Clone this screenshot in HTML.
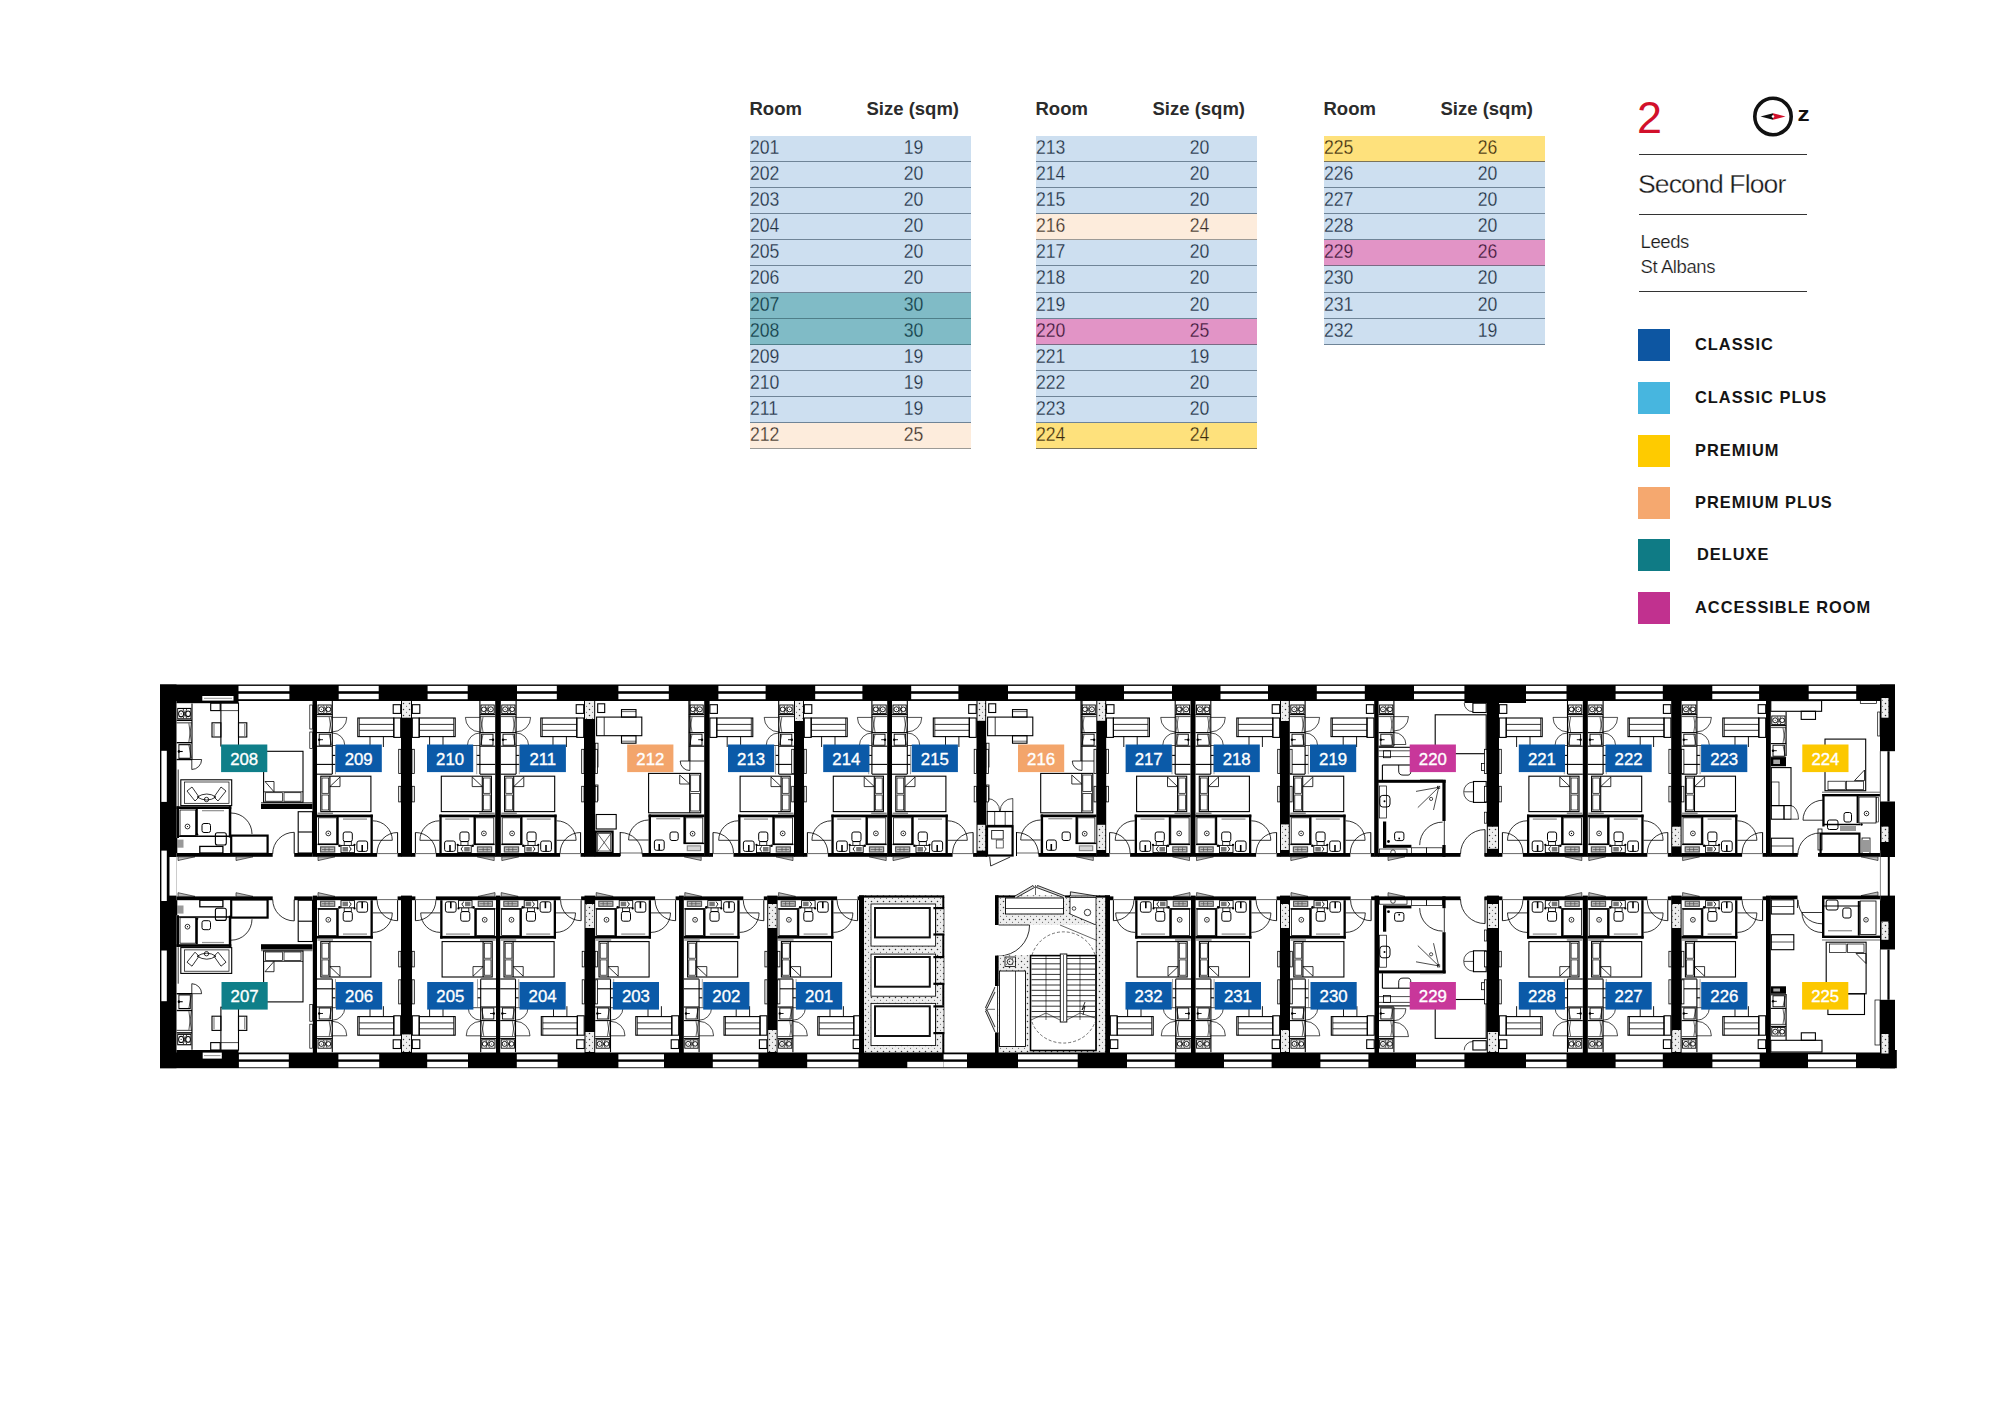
<!DOCTYPE html><html><head><meta charset="utf-8"><title>Second Floor</title><style>

*{margin:0;padding:0;box-sizing:border-box}
html,body{width:2000px;height:1414px;background:#fff;overflow:hidden}
body{position:relative;font-family:"Liberation Sans",Arial,sans-serif}
.th{position:absolute;top:97px;margin-left:-1px;font-weight:bold;font-size:18.5px;color:#2b2b2b;line-height:24px;white-space:nowrap}
.tr{position:absolute;width:221px;height:26px;border-bottom:1px solid #6f8497;font-size:19.6px;line-height:25px}
.tr .c1{position:absolute;left:0;top:-1px;transform:scaleX(0.9);transform-origin:0 0}
.tr .c2{position:absolute;left:143.5px;width:39px;text-align:center;top:-1px;transform:scaleX(0.9)}
.big2{position:absolute;left:1637px;top:92.5px;font-size:45px;line-height:50px;color:#d2102b}
.hr{position:absolute;left:1638.7px;width:168.7px;height:1.4px;background:#333}
.sf{position:absolute;left:1638px;top:168px;font-size:26.5px;letter-spacing:-0.85px;-webkit-text-stroke:0.3px #fff;line-height:32px;color:#1a1a1a;white-space:nowrap}
.city{position:absolute;left:1640.5px;letter-spacing:-0.4px;-webkit-text-stroke:0.22px #fff;font-size:18.5px;line-height:24px;color:#1a1a1a}
.sw{position:absolute;left:1637.5px;width:32.2px;height:31.5px}
.lg{position:absolute;font-weight:bold;font-size:16.4px;letter-spacing:1.0px;line-height:31.5px;color:#141414;white-space:nowrap}
svg{position:absolute;left:0;top:0}
.lb{font-family:"Liberation Sans",Arial,sans-serif;font-size:16.8px;fill:#fff;stroke:#fff;stroke-width:0.35px;text-anchor:middle}

</style></head><body>
<div class="th" style="left:750.5px">Room</div>
<div class="th" style="left:867.5px">Size (sqm)</div>
<div class="tr" style="left:750px;top:136px;height:26px;background:#cddff0;border-bottom-color:#6f8497;color:#22323f;-webkit-text-stroke:0.28px #cddff0"><span class="c1">201</span><span class="c2">19</span></div>
<div class="tr" style="left:750px;top:162px;height:26px;background:#cddff0;border-bottom-color:#6f8497;color:#22323f;-webkit-text-stroke:0.28px #cddff0"><span class="c1">202</span><span class="c2">20</span></div>
<div class="tr" style="left:750px;top:188px;height:26px;background:#cddff0;border-bottom-color:#6f8497;color:#22323f;-webkit-text-stroke:0.28px #cddff0"><span class="c1">203</span><span class="c2">20</span></div>
<div class="tr" style="left:750px;top:214px;height:26px;background:#cddff0;border-bottom-color:#6f8497;color:#22323f;-webkit-text-stroke:0.28px #cddff0"><span class="c1">204</span><span class="c2">20</span></div>
<div class="tr" style="left:750px;top:240px;height:26px;background:#cddff0;border-bottom-color:#6f8497;color:#22323f;-webkit-text-stroke:0.28px #cddff0"><span class="c1">205</span><span class="c2">20</span></div>
<div class="tr" style="left:750px;top:266px;height:27px;background:#cddff0;border-bottom-color:#6f8497;color:#22323f;-webkit-text-stroke:0.28px #cddff0"><span class="c1">206</span><span class="c2">20</span></div>
<div class="tr" style="left:750px;top:293px;height:26px;background:#80bbc6;border-bottom-color:#4f7f89;color:#123d45;-webkit-text-stroke:0.28px #80bbc6"><span class="c1">207</span><span class="c2">30</span></div>
<div class="tr" style="left:750px;top:319px;height:26px;background:#80bbc6;border-bottom-color:#4f7f89;color:#123d45;-webkit-text-stroke:0.28px #80bbc6"><span class="c1">208</span><span class="c2">30</span></div>
<div class="tr" style="left:750px;top:345px;height:26px;background:#cddff0;border-bottom-color:#6f8497;color:#22323f;-webkit-text-stroke:0.28px #cddff0"><span class="c1">209</span><span class="c2">19</span></div>
<div class="tr" style="left:750px;top:371px;height:26px;background:#cddff0;border-bottom-color:#6f8497;color:#22323f;-webkit-text-stroke:0.28px #cddff0"><span class="c1">210</span><span class="c2">19</span></div>
<div class="tr" style="left:750px;top:397px;height:26px;background:#cddff0;border-bottom-color:#6f8497;color:#22323f;-webkit-text-stroke:0.28px #cddff0"><span class="c1">211</span><span class="c2">19</span></div>
<div class="tr" style="left:750px;top:423px;height:26px;background:#fdecdc;border-bottom-color:#9c9a96;color:#3a2e2a;-webkit-text-stroke:0.28px #fdecdc"><span class="c1">212</span><span class="c2">25</span></div>
<div class="th" style="left:1036.5px">Room</div>
<div class="th" style="left:1153.5px">Size (sqm)</div>
<div class="tr" style="left:1036px;top:136px;height:26px;background:#cddff0;border-bottom-color:#6f8497;color:#22323f;-webkit-text-stroke:0.28px #cddff0"><span class="c1">213</span><span class="c2">20</span></div>
<div class="tr" style="left:1036px;top:162px;height:26px;background:#cddff0;border-bottom-color:#6f8497;color:#22323f;-webkit-text-stroke:0.28px #cddff0"><span class="c1">214</span><span class="c2">20</span></div>
<div class="tr" style="left:1036px;top:188px;height:26px;background:#cddff0;border-bottom-color:#6f8497;color:#22323f;-webkit-text-stroke:0.28px #cddff0"><span class="c1">215</span><span class="c2">20</span></div>
<div class="tr" style="left:1036px;top:214px;height:26px;background:#fdecdc;border-bottom-color:#9c9a96;color:#3a2e2a;-webkit-text-stroke:0.28px #fdecdc"><span class="c1">216</span><span class="c2">24</span></div>
<div class="tr" style="left:1036px;top:240px;height:26px;background:#cddff0;border-bottom-color:#6f8497;color:#22323f;-webkit-text-stroke:0.28px #cddff0"><span class="c1">217</span><span class="c2">20</span></div>
<div class="tr" style="left:1036px;top:266px;height:27px;background:#cddff0;border-bottom-color:#6f8497;color:#22323f;-webkit-text-stroke:0.28px #cddff0"><span class="c1">218</span><span class="c2">20</span></div>
<div class="tr" style="left:1036px;top:293px;height:26px;background:#cddff0;border-bottom-color:#6f8497;color:#22323f;-webkit-text-stroke:0.28px #cddff0"><span class="c1">219</span><span class="c2">20</span></div>
<div class="tr" style="left:1036px;top:319px;height:26px;background:#e294c6;border-bottom-color:#7c6a84;color:#3a1a3a;-webkit-text-stroke:0.28px #e294c6"><span class="c1">220</span><span class="c2">25</span></div>
<div class="tr" style="left:1036px;top:345px;height:26px;background:#cddff0;border-bottom-color:#6f8497;color:#22323f;-webkit-text-stroke:0.28px #cddff0"><span class="c1">221</span><span class="c2">19</span></div>
<div class="tr" style="left:1036px;top:371px;height:26px;background:#cddff0;border-bottom-color:#6f8497;color:#22323f;-webkit-text-stroke:0.28px #cddff0"><span class="c1">222</span><span class="c2">20</span></div>
<div class="tr" style="left:1036px;top:397px;height:26px;background:#cddff0;border-bottom-color:#6f8497;color:#22323f;-webkit-text-stroke:0.28px #cddff0"><span class="c1">223</span><span class="c2">20</span></div>
<div class="tr" style="left:1036px;top:423px;height:26px;background:#fee17c;border-bottom-color:#7a735a;color:#3a2a10;-webkit-text-stroke:0.28px #fee17c"><span class="c1">224</span><span class="c2">24</span></div>
<div class="th" style="left:1324.5px">Room</div>
<div class="th" style="left:1441.5px">Size (sqm)</div>
<div class="tr" style="left:1324px;top:136px;height:26px;background:#fee17c;border-bottom-color:#7a735a;color:#3a2a10;-webkit-text-stroke:0.28px #fee17c"><span class="c1">225</span><span class="c2">26</span></div>
<div class="tr" style="left:1324px;top:162px;height:26px;background:#cddff0;border-bottom-color:#6f8497;color:#22323f;-webkit-text-stroke:0.28px #cddff0"><span class="c1">226</span><span class="c2">20</span></div>
<div class="tr" style="left:1324px;top:188px;height:26px;background:#cddff0;border-bottom-color:#6f8497;color:#22323f;-webkit-text-stroke:0.28px #cddff0"><span class="c1">227</span><span class="c2">20</span></div>
<div class="tr" style="left:1324px;top:214px;height:26px;background:#cddff0;border-bottom-color:#6f8497;color:#22323f;-webkit-text-stroke:0.28px #cddff0"><span class="c1">228</span><span class="c2">20</span></div>
<div class="tr" style="left:1324px;top:240px;height:26px;background:#e294c6;border-bottom-color:#7c6a84;color:#3a1a3a;-webkit-text-stroke:0.28px #e294c6"><span class="c1">229</span><span class="c2">26</span></div>
<div class="tr" style="left:1324px;top:266px;height:27px;background:#cddff0;border-bottom-color:#6f8497;color:#22323f;-webkit-text-stroke:0.28px #cddff0"><span class="c1">230</span><span class="c2">20</span></div>
<div class="tr" style="left:1324px;top:293px;height:26px;background:#cddff0;border-bottom-color:#6f8497;color:#22323f;-webkit-text-stroke:0.28px #cddff0"><span class="c1">231</span><span class="c2">20</span></div>
<div class="tr" style="left:1324px;top:319px;height:26px;background:#cddff0;border-bottom-color:#6f8497;color:#22323f;-webkit-text-stroke:0.28px #cddff0"><span class="c1">232</span><span class="c2">19</span></div>
<div class="big2">2</div>
<div class="hr" style="top:154px"></div>
<div class="sf">Second Floor</div>
<div class="hr" style="top:214px"></div>
<div class="city" style="top:230px">Leeds</div>
<div class="city" style="top:255px">St Albans</div>
<div class="hr" style="top:291px"></div>
<div class="sw" style="top:329px;background:#0d56a2"></div>
<div class="lg" style="top:329px;left:1695px">CLASSIC</div>
<div class="sw" style="top:382px;background:#47b6df"></div>
<div class="lg" style="top:382px;left:1695px">CLASSIC PLUS</div>
<div class="sw" style="top:435px;background:#fecb00"></div>
<div class="lg" style="top:435px;left:1695px">PREMIUM</div>
<div class="sw" style="top:487px;background:#f5a86f"></div>
<div class="lg" style="top:487px;left:1695px">PREMIUM PLUS</div>
<div class="sw" style="top:539px;background:#0f7b85"></div>
<div class="lg" style="top:539px;left:1697px">DELUXE</div>
<div class="sw" style="top:592px;background:#c1318f"></div>
<div class="lg" style="top:592px;left:1695px">ACCESSIBLE ROOM</div>
<svg width="2000" height="1414" viewBox="0 0 2000 1414">
<circle cx="1773" cy="116.5" r="18.2" fill="none" stroke="#111" stroke-width="3.6"/>
<path d="M1760.5 116.5 L1773 113.3 L1773 119.7 Z" fill="#111"/>
<path d="M1785.5 116.5 L1773 113.3 L1773 119.7 Z" fill="#d2102b"/>
<circle cx="1773" cy="116.5" r="1.3" fill="#fff"/>
<text x="1797.5" y="121.5" font-family="Liberation Sans, Arial, sans-serif" font-weight="bold" font-size="21" fill="#111" transform="translate(1797.5,121.5) scale(1.15,1) translate(-1797.5,-121.5)">z</text>
<defs><pattern id="hatch" width="6" height="6" patternUnits="userSpaceOnUse"><rect width="6" height="6" fill="#eeeeee"/><circle cx="1.5" cy="1.5" r="0.75" fill="#333"/><circle cx="4.5" cy="4.2" r="0.55" fill="#555"/></pattern></defs><rect x="160" y="684.5" width="1736.5" height="384.2" fill="#fff"/><g transform="translate(317,701)"><line x1="15.3" y1="0" x2="15.3" y2="73" stroke="#000" stroke-width="1.1"/><rect x="1" y="4" width="13.2" height="8.4" fill="none" stroke="#000" stroke-width="0.9"/><circle cx="4.4" cy="8.3" r="2.5" stroke="#000" stroke-width="0.9" fill="none"/><circle cx="4.4" cy="8.3" r="0.5" fill="#000"/><circle cx="11.4" cy="8.3" r="2.3" stroke="#000" stroke-width="0.9" fill="none"/><path d="M 6.5 4.5 L 10 12 M 10 4.5 L 6.5 12" stroke="#000" stroke-width="0.7" fill="none"/><line x1="0" y1="13.6" x2="15.3" y2="13.6" stroke="#000" stroke-width="1.1"/><line x1="0" y1="15.6" x2="15.3" y2="15.6" stroke="#000" stroke-width="0.7"/><line x1="12.2" y1="16" x2="14.6" y2="31" stroke="#000" stroke-width="0.6"/><line x1="14.6" y1="16" x2="12.2" y2="31" stroke="#000" stroke-width="0.6"/><line x1="0" y1="31.6" x2="15.3" y2="31.6" stroke="#000" stroke-width="1.1"/><rect x="2.2" y="33.2" width="11.4" height="11" fill="none" stroke="#000" stroke-width="0.9"/><line x1="12.2" y1="33.5" x2="14.6" y2="44" stroke="#000" stroke-width="0.6"/><circle cx="2.2" cy="38.7" r="1.2" fill="#000"/><line x1="2.2" y1="38.7" x2="6" y2="38.7" stroke="#000" stroke-width="0.9"/><line x1="0" y1="45.2" x2="15.3" y2="45.2" stroke="#000" stroke-width="1.1"/><line x1="15.3" y1="54.4" x2="18.5" y2="54.4" stroke="#000" stroke-width="1.1"/><line x1="0" y1="63.4" x2="18.5" y2="63.4" stroke="#000" stroke-width="1.1"/><line x1="0" y1="73.2" x2="15.3" y2="73.2" stroke="#000" stroke-width="1.1"/><path d="M 15.3 16.4 H 29.8 A 14.5 14.5 0 0 1 15.3 30.9" stroke="#000" stroke-width="0.7" fill="none"/><path d="M 15.3 32 A 12.5 12.5 0 0 1 27.8 44.5 H 15.3" stroke="#000" stroke-width="0.7" fill="none"/><line x1="18.5" y1="45.2" x2="18.5" y2="73.2" stroke="#666" stroke-width="0.6"/><rect x="40.8" y="17" width="36" height="18.6" fill="none" stroke="#000" stroke-width="1.1"/><line x1="42.3" y1="17" x2="42.3" y2="35.6" stroke="#000" stroke-width="0.8"/><line x1="42.3" y1="23.4" x2="76.8" y2="23.4" stroke="#000" stroke-width="0.8"/><line x1="42.3" y1="29.3" x2="76.8" y2="29.3" stroke="#000" stroke-width="0.8"/><rect x="76.8" y="17" width="6.9" height="19.4" fill="none" stroke="#000" stroke-width="1.1"/><path d="M 53 35.6 V 46 M 66.4 35.6 V 46" stroke="#000" stroke-width="0.9" fill="none"/><rect x="76.2" y="3.7" width="7.5" height="8.7" fill="none" stroke="#000" stroke-width="1.1"/><rect x="3.8" y="75.2" width="50.1" height="35.4" fill="none" stroke="#000" stroke-width="1.1"/><line x1="12.9" y1="75.2" x2="12.9" y2="110.6" stroke="#000" stroke-width="1.1"/><rect x="5" y="77" width="6.7" height="15.3" fill="none" stroke="#000" stroke-width="0.7"/><rect x="5" y="94" width="6.7" height="15" fill="none" stroke="#000" stroke-width="0.7"/><path d="M 12.9 85.6 L 23 76 V 85.6 Z" stroke="#000" stroke-width="0.8" fill="none"/><line x1="0.5" y1="112.2" x2="16" y2="112.2" stroke="#000" stroke-width="0.7"/><rect x="-0.2" y="113.6" width="56" height="2.7" fill="#000"/><rect x="53.5" y="113.6" width="2.3" height="38.4" fill="#000"/><rect x="19.7" y="116" width="2" height="27" fill="#000"/><rect x="1.4" y="116.8" width="18.3" height="26.2" fill="none" stroke="#000" stroke-width="0.8"/><line x1="0.5" y1="143.4" x2="21.7" y2="143.4" stroke="#000" stroke-width="1.4"/><circle cx="11.3" cy="132.4" r="2.4" stroke="#000" stroke-width="0.8" fill="none"/><circle cx="11.3" cy="132.4" r="0.6" fill="#000"/><rect x="26.2" y="131" width="9.1" height="9.6" fill="none" stroke="#000" stroke-width="1" rx="2"/><rect x="27.2" y="140.6" width="7.1" height="3.8" fill="none" stroke="#000" stroke-width="0.8"/><rect x="39.9" y="140" width="10.7" height="10.4" fill="none" stroke="#000" stroke-width="1" rx="2"/><line x1="45.2" y1="144" x2="45.2" y2="150.4" stroke="#000" stroke-width="1.6"/><rect x="3" y="145.3" width="15.3" height="6.3" fill="#555"/><rect x="4.2" y="146.5" width="12.9" height="3.9" fill="#bbb"/><path d="M 5 148.5 H 16.5 M 8 146.5 V 150.4 M 12 146.5 V 150.4" stroke="#444" stroke-width="0.6" fill="none"/><rect x="24" y="144.4" width="13.5" height="7.2" fill="#fff" stroke="#000" stroke-width="0.9"/><rect x="25.5" y="146" width="5.5" height="4.5" fill="#777"/><path d="M 32 150.5 Q 36 148 32 145.5" stroke="#000" stroke-width="0.9" fill="none"/><rect x="26" y="117.4" width="24" height="1.4" fill="#999"/><circle cx="22.5" cy="144.8" r="1.3" fill="#000"/><circle cx="37.5" cy="143.8" r="1.1" fill="#000"/><path d="M 55.8 119.8 A 19.5 19.5 0 0 1 75.3 139.3 H 55.8" stroke="#000" stroke-width="0.8" fill="none"/><line x1="80.6" y1="131.5" x2="80.6" y2="152" stroke="#000" stroke-width="1"/><path d="M 80.6 131.5 A 20.5 20.5 0 0 0 60.1 152" stroke="#000" stroke-width="0.8" fill="none"/><line x1="60.1" y1="152.6" x2="80.6" y2="152.6" stroke="#000" stroke-width="0.6"/><rect x="-0.5" y="152" width="60.6" height="3.8" fill="#000"/><rect x="80.6" y="152" width="3.9" height="3.8" fill="#000"/><path d="M 1 155.8 L 18 155.8 L 1 159.6 Z" stroke="#000" stroke-width="0.6" fill="#bbb"/></g><g transform="translate(495.2,701) scale(-1,1)"><line x1="15.3" y1="0" x2="15.3" y2="73" stroke="#000" stroke-width="1.1"/><rect x="1" y="4" width="13.2" height="8.4" fill="none" stroke="#000" stroke-width="0.9"/><circle cx="4.4" cy="8.3" r="2.5" stroke="#000" stroke-width="0.9" fill="none"/><circle cx="4.4" cy="8.3" r="0.5" fill="#000"/><circle cx="11.4" cy="8.3" r="2.3" stroke="#000" stroke-width="0.9" fill="none"/><path d="M 6.5 4.5 L 10 12 M 10 4.5 L 6.5 12" stroke="#000" stroke-width="0.7" fill="none"/><line x1="0" y1="13.6" x2="15.3" y2="13.6" stroke="#000" stroke-width="1.1"/><line x1="0" y1="15.6" x2="15.3" y2="15.6" stroke="#000" stroke-width="0.7"/><line x1="12.2" y1="16" x2="14.6" y2="31" stroke="#000" stroke-width="0.6"/><line x1="14.6" y1="16" x2="12.2" y2="31" stroke="#000" stroke-width="0.6"/><line x1="0" y1="31.6" x2="15.3" y2="31.6" stroke="#000" stroke-width="1.1"/><rect x="2.2" y="33.2" width="11.4" height="11" fill="none" stroke="#000" stroke-width="0.9"/><line x1="12.2" y1="33.5" x2="14.6" y2="44" stroke="#000" stroke-width="0.6"/><circle cx="2.2" cy="38.7" r="1.2" fill="#000"/><line x1="2.2" y1="38.7" x2="6" y2="38.7" stroke="#000" stroke-width="0.9"/><line x1="0" y1="45.2" x2="15.3" y2="45.2" stroke="#000" stroke-width="1.1"/><line x1="15.3" y1="54.4" x2="18.5" y2="54.4" stroke="#000" stroke-width="1.1"/><line x1="0" y1="63.4" x2="18.5" y2="63.4" stroke="#000" stroke-width="1.1"/><line x1="0" y1="73.2" x2="15.3" y2="73.2" stroke="#000" stroke-width="1.1"/><path d="M 15.3 16.4 H 29.8 A 14.5 14.5 0 0 1 15.3 30.9" stroke="#000" stroke-width="0.7" fill="none"/><path d="M 15.3 32 A 12.5 12.5 0 0 1 27.8 44.5 H 15.3" stroke="#000" stroke-width="0.7" fill="none"/><line x1="18.5" y1="45.2" x2="18.5" y2="73.2" stroke="#666" stroke-width="0.6"/><rect x="40" y="17" width="36" height="18.6" fill="none" stroke="#000" stroke-width="1.1"/><line x1="41.5" y1="17" x2="41.5" y2="35.6" stroke="#000" stroke-width="0.8"/><line x1="41.5" y1="23.4" x2="76" y2="23.4" stroke="#000" stroke-width="0.8"/><line x1="41.5" y1="29.3" x2="76" y2="29.3" stroke="#000" stroke-width="0.8"/><rect x="76" y="17" width="6.9" height="19.4" fill="none" stroke="#000" stroke-width="1.1"/><path d="M 52.2 35.6 V 46 M 65.6 35.6 V 46" stroke="#000" stroke-width="0.9" fill="none"/><rect x="75.4" y="3.7" width="7.5" height="8.7" fill="none" stroke="#000" stroke-width="1.1"/><rect x="3.8" y="75.2" width="50.1" height="35.4" fill="none" stroke="#000" stroke-width="1.1"/><line x1="12.9" y1="75.2" x2="12.9" y2="110.6" stroke="#000" stroke-width="1.1"/><rect x="5" y="77" width="6.7" height="15.3" fill="none" stroke="#000" stroke-width="0.7"/><rect x="5" y="94" width="6.7" height="15" fill="none" stroke="#000" stroke-width="0.7"/><path d="M 12.9 85.6 L 23 76 V 85.6 Z" stroke="#000" stroke-width="0.8" fill="none"/><line x1="0.5" y1="112.2" x2="16" y2="112.2" stroke="#000" stroke-width="0.7"/><rect x="-0.2" y="113.6" width="56" height="2.7" fill="#000"/><rect x="53.5" y="113.6" width="2.3" height="38.4" fill="#000"/><rect x="19.7" y="116" width="2" height="27" fill="#000"/><rect x="1.4" y="116.8" width="18.3" height="26.2" fill="none" stroke="#000" stroke-width="0.8"/><line x1="0.5" y1="143.4" x2="21.7" y2="143.4" stroke="#000" stroke-width="1.4"/><circle cx="11.3" cy="132.4" r="2.4" stroke="#000" stroke-width="0.8" fill="none"/><circle cx="11.3" cy="132.4" r="0.6" fill="#000"/><rect x="26.2" y="131" width="9.1" height="9.6" fill="none" stroke="#000" stroke-width="1" rx="2"/><rect x="27.2" y="140.6" width="7.1" height="3.8" fill="none" stroke="#000" stroke-width="0.8"/><rect x="39.9" y="140" width="10.7" height="10.4" fill="none" stroke="#000" stroke-width="1" rx="2"/><line x1="45.2" y1="144" x2="45.2" y2="150.4" stroke="#000" stroke-width="1.6"/><rect x="3" y="145.3" width="15.3" height="6.3" fill="#555"/><rect x="4.2" y="146.5" width="12.9" height="3.9" fill="#bbb"/><path d="M 5 148.5 H 16.5 M 8 146.5 V 150.4 M 12 146.5 V 150.4" stroke="#444" stroke-width="0.6" fill="none"/><rect x="24" y="144.4" width="13.5" height="7.2" fill="#fff" stroke="#000" stroke-width="0.9"/><rect x="25.5" y="146" width="5.5" height="4.5" fill="#777"/><path d="M 32 150.5 Q 36 148 32 145.5" stroke="#000" stroke-width="0.9" fill="none"/><rect x="26" y="117.4" width="24" height="1.4" fill="#999"/><circle cx="22.5" cy="144.8" r="1.3" fill="#000"/><circle cx="37.5" cy="143.8" r="1.1" fill="#000"/><path d="M 55.8 119.8 A 19.5 19.5 0 0 1 75.3 139.3 H 55.8" stroke="#000" stroke-width="0.8" fill="none"/><line x1="79.8" y1="131.5" x2="79.8" y2="152" stroke="#000" stroke-width="1"/><path d="M 79.8 131.5 A 20.5 20.5 0 0 0 59.3 152" stroke="#000" stroke-width="0.8" fill="none"/><line x1="59.3" y1="152.6" x2="79.8" y2="152.6" stroke="#000" stroke-width="0.6"/><rect x="-0.5" y="152" width="59.8" height="3.8" fill="#000"/><rect x="79.8" y="152" width="3.9" height="3.8" fill="#000"/><path d="M 1 155.8 L 18 155.8 L 1 159.6 Z" stroke="#000" stroke-width="0.6" fill="#bbb"/></g><g transform="translate(500.8,701)"><line x1="15.3" y1="0" x2="15.3" y2="73" stroke="#000" stroke-width="1.1"/><rect x="1" y="4" width="13.2" height="8.4" fill="none" stroke="#000" stroke-width="0.9"/><circle cx="4.4" cy="8.3" r="2.5" stroke="#000" stroke-width="0.9" fill="none"/><circle cx="4.4" cy="8.3" r="0.5" fill="#000"/><circle cx="11.4" cy="8.3" r="2.3" stroke="#000" stroke-width="0.9" fill="none"/><path d="M 6.5 4.5 L 10 12 M 10 4.5 L 6.5 12" stroke="#000" stroke-width="0.7" fill="none"/><line x1="0" y1="13.6" x2="15.3" y2="13.6" stroke="#000" stroke-width="1.1"/><line x1="0" y1="15.6" x2="15.3" y2="15.6" stroke="#000" stroke-width="0.7"/><line x1="12.2" y1="16" x2="14.6" y2="31" stroke="#000" stroke-width="0.6"/><line x1="14.6" y1="16" x2="12.2" y2="31" stroke="#000" stroke-width="0.6"/><line x1="0" y1="31.6" x2="15.3" y2="31.6" stroke="#000" stroke-width="1.1"/><rect x="2.2" y="33.2" width="11.4" height="11" fill="none" stroke="#000" stroke-width="0.9"/><line x1="12.2" y1="33.5" x2="14.6" y2="44" stroke="#000" stroke-width="0.6"/><circle cx="2.2" cy="38.7" r="1.2" fill="#000"/><line x1="2.2" y1="38.7" x2="6" y2="38.7" stroke="#000" stroke-width="0.9"/><line x1="0" y1="45.2" x2="15.3" y2="45.2" stroke="#000" stroke-width="1.1"/><line x1="15.3" y1="54.4" x2="18.5" y2="54.4" stroke="#000" stroke-width="1.1"/><line x1="0" y1="63.4" x2="18.5" y2="63.4" stroke="#000" stroke-width="1.1"/><line x1="0" y1="73.2" x2="15.3" y2="73.2" stroke="#000" stroke-width="1.1"/><path d="M 15.3 16.4 H 29.8 A 14.5 14.5 0 0 1 15.3 30.9" stroke="#000" stroke-width="0.7" fill="none"/><path d="M 15.3 32 A 12.5 12.5 0 0 1 27.8 44.5 H 15.3" stroke="#000" stroke-width="0.7" fill="none"/><line x1="18.5" y1="45.2" x2="18.5" y2="73.2" stroke="#666" stroke-width="0.6"/><rect x="40" y="17" width="36" height="18.6" fill="none" stroke="#000" stroke-width="1.1"/><line x1="41.5" y1="17" x2="41.5" y2="35.6" stroke="#000" stroke-width="0.8"/><line x1="41.5" y1="23.4" x2="76" y2="23.4" stroke="#000" stroke-width="0.8"/><line x1="41.5" y1="29.3" x2="76" y2="29.3" stroke="#000" stroke-width="0.8"/><rect x="76" y="17" width="6.9" height="19.4" fill="none" stroke="#000" stroke-width="1.1"/><path d="M 52.2 35.6 V 46 M 65.6 35.6 V 46" stroke="#000" stroke-width="0.9" fill="none"/><rect x="75.4" y="3.7" width="7.5" height="8.7" fill="none" stroke="#000" stroke-width="1.1"/><rect x="3.8" y="75.2" width="50.1" height="35.4" fill="none" stroke="#000" stroke-width="1.1"/><line x1="12.9" y1="75.2" x2="12.9" y2="110.6" stroke="#000" stroke-width="1.1"/><rect x="5" y="77" width="6.7" height="15.3" fill="none" stroke="#000" stroke-width="0.7"/><rect x="5" y="94" width="6.7" height="15" fill="none" stroke="#000" stroke-width="0.7"/><path d="M 12.9 85.6 L 23 76 V 85.6 Z" stroke="#000" stroke-width="0.8" fill="none"/><line x1="0.5" y1="112.2" x2="16" y2="112.2" stroke="#000" stroke-width="0.7"/><rect x="-0.2" y="113.6" width="56" height="2.7" fill="#000"/><rect x="53.5" y="113.6" width="2.3" height="38.4" fill="#000"/><rect x="19.7" y="116" width="2" height="27" fill="#000"/><rect x="1.4" y="116.8" width="18.3" height="26.2" fill="none" stroke="#000" stroke-width="0.8"/><line x1="0.5" y1="143.4" x2="21.7" y2="143.4" stroke="#000" stroke-width="1.4"/><circle cx="11.3" cy="132.4" r="2.4" stroke="#000" stroke-width="0.8" fill="none"/><circle cx="11.3" cy="132.4" r="0.6" fill="#000"/><rect x="26.2" y="131" width="9.1" height="9.6" fill="none" stroke="#000" stroke-width="1" rx="2"/><rect x="27.2" y="140.6" width="7.1" height="3.8" fill="none" stroke="#000" stroke-width="0.8"/><rect x="39.9" y="140" width="10.7" height="10.4" fill="none" stroke="#000" stroke-width="1" rx="2"/><line x1="45.2" y1="144" x2="45.2" y2="150.4" stroke="#000" stroke-width="1.6"/><rect x="3" y="145.3" width="15.3" height="6.3" fill="#555"/><rect x="4.2" y="146.5" width="12.9" height="3.9" fill="#bbb"/><path d="M 5 148.5 H 16.5 M 8 146.5 V 150.4 M 12 146.5 V 150.4" stroke="#444" stroke-width="0.6" fill="none"/><rect x="24" y="144.4" width="13.5" height="7.2" fill="#fff" stroke="#000" stroke-width="0.9"/><rect x="25.5" y="146" width="5.5" height="4.5" fill="#777"/><path d="M 32 150.5 Q 36 148 32 145.5" stroke="#000" stroke-width="0.9" fill="none"/><rect x="26" y="117.4" width="24" height="1.4" fill="#999"/><circle cx="22.5" cy="144.8" r="1.3" fill="#000"/><circle cx="37.5" cy="143.8" r="1.1" fill="#000"/><path d="M 55.8 119.8 A 19.5 19.5 0 0 1 75.3 139.3 H 55.8" stroke="#000" stroke-width="0.8" fill="none"/><line x1="79.8" y1="131.5" x2="79.8" y2="152" stroke="#000" stroke-width="1"/><path d="M 79.8 131.5 A 20.5 20.5 0 0 0 59.3 152" stroke="#000" stroke-width="0.8" fill="none"/><line x1="59.3" y1="152.6" x2="79.8" y2="152.6" stroke="#000" stroke-width="0.6"/><rect x="-0.5" y="152" width="59.8" height="3.8" fill="#000"/><rect x="79.8" y="152" width="3.9" height="3.8" fill="#000"/><path d="M 1 155.8 L 18 155.8 L 1 159.6 Z" stroke="#000" stroke-width="0.6" fill="#bbb"/></g><g transform="translate(794,701) scale(-1,1)"><line x1="15.3" y1="0" x2="15.3" y2="73" stroke="#000" stroke-width="1.1"/><rect x="1" y="4" width="13.2" height="8.4" fill="none" stroke="#000" stroke-width="0.9"/><circle cx="4.4" cy="8.3" r="2.5" stroke="#000" stroke-width="0.9" fill="none"/><circle cx="4.4" cy="8.3" r="0.5" fill="#000"/><circle cx="11.4" cy="8.3" r="2.3" stroke="#000" stroke-width="0.9" fill="none"/><path d="M 6.5 4.5 L 10 12 M 10 4.5 L 6.5 12" stroke="#000" stroke-width="0.7" fill="none"/><line x1="0" y1="13.6" x2="15.3" y2="13.6" stroke="#000" stroke-width="1.1"/><line x1="0" y1="15.6" x2="15.3" y2="15.6" stroke="#000" stroke-width="0.7"/><line x1="12.2" y1="16" x2="14.6" y2="31" stroke="#000" stroke-width="0.6"/><line x1="14.6" y1="16" x2="12.2" y2="31" stroke="#000" stroke-width="0.6"/><line x1="0" y1="31.6" x2="15.3" y2="31.6" stroke="#000" stroke-width="1.1"/><rect x="2.2" y="33.2" width="11.4" height="11" fill="none" stroke="#000" stroke-width="0.9"/><line x1="12.2" y1="33.5" x2="14.6" y2="44" stroke="#000" stroke-width="0.6"/><circle cx="2.2" cy="38.7" r="1.2" fill="#000"/><line x1="2.2" y1="38.7" x2="6" y2="38.7" stroke="#000" stroke-width="0.9"/><line x1="0" y1="45.2" x2="15.3" y2="45.2" stroke="#000" stroke-width="1.1"/><line x1="15.3" y1="54.4" x2="18.5" y2="54.4" stroke="#000" stroke-width="1.1"/><line x1="0" y1="63.4" x2="18.5" y2="63.4" stroke="#000" stroke-width="1.1"/><line x1="0" y1="73.2" x2="15.3" y2="73.2" stroke="#000" stroke-width="1.1"/><path d="M 15.3 16.4 H 29.8 A 14.5 14.5 0 0 1 15.3 30.9" stroke="#000" stroke-width="0.7" fill="none"/><path d="M 15.3 32 A 12.5 12.5 0 0 1 27.8 44.5 H 15.3" stroke="#000" stroke-width="0.7" fill="none"/><line x1="18.5" y1="45.2" x2="18.5" y2="73.2" stroke="#666" stroke-width="0.6"/><rect x="41.2" y="17" width="36" height="18.6" fill="none" stroke="#000" stroke-width="1.1"/><line x1="42.7" y1="17" x2="42.7" y2="35.6" stroke="#000" stroke-width="0.8"/><line x1="42.7" y1="23.4" x2="77.2" y2="23.4" stroke="#000" stroke-width="0.8"/><line x1="42.7" y1="29.3" x2="77.2" y2="29.3" stroke="#000" stroke-width="0.8"/><rect x="77.2" y="17" width="6.9" height="19.4" fill="none" stroke="#000" stroke-width="1.1"/><path d="M 53.4 35.6 V 46 M 66.8 35.6 V 46" stroke="#000" stroke-width="0.9" fill="none"/><rect x="76.6" y="3.7" width="7.5" height="8.7" fill="none" stroke="#000" stroke-width="1.1"/><rect x="3.8" y="75.2" width="50.1" height="35.4" fill="none" stroke="#000" stroke-width="1.1"/><line x1="12.9" y1="75.2" x2="12.9" y2="110.6" stroke="#000" stroke-width="1.1"/><rect x="5" y="77" width="6.7" height="15.3" fill="none" stroke="#000" stroke-width="0.7"/><rect x="5" y="94" width="6.7" height="15" fill="none" stroke="#000" stroke-width="0.7"/><path d="M 12.9 85.6 L 23 76 V 85.6 Z" stroke="#000" stroke-width="0.8" fill="none"/><line x1="0.5" y1="112.2" x2="16" y2="112.2" stroke="#000" stroke-width="0.7"/><rect x="-0.2" y="113.6" width="56" height="2.7" fill="#000"/><rect x="53.5" y="113.6" width="2.3" height="38.4" fill="#000"/><rect x="19.7" y="116" width="2" height="27" fill="#000"/><rect x="1.4" y="116.8" width="18.3" height="26.2" fill="none" stroke="#000" stroke-width="0.8"/><line x1="0.5" y1="143.4" x2="21.7" y2="143.4" stroke="#000" stroke-width="1.4"/><circle cx="11.3" cy="132.4" r="2.4" stroke="#000" stroke-width="0.8" fill="none"/><circle cx="11.3" cy="132.4" r="0.6" fill="#000"/><rect x="26.2" y="131" width="9.1" height="9.6" fill="none" stroke="#000" stroke-width="1" rx="2"/><rect x="27.2" y="140.6" width="7.1" height="3.8" fill="none" stroke="#000" stroke-width="0.8"/><rect x="39.9" y="140" width="10.7" height="10.4" fill="none" stroke="#000" stroke-width="1" rx="2"/><line x1="45.2" y1="144" x2="45.2" y2="150.4" stroke="#000" stroke-width="1.6"/><rect x="3" y="145.3" width="15.3" height="6.3" fill="#555"/><rect x="4.2" y="146.5" width="12.9" height="3.9" fill="#bbb"/><path d="M 5 148.5 H 16.5 M 8 146.5 V 150.4 M 12 146.5 V 150.4" stroke="#444" stroke-width="0.6" fill="none"/><rect x="24" y="144.4" width="13.5" height="7.2" fill="#fff" stroke="#000" stroke-width="0.9"/><rect x="25.5" y="146" width="5.5" height="4.5" fill="#777"/><path d="M 32 150.5 Q 36 148 32 145.5" stroke="#000" stroke-width="0.9" fill="none"/><rect x="26" y="117.4" width="24" height="1.4" fill="#999"/><circle cx="22.5" cy="144.8" r="1.3" fill="#000"/><circle cx="37.5" cy="143.8" r="1.1" fill="#000"/><path d="M 55.8 119.8 A 19.5 19.5 0 0 1 75.3 139.3 H 55.8" stroke="#000" stroke-width="0.8" fill="none"/><line x1="81" y1="131.5" x2="81" y2="152" stroke="#000" stroke-width="1"/><path d="M 81 131.5 A 20.5 20.5 0 0 0 60.5 152" stroke="#000" stroke-width="0.8" fill="none"/><line x1="60.5" y1="152.6" x2="81" y2="152.6" stroke="#000" stroke-width="0.6"/><rect x="-0.5" y="152" width="61" height="3.8" fill="#000"/><rect x="81" y="152" width="3.9" height="3.8" fill="#000"/><path d="M 1 155.8 L 18 155.8 L 1 159.6 Z" stroke="#000" stroke-width="0.6" fill="#bbb"/></g><g transform="translate(887.2,701) scale(-1,1)"><line x1="15.3" y1="0" x2="15.3" y2="73" stroke="#000" stroke-width="1.1"/><rect x="1" y="4" width="13.2" height="8.4" fill="none" stroke="#000" stroke-width="0.9"/><circle cx="4.4" cy="8.3" r="2.5" stroke="#000" stroke-width="0.9" fill="none"/><circle cx="4.4" cy="8.3" r="0.5" fill="#000"/><circle cx="11.4" cy="8.3" r="2.3" stroke="#000" stroke-width="0.9" fill="none"/><path d="M 6.5 4.5 L 10 12 M 10 4.5 L 6.5 12" stroke="#000" stroke-width="0.7" fill="none"/><line x1="0" y1="13.6" x2="15.3" y2="13.6" stroke="#000" stroke-width="1.1"/><line x1="0" y1="15.6" x2="15.3" y2="15.6" stroke="#000" stroke-width="0.7"/><line x1="12.2" y1="16" x2="14.6" y2="31" stroke="#000" stroke-width="0.6"/><line x1="14.6" y1="16" x2="12.2" y2="31" stroke="#000" stroke-width="0.6"/><line x1="0" y1="31.6" x2="15.3" y2="31.6" stroke="#000" stroke-width="1.1"/><rect x="2.2" y="33.2" width="11.4" height="11" fill="none" stroke="#000" stroke-width="0.9"/><line x1="12.2" y1="33.5" x2="14.6" y2="44" stroke="#000" stroke-width="0.6"/><circle cx="2.2" cy="38.7" r="1.2" fill="#000"/><line x1="2.2" y1="38.7" x2="6" y2="38.7" stroke="#000" stroke-width="0.9"/><line x1="0" y1="45.2" x2="15.3" y2="45.2" stroke="#000" stroke-width="1.1"/><line x1="15.3" y1="54.4" x2="18.5" y2="54.4" stroke="#000" stroke-width="1.1"/><line x1="0" y1="63.4" x2="18.5" y2="63.4" stroke="#000" stroke-width="1.1"/><line x1="0" y1="73.2" x2="15.3" y2="73.2" stroke="#000" stroke-width="1.1"/><path d="M 15.3 16.4 H 29.8 A 14.5 14.5 0 0 1 15.3 30.9" stroke="#000" stroke-width="0.7" fill="none"/><path d="M 15.3 32 A 12.5 12.5 0 0 1 27.8 44.5 H 15.3" stroke="#000" stroke-width="0.7" fill="none"/><line x1="18.5" y1="45.2" x2="18.5" y2="73.2" stroke="#666" stroke-width="0.6"/><rect x="40" y="17" width="36" height="18.6" fill="none" stroke="#000" stroke-width="1.1"/><line x1="41.5" y1="17" x2="41.5" y2="35.6" stroke="#000" stroke-width="0.8"/><line x1="41.5" y1="23.4" x2="76" y2="23.4" stroke="#000" stroke-width="0.8"/><line x1="41.5" y1="29.3" x2="76" y2="29.3" stroke="#000" stroke-width="0.8"/><rect x="76" y="17" width="6.9" height="19.4" fill="none" stroke="#000" stroke-width="1.1"/><path d="M 52.2 35.6 V 46 M 65.6 35.6 V 46" stroke="#000" stroke-width="0.9" fill="none"/><rect x="75.4" y="3.7" width="7.5" height="8.7" fill="none" stroke="#000" stroke-width="1.1"/><rect x="3.8" y="75.2" width="50.1" height="35.4" fill="none" stroke="#000" stroke-width="1.1"/><line x1="12.9" y1="75.2" x2="12.9" y2="110.6" stroke="#000" stroke-width="1.1"/><rect x="5" y="77" width="6.7" height="15.3" fill="none" stroke="#000" stroke-width="0.7"/><rect x="5" y="94" width="6.7" height="15" fill="none" stroke="#000" stroke-width="0.7"/><path d="M 12.9 85.6 L 23 76 V 85.6 Z" stroke="#000" stroke-width="0.8" fill="none"/><line x1="0.5" y1="112.2" x2="16" y2="112.2" stroke="#000" stroke-width="0.7"/><rect x="-0.2" y="113.6" width="56" height="2.7" fill="#000"/><rect x="53.5" y="113.6" width="2.3" height="38.4" fill="#000"/><rect x="19.7" y="116" width="2" height="27" fill="#000"/><rect x="1.4" y="116.8" width="18.3" height="26.2" fill="none" stroke="#000" stroke-width="0.8"/><line x1="0.5" y1="143.4" x2="21.7" y2="143.4" stroke="#000" stroke-width="1.4"/><circle cx="11.3" cy="132.4" r="2.4" stroke="#000" stroke-width="0.8" fill="none"/><circle cx="11.3" cy="132.4" r="0.6" fill="#000"/><rect x="26.2" y="131" width="9.1" height="9.6" fill="none" stroke="#000" stroke-width="1" rx="2"/><rect x="27.2" y="140.6" width="7.1" height="3.8" fill="none" stroke="#000" stroke-width="0.8"/><rect x="39.9" y="140" width="10.7" height="10.4" fill="none" stroke="#000" stroke-width="1" rx="2"/><line x1="45.2" y1="144" x2="45.2" y2="150.4" stroke="#000" stroke-width="1.6"/><rect x="3" y="145.3" width="15.3" height="6.3" fill="#555"/><rect x="4.2" y="146.5" width="12.9" height="3.9" fill="#bbb"/><path d="M 5 148.5 H 16.5 M 8 146.5 V 150.4 M 12 146.5 V 150.4" stroke="#444" stroke-width="0.6" fill="none"/><rect x="24" y="144.4" width="13.5" height="7.2" fill="#fff" stroke="#000" stroke-width="0.9"/><rect x="25.5" y="146" width="5.5" height="4.5" fill="#777"/><path d="M 32 150.5 Q 36 148 32 145.5" stroke="#000" stroke-width="0.9" fill="none"/><rect x="26" y="117.4" width="24" height="1.4" fill="#999"/><circle cx="22.5" cy="144.8" r="1.3" fill="#000"/><circle cx="37.5" cy="143.8" r="1.1" fill="#000"/><path d="M 55.8 119.8 A 19.5 19.5 0 0 1 75.3 139.3 H 55.8" stroke="#000" stroke-width="0.8" fill="none"/><line x1="79.8" y1="131.5" x2="79.8" y2="152" stroke="#000" stroke-width="1"/><path d="M 79.8 131.5 A 20.5 20.5 0 0 0 59.3 152" stroke="#000" stroke-width="0.8" fill="none"/><line x1="59.3" y1="152.6" x2="79.8" y2="152.6" stroke="#000" stroke-width="0.6"/><rect x="-0.5" y="152" width="59.8" height="3.8" fill="#000"/><rect x="79.8" y="152" width="3.9" height="3.8" fill="#000"/><path d="M 1 155.8 L 18 155.8 L 1 159.6 Z" stroke="#000" stroke-width="0.6" fill="#bbb"/></g><g transform="translate(892,701)"><line x1="15.3" y1="0" x2="15.3" y2="73" stroke="#000" stroke-width="1.1"/><rect x="1" y="4" width="13.2" height="8.4" fill="none" stroke="#000" stroke-width="0.9"/><circle cx="4.4" cy="8.3" r="2.5" stroke="#000" stroke-width="0.9" fill="none"/><circle cx="4.4" cy="8.3" r="0.5" fill="#000"/><circle cx="11.4" cy="8.3" r="2.3" stroke="#000" stroke-width="0.9" fill="none"/><path d="M 6.5 4.5 L 10 12 M 10 4.5 L 6.5 12" stroke="#000" stroke-width="0.7" fill="none"/><line x1="0" y1="13.6" x2="15.3" y2="13.6" stroke="#000" stroke-width="1.1"/><line x1="0" y1="15.6" x2="15.3" y2="15.6" stroke="#000" stroke-width="0.7"/><line x1="12.2" y1="16" x2="14.6" y2="31" stroke="#000" stroke-width="0.6"/><line x1="14.6" y1="16" x2="12.2" y2="31" stroke="#000" stroke-width="0.6"/><line x1="0" y1="31.6" x2="15.3" y2="31.6" stroke="#000" stroke-width="1.1"/><rect x="2.2" y="33.2" width="11.4" height="11" fill="none" stroke="#000" stroke-width="0.9"/><line x1="12.2" y1="33.5" x2="14.6" y2="44" stroke="#000" stroke-width="0.6"/><circle cx="2.2" cy="38.7" r="1.2" fill="#000"/><line x1="2.2" y1="38.7" x2="6" y2="38.7" stroke="#000" stroke-width="0.9"/><line x1="0" y1="45.2" x2="15.3" y2="45.2" stroke="#000" stroke-width="1.1"/><line x1="15.3" y1="54.4" x2="18.5" y2="54.4" stroke="#000" stroke-width="1.1"/><line x1="0" y1="63.4" x2="18.5" y2="63.4" stroke="#000" stroke-width="1.1"/><line x1="0" y1="73.2" x2="15.3" y2="73.2" stroke="#000" stroke-width="1.1"/><path d="M 15.3 16.4 H 29.8 A 14.5 14.5 0 0 1 15.3 30.9" stroke="#000" stroke-width="0.7" fill="none"/><path d="M 15.3 32 A 12.5 12.5 0 0 1 27.8 44.5 H 15.3" stroke="#000" stroke-width="0.7" fill="none"/><line x1="18.5" y1="45.2" x2="18.5" y2="73.2" stroke="#666" stroke-width="0.6"/><rect x="41.3" y="17" width="36" height="18.6" fill="none" stroke="#000" stroke-width="1.1"/><line x1="42.8" y1="17" x2="42.8" y2="35.6" stroke="#000" stroke-width="0.8"/><line x1="42.8" y1="23.4" x2="77.3" y2="23.4" stroke="#000" stroke-width="0.8"/><line x1="42.8" y1="29.3" x2="77.3" y2="29.3" stroke="#000" stroke-width="0.8"/><rect x="77.3" y="17" width="6.9" height="19.4" fill="none" stroke="#000" stroke-width="1.1"/><path d="M 53.5 35.6 V 46 M 66.9 35.6 V 46" stroke="#000" stroke-width="0.9" fill="none"/><rect x="76.7" y="3.7" width="7.5" height="8.7" fill="none" stroke="#000" stroke-width="1.1"/><rect x="3.8" y="75.2" width="50.1" height="35.4" fill="none" stroke="#000" stroke-width="1.1"/><line x1="12.9" y1="75.2" x2="12.9" y2="110.6" stroke="#000" stroke-width="1.1"/><rect x="5" y="77" width="6.7" height="15.3" fill="none" stroke="#000" stroke-width="0.7"/><rect x="5" y="94" width="6.7" height="15" fill="none" stroke="#000" stroke-width="0.7"/><path d="M 12.9 85.6 L 23 76 V 85.6 Z" stroke="#000" stroke-width="0.8" fill="none"/><line x1="0.5" y1="112.2" x2="16" y2="112.2" stroke="#000" stroke-width="0.7"/><rect x="-0.2" y="113.6" width="56" height="2.7" fill="#000"/><rect x="53.5" y="113.6" width="2.3" height="38.4" fill="#000"/><rect x="19.7" y="116" width="2" height="27" fill="#000"/><rect x="1.4" y="116.8" width="18.3" height="26.2" fill="none" stroke="#000" stroke-width="0.8"/><line x1="0.5" y1="143.4" x2="21.7" y2="143.4" stroke="#000" stroke-width="1.4"/><circle cx="11.3" cy="132.4" r="2.4" stroke="#000" stroke-width="0.8" fill="none"/><circle cx="11.3" cy="132.4" r="0.6" fill="#000"/><rect x="26.2" y="131" width="9.1" height="9.6" fill="none" stroke="#000" stroke-width="1" rx="2"/><rect x="27.2" y="140.6" width="7.1" height="3.8" fill="none" stroke="#000" stroke-width="0.8"/><rect x="39.9" y="140" width="10.7" height="10.4" fill="none" stroke="#000" stroke-width="1" rx="2"/><line x1="45.2" y1="144" x2="45.2" y2="150.4" stroke="#000" stroke-width="1.6"/><rect x="3" y="145.3" width="15.3" height="6.3" fill="#555"/><rect x="4.2" y="146.5" width="12.9" height="3.9" fill="#bbb"/><path d="M 5 148.5 H 16.5 M 8 146.5 V 150.4 M 12 146.5 V 150.4" stroke="#444" stroke-width="0.6" fill="none"/><rect x="24" y="144.4" width="13.5" height="7.2" fill="#fff" stroke="#000" stroke-width="0.9"/><rect x="25.5" y="146" width="5.5" height="4.5" fill="#777"/><path d="M 32 150.5 Q 36 148 32 145.5" stroke="#000" stroke-width="0.9" fill="none"/><rect x="26" y="117.4" width="24" height="1.4" fill="#999"/><circle cx="22.5" cy="144.8" r="1.3" fill="#000"/><circle cx="37.5" cy="143.8" r="1.1" fill="#000"/><path d="M 55.8 119.8 A 19.5 19.5 0 0 1 75.3 139.3 H 55.8" stroke="#000" stroke-width="0.8" fill="none"/><line x1="81.1" y1="131.5" x2="81.1" y2="152" stroke="#000" stroke-width="1"/><path d="M 81.1 131.5 A 20.5 20.5 0 0 0 60.6 152" stroke="#000" stroke-width="0.8" fill="none"/><line x1="60.6" y1="152.6" x2="81.1" y2="152.6" stroke="#000" stroke-width="0.6"/><rect x="-0.5" y="152" width="61.1" height="3.8" fill="#000"/><rect x="81.1" y="152" width="3.9" height="3.8" fill="#000"/><path d="M 1 155.8 L 18 155.8 L 1 159.6 Z" stroke="#000" stroke-width="0.6" fill="#bbb"/></g><g transform="translate(1190.5,701) scale(-1,1)"><line x1="15.3" y1="0" x2="15.3" y2="73" stroke="#000" stroke-width="1.1"/><rect x="1" y="4" width="13.2" height="8.4" fill="none" stroke="#000" stroke-width="0.9"/><circle cx="4.4" cy="8.3" r="2.5" stroke="#000" stroke-width="0.9" fill="none"/><circle cx="4.4" cy="8.3" r="0.5" fill="#000"/><circle cx="11.4" cy="8.3" r="2.3" stroke="#000" stroke-width="0.9" fill="none"/><path d="M 6.5 4.5 L 10 12 M 10 4.5 L 6.5 12" stroke="#000" stroke-width="0.7" fill="none"/><line x1="0" y1="13.6" x2="15.3" y2="13.6" stroke="#000" stroke-width="1.1"/><line x1="0" y1="15.6" x2="15.3" y2="15.6" stroke="#000" stroke-width="0.7"/><line x1="12.2" y1="16" x2="14.6" y2="31" stroke="#000" stroke-width="0.6"/><line x1="14.6" y1="16" x2="12.2" y2="31" stroke="#000" stroke-width="0.6"/><line x1="0" y1="31.6" x2="15.3" y2="31.6" stroke="#000" stroke-width="1.1"/><rect x="2.2" y="33.2" width="11.4" height="11" fill="none" stroke="#000" stroke-width="0.9"/><line x1="12.2" y1="33.5" x2="14.6" y2="44" stroke="#000" stroke-width="0.6"/><circle cx="2.2" cy="38.7" r="1.2" fill="#000"/><line x1="2.2" y1="38.7" x2="6" y2="38.7" stroke="#000" stroke-width="0.9"/><line x1="0" y1="45.2" x2="15.3" y2="45.2" stroke="#000" stroke-width="1.1"/><line x1="15.3" y1="54.4" x2="18.5" y2="54.4" stroke="#000" stroke-width="1.1"/><line x1="0" y1="63.4" x2="18.5" y2="63.4" stroke="#000" stroke-width="1.1"/><line x1="0" y1="73.2" x2="15.3" y2="73.2" stroke="#000" stroke-width="1.1"/><path d="M 15.3 16.4 H 29.8 A 14.5 14.5 0 0 1 15.3 30.9" stroke="#000" stroke-width="0.7" fill="none"/><path d="M 15.3 32 A 12.5 12.5 0 0 1 27.8 44.5 H 15.3" stroke="#000" stroke-width="0.7" fill="none"/><line x1="18.5" y1="45.2" x2="18.5" y2="73.2" stroke="#666" stroke-width="0.6"/><rect x="41.1" y="17" width="36" height="18.6" fill="none" stroke="#000" stroke-width="1.1"/><line x1="42.6" y1="17" x2="42.6" y2="35.6" stroke="#000" stroke-width="0.8"/><line x1="42.6" y1="23.4" x2="77.1" y2="23.4" stroke="#000" stroke-width="0.8"/><line x1="42.6" y1="29.3" x2="77.1" y2="29.3" stroke="#000" stroke-width="0.8"/><rect x="77.1" y="17" width="6.9" height="19.4" fill="none" stroke="#000" stroke-width="1.1"/><path d="M 53.3 35.6 V 46 M 66.7 35.6 V 46" stroke="#000" stroke-width="0.9" fill="none"/><rect x="76.5" y="3.7" width="7.5" height="8.7" fill="none" stroke="#000" stroke-width="1.1"/><rect x="3.8" y="75.2" width="50.1" height="35.4" fill="none" stroke="#000" stroke-width="1.1"/><line x1="12.9" y1="75.2" x2="12.9" y2="110.6" stroke="#000" stroke-width="1.1"/><rect x="5" y="77" width="6.7" height="15.3" fill="none" stroke="#000" stroke-width="0.7"/><rect x="5" y="94" width="6.7" height="15" fill="none" stroke="#000" stroke-width="0.7"/><path d="M 12.9 85.6 L 23 76 V 85.6 Z" stroke="#000" stroke-width="0.8" fill="none"/><line x1="0.5" y1="112.2" x2="16" y2="112.2" stroke="#000" stroke-width="0.7"/><rect x="-0.2" y="113.6" width="56" height="2.7" fill="#000"/><rect x="53.5" y="113.6" width="2.3" height="38.4" fill="#000"/><rect x="19.7" y="116" width="2" height="27" fill="#000"/><rect x="1.4" y="116.8" width="18.3" height="26.2" fill="none" stroke="#000" stroke-width="0.8"/><line x1="0.5" y1="143.4" x2="21.7" y2="143.4" stroke="#000" stroke-width="1.4"/><circle cx="11.3" cy="132.4" r="2.4" stroke="#000" stroke-width="0.8" fill="none"/><circle cx="11.3" cy="132.4" r="0.6" fill="#000"/><rect x="26.2" y="131" width="9.1" height="9.6" fill="none" stroke="#000" stroke-width="1" rx="2"/><rect x="27.2" y="140.6" width="7.1" height="3.8" fill="none" stroke="#000" stroke-width="0.8"/><rect x="39.9" y="140" width="10.7" height="10.4" fill="none" stroke="#000" stroke-width="1" rx="2"/><line x1="45.2" y1="144" x2="45.2" y2="150.4" stroke="#000" stroke-width="1.6"/><rect x="3" y="145.3" width="15.3" height="6.3" fill="#555"/><rect x="4.2" y="146.5" width="12.9" height="3.9" fill="#bbb"/><path d="M 5 148.5 H 16.5 M 8 146.5 V 150.4 M 12 146.5 V 150.4" stroke="#444" stroke-width="0.6" fill="none"/><rect x="24" y="144.4" width="13.5" height="7.2" fill="#fff" stroke="#000" stroke-width="0.9"/><rect x="25.5" y="146" width="5.5" height="4.5" fill="#777"/><path d="M 32 150.5 Q 36 148 32 145.5" stroke="#000" stroke-width="0.9" fill="none"/><rect x="26" y="117.4" width="24" height="1.4" fill="#999"/><circle cx="22.5" cy="144.8" r="1.3" fill="#000"/><circle cx="37.5" cy="143.8" r="1.1" fill="#000"/><path d="M 55.8 119.8 A 19.5 19.5 0 0 1 75.3 139.3 H 55.8" stroke="#000" stroke-width="0.8" fill="none"/><line x1="80.9" y1="131.5" x2="80.9" y2="152" stroke="#000" stroke-width="1"/><path d="M 80.9 131.5 A 20.5 20.5 0 0 0 60.4 152" stroke="#000" stroke-width="0.8" fill="none"/><line x1="60.4" y1="152.6" x2="80.9" y2="152.6" stroke="#000" stroke-width="0.6"/><rect x="-0.5" y="152" width="60.9" height="3.8" fill="#000"/><rect x="80.9" y="152" width="3.9" height="3.8" fill="#000"/><path d="M 1 155.8 L 18 155.8 L 1 159.6 Z" stroke="#000" stroke-width="0.6" fill="#bbb"/></g><g transform="translate(1195.5,701)"><line x1="15.3" y1="0" x2="15.3" y2="73" stroke="#000" stroke-width="1.1"/><rect x="1" y="4" width="13.2" height="8.4" fill="none" stroke="#000" stroke-width="0.9"/><circle cx="4.4" cy="8.3" r="2.5" stroke="#000" stroke-width="0.9" fill="none"/><circle cx="4.4" cy="8.3" r="0.5" fill="#000"/><circle cx="11.4" cy="8.3" r="2.3" stroke="#000" stroke-width="0.9" fill="none"/><path d="M 6.5 4.5 L 10 12 M 10 4.5 L 6.5 12" stroke="#000" stroke-width="0.7" fill="none"/><line x1="0" y1="13.6" x2="15.3" y2="13.6" stroke="#000" stroke-width="1.1"/><line x1="0" y1="15.6" x2="15.3" y2="15.6" stroke="#000" stroke-width="0.7"/><line x1="12.2" y1="16" x2="14.6" y2="31" stroke="#000" stroke-width="0.6"/><line x1="14.6" y1="16" x2="12.2" y2="31" stroke="#000" stroke-width="0.6"/><line x1="0" y1="31.6" x2="15.3" y2="31.6" stroke="#000" stroke-width="1.1"/><rect x="2.2" y="33.2" width="11.4" height="11" fill="none" stroke="#000" stroke-width="0.9"/><line x1="12.2" y1="33.5" x2="14.6" y2="44" stroke="#000" stroke-width="0.6"/><circle cx="2.2" cy="38.7" r="1.2" fill="#000"/><line x1="2.2" y1="38.7" x2="6" y2="38.7" stroke="#000" stroke-width="0.9"/><line x1="0" y1="45.2" x2="15.3" y2="45.2" stroke="#000" stroke-width="1.1"/><line x1="15.3" y1="54.4" x2="18.5" y2="54.4" stroke="#000" stroke-width="1.1"/><line x1="0" y1="63.4" x2="18.5" y2="63.4" stroke="#000" stroke-width="1.1"/><line x1="0" y1="73.2" x2="15.3" y2="73.2" stroke="#000" stroke-width="1.1"/><path d="M 15.3 16.4 H 29.8 A 14.5 14.5 0 0 1 15.3 30.9" stroke="#000" stroke-width="0.7" fill="none"/><path d="M 15.3 32 A 12.5 12.5 0 0 1 27.8 44.5 H 15.3" stroke="#000" stroke-width="0.7" fill="none"/><line x1="18.5" y1="45.2" x2="18.5" y2="73.2" stroke="#666" stroke-width="0.6"/><rect x="41.3" y="17" width="36" height="18.6" fill="none" stroke="#000" stroke-width="1.1"/><line x1="42.8" y1="17" x2="42.8" y2="35.6" stroke="#000" stroke-width="0.8"/><line x1="42.8" y1="23.4" x2="77.3" y2="23.4" stroke="#000" stroke-width="0.8"/><line x1="42.8" y1="29.3" x2="77.3" y2="29.3" stroke="#000" stroke-width="0.8"/><rect x="77.3" y="17" width="6.9" height="19.4" fill="none" stroke="#000" stroke-width="1.1"/><path d="M 53.5 35.6 V 46 M 66.9 35.6 V 46" stroke="#000" stroke-width="0.9" fill="none"/><rect x="76.7" y="3.7" width="7.5" height="8.7" fill="none" stroke="#000" stroke-width="1.1"/><rect x="3.8" y="75.2" width="50.1" height="35.4" fill="none" stroke="#000" stroke-width="1.1"/><line x1="12.9" y1="75.2" x2="12.9" y2="110.6" stroke="#000" stroke-width="1.1"/><rect x="5" y="77" width="6.7" height="15.3" fill="none" stroke="#000" stroke-width="0.7"/><rect x="5" y="94" width="6.7" height="15" fill="none" stroke="#000" stroke-width="0.7"/><path d="M 12.9 85.6 L 23 76 V 85.6 Z" stroke="#000" stroke-width="0.8" fill="none"/><line x1="0.5" y1="112.2" x2="16" y2="112.2" stroke="#000" stroke-width="0.7"/><rect x="-0.2" y="113.6" width="56" height="2.7" fill="#000"/><rect x="53.5" y="113.6" width="2.3" height="38.4" fill="#000"/><rect x="19.7" y="116" width="2" height="27" fill="#000"/><rect x="1.4" y="116.8" width="18.3" height="26.2" fill="none" stroke="#000" stroke-width="0.8"/><line x1="0.5" y1="143.4" x2="21.7" y2="143.4" stroke="#000" stroke-width="1.4"/><circle cx="11.3" cy="132.4" r="2.4" stroke="#000" stroke-width="0.8" fill="none"/><circle cx="11.3" cy="132.4" r="0.6" fill="#000"/><rect x="26.2" y="131" width="9.1" height="9.6" fill="none" stroke="#000" stroke-width="1" rx="2"/><rect x="27.2" y="140.6" width="7.1" height="3.8" fill="none" stroke="#000" stroke-width="0.8"/><rect x="39.9" y="140" width="10.7" height="10.4" fill="none" stroke="#000" stroke-width="1" rx="2"/><line x1="45.2" y1="144" x2="45.2" y2="150.4" stroke="#000" stroke-width="1.6"/><rect x="3" y="145.3" width="15.3" height="6.3" fill="#555"/><rect x="4.2" y="146.5" width="12.9" height="3.9" fill="#bbb"/><path d="M 5 148.5 H 16.5 M 8 146.5 V 150.4 M 12 146.5 V 150.4" stroke="#444" stroke-width="0.6" fill="none"/><rect x="24" y="144.4" width="13.5" height="7.2" fill="#fff" stroke="#000" stroke-width="0.9"/><rect x="25.5" y="146" width="5.5" height="4.5" fill="#777"/><path d="M 32 150.5 Q 36 148 32 145.5" stroke="#000" stroke-width="0.9" fill="none"/><rect x="26" y="117.4" width="24" height="1.4" fill="#999"/><circle cx="22.5" cy="144.8" r="1.3" fill="#000"/><circle cx="37.5" cy="143.8" r="1.1" fill="#000"/><path d="M 55.8 119.8 A 19.5 19.5 0 0 1 75.3 139.3 H 55.8" stroke="#000" stroke-width="0.8" fill="none"/><line x1="81.1" y1="131.5" x2="81.1" y2="152" stroke="#000" stroke-width="1"/><path d="M 81.1 131.5 A 20.5 20.5 0 0 0 60.6 152" stroke="#000" stroke-width="0.8" fill="none"/><line x1="60.6" y1="152.6" x2="81.1" y2="152.6" stroke="#000" stroke-width="0.6"/><rect x="-0.5" y="152" width="61.1" height="3.8" fill="#000"/><rect x="81.1" y="152" width="3.9" height="3.8" fill="#000"/><path d="M 1 155.8 L 18 155.8 L 1 159.6 Z" stroke="#000" stroke-width="0.6" fill="#bbb"/></g><g transform="translate(1289.8,701)"><line x1="15.3" y1="0" x2="15.3" y2="73" stroke="#000" stroke-width="1.1"/><rect x="1" y="4" width="13.2" height="8.4" fill="none" stroke="#000" stroke-width="0.9"/><circle cx="4.4" cy="8.3" r="2.5" stroke="#000" stroke-width="0.9" fill="none"/><circle cx="4.4" cy="8.3" r="0.5" fill="#000"/><circle cx="11.4" cy="8.3" r="2.3" stroke="#000" stroke-width="0.9" fill="none"/><path d="M 6.5 4.5 L 10 12 M 10 4.5 L 6.5 12" stroke="#000" stroke-width="0.7" fill="none"/><line x1="0" y1="13.6" x2="15.3" y2="13.6" stroke="#000" stroke-width="1.1"/><line x1="0" y1="15.6" x2="15.3" y2="15.6" stroke="#000" stroke-width="0.7"/><line x1="12.2" y1="16" x2="14.6" y2="31" stroke="#000" stroke-width="0.6"/><line x1="14.6" y1="16" x2="12.2" y2="31" stroke="#000" stroke-width="0.6"/><line x1="0" y1="31.6" x2="15.3" y2="31.6" stroke="#000" stroke-width="1.1"/><rect x="2.2" y="33.2" width="11.4" height="11" fill="none" stroke="#000" stroke-width="0.9"/><line x1="12.2" y1="33.5" x2="14.6" y2="44" stroke="#000" stroke-width="0.6"/><circle cx="2.2" cy="38.7" r="1.2" fill="#000"/><line x1="2.2" y1="38.7" x2="6" y2="38.7" stroke="#000" stroke-width="0.9"/><line x1="0" y1="45.2" x2="15.3" y2="45.2" stroke="#000" stroke-width="1.1"/><line x1="15.3" y1="54.4" x2="18.5" y2="54.4" stroke="#000" stroke-width="1.1"/><line x1="0" y1="63.4" x2="18.5" y2="63.4" stroke="#000" stroke-width="1.1"/><line x1="0" y1="73.2" x2="15.3" y2="73.2" stroke="#000" stroke-width="1.1"/><path d="M 15.3 16.4 H 29.8 A 14.5 14.5 0 0 1 15.3 30.9" stroke="#000" stroke-width="0.7" fill="none"/><path d="M 15.3 32 A 12.5 12.5 0 0 1 27.8 44.5 H 15.3" stroke="#000" stroke-width="0.7" fill="none"/><line x1="18.5" y1="45.2" x2="18.5" y2="73.2" stroke="#666" stroke-width="0.6"/><rect x="41.2" y="17" width="36" height="18.6" fill="none" stroke="#000" stroke-width="1.1"/><line x1="42.7" y1="17" x2="42.7" y2="35.6" stroke="#000" stroke-width="0.8"/><line x1="42.7" y1="23.4" x2="77.2" y2="23.4" stroke="#000" stroke-width="0.8"/><line x1="42.7" y1="29.3" x2="77.2" y2="29.3" stroke="#000" stroke-width="0.8"/><rect x="77.2" y="17" width="6.9" height="19.4" fill="none" stroke="#000" stroke-width="1.1"/><path d="M 53.4 35.6 V 46 M 66.8 35.6 V 46" stroke="#000" stroke-width="0.9" fill="none"/><rect x="76.6" y="3.7" width="7.5" height="8.7" fill="none" stroke="#000" stroke-width="1.1"/><rect x="3.8" y="75.2" width="50.1" height="35.4" fill="none" stroke="#000" stroke-width="1.1"/><line x1="12.9" y1="75.2" x2="12.9" y2="110.6" stroke="#000" stroke-width="1.1"/><rect x="5" y="77" width="6.7" height="15.3" fill="none" stroke="#000" stroke-width="0.7"/><rect x="5" y="94" width="6.7" height="15" fill="none" stroke="#000" stroke-width="0.7"/><path d="M 12.9 85.6 L 23 76 V 85.6 Z" stroke="#000" stroke-width="0.8" fill="none"/><line x1="0.5" y1="112.2" x2="16" y2="112.2" stroke="#000" stroke-width="0.7"/><rect x="-0.2" y="113.6" width="56" height="2.7" fill="#000"/><rect x="53.5" y="113.6" width="2.3" height="38.4" fill="#000"/><rect x="19.7" y="116" width="2" height="27" fill="#000"/><rect x="1.4" y="116.8" width="18.3" height="26.2" fill="none" stroke="#000" stroke-width="0.8"/><line x1="0.5" y1="143.4" x2="21.7" y2="143.4" stroke="#000" stroke-width="1.4"/><circle cx="11.3" cy="132.4" r="2.4" stroke="#000" stroke-width="0.8" fill="none"/><circle cx="11.3" cy="132.4" r="0.6" fill="#000"/><rect x="26.2" y="131" width="9.1" height="9.6" fill="none" stroke="#000" stroke-width="1" rx="2"/><rect x="27.2" y="140.6" width="7.1" height="3.8" fill="none" stroke="#000" stroke-width="0.8"/><rect x="39.9" y="140" width="10.7" height="10.4" fill="none" stroke="#000" stroke-width="1" rx="2"/><line x1="45.2" y1="144" x2="45.2" y2="150.4" stroke="#000" stroke-width="1.6"/><rect x="3" y="145.3" width="15.3" height="6.3" fill="#555"/><rect x="4.2" y="146.5" width="12.9" height="3.9" fill="#bbb"/><path d="M 5 148.5 H 16.5 M 8 146.5 V 150.4 M 12 146.5 V 150.4" stroke="#444" stroke-width="0.6" fill="none"/><rect x="24" y="144.4" width="13.5" height="7.2" fill="#fff" stroke="#000" stroke-width="0.9"/><rect x="25.5" y="146" width="5.5" height="4.5" fill="#777"/><path d="M 32 150.5 Q 36 148 32 145.5" stroke="#000" stroke-width="0.9" fill="none"/><rect x="26" y="117.4" width="24" height="1.4" fill="#999"/><circle cx="22.5" cy="144.8" r="1.3" fill="#000"/><circle cx="37.5" cy="143.8" r="1.1" fill="#000"/><path d="M 55.8 119.8 A 19.5 19.5 0 0 1 75.3 139.3 H 55.8" stroke="#000" stroke-width="0.8" fill="none"/><line x1="81" y1="131.5" x2="81" y2="152" stroke="#000" stroke-width="1"/><path d="M 81 131.5 A 20.5 20.5 0 0 0 60.5 152" stroke="#000" stroke-width="0.8" fill="none"/><line x1="60.5" y1="152.6" x2="81" y2="152.6" stroke="#000" stroke-width="0.6"/><rect x="-0.5" y="152" width="61" height="3.8" fill="#000"/><rect x="81" y="152" width="3.9" height="3.8" fill="#000"/><path d="M 1 155.8 L 18 155.8 L 1 159.6 Z" stroke="#000" stroke-width="0.6" fill="#bbb"/></g><g transform="translate(1582.8,701) scale(-1,1)"><line x1="15.3" y1="0" x2="15.3" y2="73" stroke="#000" stroke-width="1.1"/><rect x="1" y="4" width="13.2" height="8.4" fill="none" stroke="#000" stroke-width="0.9"/><circle cx="4.4" cy="8.3" r="2.5" stroke="#000" stroke-width="0.9" fill="none"/><circle cx="4.4" cy="8.3" r="0.5" fill="#000"/><circle cx="11.4" cy="8.3" r="2.3" stroke="#000" stroke-width="0.9" fill="none"/><path d="M 6.5 4.5 L 10 12 M 10 4.5 L 6.5 12" stroke="#000" stroke-width="0.7" fill="none"/><line x1="0" y1="13.6" x2="15.3" y2="13.6" stroke="#000" stroke-width="1.1"/><line x1="0" y1="15.6" x2="15.3" y2="15.6" stroke="#000" stroke-width="0.7"/><line x1="12.2" y1="16" x2="14.6" y2="31" stroke="#000" stroke-width="0.6"/><line x1="14.6" y1="16" x2="12.2" y2="31" stroke="#000" stroke-width="0.6"/><line x1="0" y1="31.6" x2="15.3" y2="31.6" stroke="#000" stroke-width="1.1"/><rect x="2.2" y="33.2" width="11.4" height="11" fill="none" stroke="#000" stroke-width="0.9"/><line x1="12.2" y1="33.5" x2="14.6" y2="44" stroke="#000" stroke-width="0.6"/><circle cx="2.2" cy="38.7" r="1.2" fill="#000"/><line x1="2.2" y1="38.7" x2="6" y2="38.7" stroke="#000" stroke-width="0.9"/><line x1="0" y1="45.2" x2="15.3" y2="45.2" stroke="#000" stroke-width="1.1"/><line x1="15.3" y1="54.4" x2="18.5" y2="54.4" stroke="#000" stroke-width="1.1"/><line x1="0" y1="63.4" x2="18.5" y2="63.4" stroke="#000" stroke-width="1.1"/><line x1="0" y1="73.2" x2="15.3" y2="73.2" stroke="#000" stroke-width="1.1"/><path d="M 15.3 16.4 H 29.8 A 14.5 14.5 0 0 1 15.3 30.9" stroke="#000" stroke-width="0.7" fill="none"/><path d="M 15.3 32 A 12.5 12.5 0 0 1 27.8 44.5 H 15.3" stroke="#000" stroke-width="0.7" fill="none"/><line x1="18.5" y1="45.2" x2="18.5" y2="73.2" stroke="#666" stroke-width="0.6"/><rect x="40.6" y="17" width="36" height="18.6" fill="none" stroke="#000" stroke-width="1.1"/><line x1="42.1" y1="17" x2="42.1" y2="35.6" stroke="#000" stroke-width="0.8"/><line x1="42.1" y1="23.4" x2="76.6" y2="23.4" stroke="#000" stroke-width="0.8"/><line x1="42.1" y1="29.3" x2="76.6" y2="29.3" stroke="#000" stroke-width="0.8"/><rect x="76.6" y="17" width="6.9" height="19.4" fill="none" stroke="#000" stroke-width="1.1"/><path d="M 52.8 35.6 V 46 M 66.2 35.6 V 46" stroke="#000" stroke-width="0.9" fill="none"/><rect x="76" y="3.7" width="7.5" height="8.7" fill="none" stroke="#000" stroke-width="1.1"/><rect x="3.8" y="75.2" width="50.1" height="35.4" fill="none" stroke="#000" stroke-width="1.1"/><line x1="12.9" y1="75.2" x2="12.9" y2="110.6" stroke="#000" stroke-width="1.1"/><rect x="5" y="77" width="6.7" height="15.3" fill="none" stroke="#000" stroke-width="0.7"/><rect x="5" y="94" width="6.7" height="15" fill="none" stroke="#000" stroke-width="0.7"/><path d="M 12.9 85.6 L 23 76 V 85.6 Z" stroke="#000" stroke-width="0.8" fill="none"/><line x1="0.5" y1="112.2" x2="16" y2="112.2" stroke="#000" stroke-width="0.7"/><rect x="-0.2" y="113.6" width="56" height="2.7" fill="#000"/><rect x="53.5" y="113.6" width="2.3" height="38.4" fill="#000"/><rect x="19.7" y="116" width="2" height="27" fill="#000"/><rect x="1.4" y="116.8" width="18.3" height="26.2" fill="none" stroke="#000" stroke-width="0.8"/><line x1="0.5" y1="143.4" x2="21.7" y2="143.4" stroke="#000" stroke-width="1.4"/><circle cx="11.3" cy="132.4" r="2.4" stroke="#000" stroke-width="0.8" fill="none"/><circle cx="11.3" cy="132.4" r="0.6" fill="#000"/><rect x="26.2" y="131" width="9.1" height="9.6" fill="none" stroke="#000" stroke-width="1" rx="2"/><rect x="27.2" y="140.6" width="7.1" height="3.8" fill="none" stroke="#000" stroke-width="0.8"/><rect x="39.9" y="140" width="10.7" height="10.4" fill="none" stroke="#000" stroke-width="1" rx="2"/><line x1="45.2" y1="144" x2="45.2" y2="150.4" stroke="#000" stroke-width="1.6"/><rect x="3" y="145.3" width="15.3" height="6.3" fill="#555"/><rect x="4.2" y="146.5" width="12.9" height="3.9" fill="#bbb"/><path d="M 5 148.5 H 16.5 M 8 146.5 V 150.4 M 12 146.5 V 150.4" stroke="#444" stroke-width="0.6" fill="none"/><rect x="24" y="144.4" width="13.5" height="7.2" fill="#fff" stroke="#000" stroke-width="0.9"/><rect x="25.5" y="146" width="5.5" height="4.5" fill="#777"/><path d="M 32 150.5 Q 36 148 32 145.5" stroke="#000" stroke-width="0.9" fill="none"/><rect x="26" y="117.4" width="24" height="1.4" fill="#999"/><circle cx="22.5" cy="144.8" r="1.3" fill="#000"/><circle cx="37.5" cy="143.8" r="1.1" fill="#000"/><path d="M 55.8 119.8 A 19.5 19.5 0 0 1 75.3 139.3 H 55.8" stroke="#000" stroke-width="0.8" fill="none"/><line x1="80.4" y1="131.5" x2="80.4" y2="152" stroke="#000" stroke-width="1"/><path d="M 80.4 131.5 A 20.5 20.5 0 0 0 59.9 152" stroke="#000" stroke-width="0.8" fill="none"/><line x1="59.9" y1="152.6" x2="80.4" y2="152.6" stroke="#000" stroke-width="0.6"/><rect x="-0.5" y="152" width="60.4" height="3.8" fill="#000"/><rect x="80.4" y="152" width="3.9" height="3.8" fill="#000"/><path d="M 1 155.8 L 18 155.8 L 1 159.6 Z" stroke="#000" stroke-width="0.6" fill="#bbb"/></g><g transform="translate(1587.8,701)"><line x1="15.3" y1="0" x2="15.3" y2="73" stroke="#000" stroke-width="1.1"/><rect x="1" y="4" width="13.2" height="8.4" fill="none" stroke="#000" stroke-width="0.9"/><circle cx="4.4" cy="8.3" r="2.5" stroke="#000" stroke-width="0.9" fill="none"/><circle cx="4.4" cy="8.3" r="0.5" fill="#000"/><circle cx="11.4" cy="8.3" r="2.3" stroke="#000" stroke-width="0.9" fill="none"/><path d="M 6.5 4.5 L 10 12 M 10 4.5 L 6.5 12" stroke="#000" stroke-width="0.7" fill="none"/><line x1="0" y1="13.6" x2="15.3" y2="13.6" stroke="#000" stroke-width="1.1"/><line x1="0" y1="15.6" x2="15.3" y2="15.6" stroke="#000" stroke-width="0.7"/><line x1="12.2" y1="16" x2="14.6" y2="31" stroke="#000" stroke-width="0.6"/><line x1="14.6" y1="16" x2="12.2" y2="31" stroke="#000" stroke-width="0.6"/><line x1="0" y1="31.6" x2="15.3" y2="31.6" stroke="#000" stroke-width="1.1"/><rect x="2.2" y="33.2" width="11.4" height="11" fill="none" stroke="#000" stroke-width="0.9"/><line x1="12.2" y1="33.5" x2="14.6" y2="44" stroke="#000" stroke-width="0.6"/><circle cx="2.2" cy="38.7" r="1.2" fill="#000"/><line x1="2.2" y1="38.7" x2="6" y2="38.7" stroke="#000" stroke-width="0.9"/><line x1="0" y1="45.2" x2="15.3" y2="45.2" stroke="#000" stroke-width="1.1"/><line x1="15.3" y1="54.4" x2="18.5" y2="54.4" stroke="#000" stroke-width="1.1"/><line x1="0" y1="63.4" x2="18.5" y2="63.4" stroke="#000" stroke-width="1.1"/><line x1="0" y1="73.2" x2="15.3" y2="73.2" stroke="#000" stroke-width="1.1"/><path d="M 15.3 16.4 H 29.8 A 14.5 14.5 0 0 1 15.3 30.9" stroke="#000" stroke-width="0.7" fill="none"/><path d="M 15.3 32 A 12.5 12.5 0 0 1 27.8 44.5 H 15.3" stroke="#000" stroke-width="0.7" fill="none"/><line x1="18.5" y1="45.2" x2="18.5" y2="73.2" stroke="#666" stroke-width="0.6"/><rect x="40.2" y="17" width="36" height="18.6" fill="none" stroke="#000" stroke-width="1.1"/><line x1="41.7" y1="17" x2="41.7" y2="35.6" stroke="#000" stroke-width="0.8"/><line x1="41.7" y1="23.4" x2="76.2" y2="23.4" stroke="#000" stroke-width="0.8"/><line x1="41.7" y1="29.3" x2="76.2" y2="29.3" stroke="#000" stroke-width="0.8"/><rect x="76.2" y="17" width="6.9" height="19.4" fill="none" stroke="#000" stroke-width="1.1"/><path d="M 52.4 35.6 V 46 M 65.8 35.6 V 46" stroke="#000" stroke-width="0.9" fill="none"/><rect x="75.6" y="3.7" width="7.5" height="8.7" fill="none" stroke="#000" stroke-width="1.1"/><rect x="3.8" y="75.2" width="50.1" height="35.4" fill="none" stroke="#000" stroke-width="1.1"/><line x1="12.9" y1="75.2" x2="12.9" y2="110.6" stroke="#000" stroke-width="1.1"/><rect x="5" y="77" width="6.7" height="15.3" fill="none" stroke="#000" stroke-width="0.7"/><rect x="5" y="94" width="6.7" height="15" fill="none" stroke="#000" stroke-width="0.7"/><path d="M 12.9 85.6 L 23 76 V 85.6 Z" stroke="#000" stroke-width="0.8" fill="none"/><line x1="0.5" y1="112.2" x2="16" y2="112.2" stroke="#000" stroke-width="0.7"/><rect x="-0.2" y="113.6" width="56" height="2.7" fill="#000"/><rect x="53.5" y="113.6" width="2.3" height="38.4" fill="#000"/><rect x="19.7" y="116" width="2" height="27" fill="#000"/><rect x="1.4" y="116.8" width="18.3" height="26.2" fill="none" stroke="#000" stroke-width="0.8"/><line x1="0.5" y1="143.4" x2="21.7" y2="143.4" stroke="#000" stroke-width="1.4"/><circle cx="11.3" cy="132.4" r="2.4" stroke="#000" stroke-width="0.8" fill="none"/><circle cx="11.3" cy="132.4" r="0.6" fill="#000"/><rect x="26.2" y="131" width="9.1" height="9.6" fill="none" stroke="#000" stroke-width="1" rx="2"/><rect x="27.2" y="140.6" width="7.1" height="3.8" fill="none" stroke="#000" stroke-width="0.8"/><rect x="39.9" y="140" width="10.7" height="10.4" fill="none" stroke="#000" stroke-width="1" rx="2"/><line x1="45.2" y1="144" x2="45.2" y2="150.4" stroke="#000" stroke-width="1.6"/><rect x="3" y="145.3" width="15.3" height="6.3" fill="#555"/><rect x="4.2" y="146.5" width="12.9" height="3.9" fill="#bbb"/><path d="M 5 148.5 H 16.5 M 8 146.5 V 150.4 M 12 146.5 V 150.4" stroke="#444" stroke-width="0.6" fill="none"/><rect x="24" y="144.4" width="13.5" height="7.2" fill="#fff" stroke="#000" stroke-width="0.9"/><rect x="25.5" y="146" width="5.5" height="4.5" fill="#777"/><path d="M 32 150.5 Q 36 148 32 145.5" stroke="#000" stroke-width="0.9" fill="none"/><rect x="26" y="117.4" width="24" height="1.4" fill="#999"/><circle cx="22.5" cy="144.8" r="1.3" fill="#000"/><circle cx="37.5" cy="143.8" r="1.1" fill="#000"/><path d="M 55.8 119.8 A 19.5 19.5 0 0 1 75.3 139.3 H 55.8" stroke="#000" stroke-width="0.8" fill="none"/><line x1="80" y1="131.5" x2="80" y2="152" stroke="#000" stroke-width="1"/><path d="M 80 131.5 A 20.5 20.5 0 0 0 59.5 152" stroke="#000" stroke-width="0.8" fill="none"/><line x1="59.5" y1="152.6" x2="80" y2="152.6" stroke="#000" stroke-width="0.6"/><rect x="-0.5" y="152" width="60" height="3.8" fill="#000"/><rect x="80" y="152" width="3.9" height="3.8" fill="#000"/><path d="M 1 155.8 L 18 155.8 L 1 159.6 Z" stroke="#000" stroke-width="0.6" fill="#bbb"/></g><g transform="translate(1681.6,701)"><line x1="15.3" y1="0" x2="15.3" y2="73" stroke="#000" stroke-width="1.1"/><rect x="1" y="4" width="13.2" height="8.4" fill="none" stroke="#000" stroke-width="0.9"/><circle cx="4.4" cy="8.3" r="2.5" stroke="#000" stroke-width="0.9" fill="none"/><circle cx="4.4" cy="8.3" r="0.5" fill="#000"/><circle cx="11.4" cy="8.3" r="2.3" stroke="#000" stroke-width="0.9" fill="none"/><path d="M 6.5 4.5 L 10 12 M 10 4.5 L 6.5 12" stroke="#000" stroke-width="0.7" fill="none"/><line x1="0" y1="13.6" x2="15.3" y2="13.6" stroke="#000" stroke-width="1.1"/><line x1="0" y1="15.6" x2="15.3" y2="15.6" stroke="#000" stroke-width="0.7"/><line x1="12.2" y1="16" x2="14.6" y2="31" stroke="#000" stroke-width="0.6"/><line x1="14.6" y1="16" x2="12.2" y2="31" stroke="#000" stroke-width="0.6"/><line x1="0" y1="31.6" x2="15.3" y2="31.6" stroke="#000" stroke-width="1.1"/><rect x="2.2" y="33.2" width="11.4" height="11" fill="none" stroke="#000" stroke-width="0.9"/><line x1="12.2" y1="33.5" x2="14.6" y2="44" stroke="#000" stroke-width="0.6"/><circle cx="2.2" cy="38.7" r="1.2" fill="#000"/><line x1="2.2" y1="38.7" x2="6" y2="38.7" stroke="#000" stroke-width="0.9"/><line x1="0" y1="45.2" x2="15.3" y2="45.2" stroke="#000" stroke-width="1.1"/><line x1="15.3" y1="54.4" x2="18.5" y2="54.4" stroke="#000" stroke-width="1.1"/><line x1="0" y1="63.4" x2="18.5" y2="63.4" stroke="#000" stroke-width="1.1"/><line x1="0" y1="73.2" x2="15.3" y2="73.2" stroke="#000" stroke-width="1.1"/><path d="M 15.3 16.4 H 29.8 A 14.5 14.5 0 0 1 15.3 30.9" stroke="#000" stroke-width="0.7" fill="none"/><path d="M 15.3 32 A 12.5 12.5 0 0 1 27.8 44.5 H 15.3" stroke="#000" stroke-width="0.7" fill="none"/><line x1="18.5" y1="45.2" x2="18.5" y2="73.2" stroke="#666" stroke-width="0.6"/><rect x="41.2" y="17" width="36" height="18.6" fill="none" stroke="#000" stroke-width="1.1"/><line x1="42.7" y1="17" x2="42.7" y2="35.6" stroke="#000" stroke-width="0.8"/><line x1="42.7" y1="23.4" x2="77.2" y2="23.4" stroke="#000" stroke-width="0.8"/><line x1="42.7" y1="29.3" x2="77.2" y2="29.3" stroke="#000" stroke-width="0.8"/><rect x="77.2" y="17" width="6.9" height="19.4" fill="none" stroke="#000" stroke-width="1.1"/><path d="M 53.4 35.6 V 46 M 66.8 35.6 V 46" stroke="#000" stroke-width="0.9" fill="none"/><rect x="76.6" y="3.7" width="7.5" height="8.7" fill="none" stroke="#000" stroke-width="1.1"/><rect x="3.8" y="75.2" width="50.1" height="35.4" fill="none" stroke="#000" stroke-width="1.1"/><line x1="12.9" y1="75.2" x2="12.9" y2="110.6" stroke="#000" stroke-width="1.1"/><rect x="5" y="77" width="6.7" height="15.3" fill="none" stroke="#000" stroke-width="0.7"/><rect x="5" y="94" width="6.7" height="15" fill="none" stroke="#000" stroke-width="0.7"/><path d="M 12.9 85.6 L 23 76 V 85.6 Z" stroke="#000" stroke-width="0.8" fill="none"/><line x1="0.5" y1="112.2" x2="16" y2="112.2" stroke="#000" stroke-width="0.7"/><rect x="-0.2" y="113.6" width="56" height="2.7" fill="#000"/><rect x="53.5" y="113.6" width="2.3" height="38.4" fill="#000"/><rect x="19.7" y="116" width="2" height="27" fill="#000"/><rect x="1.4" y="116.8" width="18.3" height="26.2" fill="none" stroke="#000" stroke-width="0.8"/><line x1="0.5" y1="143.4" x2="21.7" y2="143.4" stroke="#000" stroke-width="1.4"/><circle cx="11.3" cy="132.4" r="2.4" stroke="#000" stroke-width="0.8" fill="none"/><circle cx="11.3" cy="132.4" r="0.6" fill="#000"/><rect x="26.2" y="131" width="9.1" height="9.6" fill="none" stroke="#000" stroke-width="1" rx="2"/><rect x="27.2" y="140.6" width="7.1" height="3.8" fill="none" stroke="#000" stroke-width="0.8"/><rect x="39.9" y="140" width="10.7" height="10.4" fill="none" stroke="#000" stroke-width="1" rx="2"/><line x1="45.2" y1="144" x2="45.2" y2="150.4" stroke="#000" stroke-width="1.6"/><rect x="3" y="145.3" width="15.3" height="6.3" fill="#555"/><rect x="4.2" y="146.5" width="12.9" height="3.9" fill="#bbb"/><path d="M 5 148.5 H 16.5 M 8 146.5 V 150.4 M 12 146.5 V 150.4" stroke="#444" stroke-width="0.6" fill="none"/><rect x="24" y="144.4" width="13.5" height="7.2" fill="#fff" stroke="#000" stroke-width="0.9"/><rect x="25.5" y="146" width="5.5" height="4.5" fill="#777"/><path d="M 32 150.5 Q 36 148 32 145.5" stroke="#000" stroke-width="0.9" fill="none"/><rect x="26" y="117.4" width="24" height="1.4" fill="#999"/><circle cx="22.5" cy="144.8" r="1.3" fill="#000"/><circle cx="37.5" cy="143.8" r="1.1" fill="#000"/><path d="M 55.8 119.8 A 19.5 19.5 0 0 1 75.3 139.3 H 55.8" stroke="#000" stroke-width="0.8" fill="none"/><line x1="81" y1="131.5" x2="81" y2="152" stroke="#000" stroke-width="1"/><path d="M 81 131.5 A 20.5 20.5 0 0 0 60.5 152" stroke="#000" stroke-width="0.8" fill="none"/><line x1="60.5" y1="152.6" x2="81" y2="152.6" stroke="#000" stroke-width="0.6"/><rect x="-0.5" y="152" width="61" height="3.8" fill="#000"/><rect x="81" y="152" width="3.9" height="3.8" fill="#000"/><path d="M 1 155.8 L 18 155.8 L 1 159.6 Z" stroke="#000" stroke-width="0.6" fill="#bbb"/></g><rect x="176.5" y="700" width="62" height="3.2" fill="#000"/><g transform="translate(176.7,703.5) scale(1,1.24)"><line x1="15.3" y1="0" x2="15.3" y2="45.2" stroke="#000" stroke-width="1.1"/><rect x="1" y="4" width="13.2" height="8.4" fill="none" stroke="#000" stroke-width="0.9"/><circle cx="4.4" cy="8.3" r="2.5" stroke="#000" stroke-width="0.9" fill="none"/><circle cx="4.4" cy="8.3" r="0.5" fill="#000"/><circle cx="11.4" cy="8.3" r="2.3" stroke="#000" stroke-width="0.9" fill="none"/><path d="M 6.5 4.5 L 10 12 M 10 4.5 L 6.5 12" stroke="#000" stroke-width="0.7" fill="none"/><line x1="0" y1="13.6" x2="15.3" y2="13.6" stroke="#000" stroke-width="1.1"/><line x1="0" y1="15.6" x2="15.3" y2="15.6" stroke="#000" stroke-width="0.7"/><line x1="12.2" y1="16" x2="14.6" y2="31" stroke="#000" stroke-width="0.6"/><line x1="14.6" y1="16" x2="12.2" y2="31" stroke="#000" stroke-width="0.6"/><line x1="0" y1="31.6" x2="15.3" y2="31.6" stroke="#000" stroke-width="1.1"/><rect x="2.2" y="33.2" width="11.4" height="11" fill="none" stroke="#000" stroke-width="0.9"/><line x1="12.2" y1="33.5" x2="14.6" y2="44" stroke="#000" stroke-width="0.6"/><circle cx="2.2" cy="38.7" r="1.2" fill="#000"/><line x1="2.2" y1="38.7" x2="6" y2="38.7" stroke="#000" stroke-width="0.9"/><line x1="0" y1="45.2" x2="15.3" y2="45.2" stroke="#000" stroke-width="1.1"/></g><path d="M 176.7 759.5 H 201.6 A 10 10 0 0 1 191.8 769.5 V 759.5" stroke="#000" stroke-width="0.8" fill="none"/><line x1="178.2" y1="769.5" x2="178.2" y2="806" stroke="#000" stroke-width="0.8"/><rect x="220.9" y="703.1" width="17.6" height="42.9" fill="none" stroke="#000" stroke-width="1.1"/><rect x="212" y="722.8" width="8.9" height="14.2" fill="none" stroke="#000" stroke-width="1.1"/><line x1="214" y1="724" x2="214" y2="736" stroke="#000" stroke-width="0.6"/><rect x="238.5" y="722.8" width="8.3" height="14.2" fill="none" stroke="#000" stroke-width="1.1"/><line x1="244.8" y1="724" x2="244.8" y2="736" stroke="#000" stroke-width="0.6"/><rect x="210.7" y="703.2" width="9.5" height="7.4" fill="none" stroke="#000" stroke-width="1.1"/><line x1="220.9" y1="710.6" x2="238.5" y2="710.6" stroke="#000" stroke-width="0.7"/><rect x="263.6" y="751.3" width="39.4" height="50.9" fill="none" stroke="#000" stroke-width="1.1"/><rect x="265.5" y="792.7" width="17" height="8.5" fill="none" stroke="#000" stroke-width="0.7"/><rect x="284" y="792.7" width="17" height="8.5" fill="none" stroke="#000" stroke-width="0.7"/><line x1="263.6" y1="791.8" x2="303" y2="791.8" stroke="#000" stroke-width="0.8"/><path d="M 265 781.5 H 274 V 791.8 Z" stroke="#000" stroke-width="0.8" fill="none"/><rect x="261" y="803.6" width="51.5" height="5.4" fill="#000"/><line x1="261" y1="802.5" x2="312.5" y2="802.5" stroke="#000" stroke-width="0.6"/><rect x="180.8" y="779.8" width="50.9" height="25.8" fill="none" stroke="#000" stroke-width="1.1"/><rect x="184.5" y="782" width="44.5" height="21.3" fill="none" stroke="#000" stroke-width="0.7"/><path d="M 187 791 L 192 787 L 199 797 L 195 801 Z" stroke="#000" stroke-width="0.8" fill="none"/><path d="M 226 791 L 221 787 L 214 797 L 218 801 Z" stroke="#000" stroke-width="0.8" fill="none"/><path d="M 197 797 Q 207 791 216 797 Q 207 803 197 797 Z" stroke="#000" stroke-width="0.8" fill="none"/><circle cx="206.5" cy="799.5" r="2.2" stroke="#000" stroke-width="0.8" fill="none"/><rect x="176.5" y="806.3" width="54.8" height="2.7" fill="#000"/><rect x="228.8" y="806.3" width="2.5" height="31.2" fill="#000"/><rect x="176.5" y="806.3" width="2.5" height="31.7" fill="#000"/><rect x="195.7" y="809" width="2.1" height="26" fill="#000"/><rect x="180" y="810" width="15.7" height="25.5" fill="none" stroke="#000" stroke-width="0.8"/><circle cx="187.5" cy="826.5" r="2.4" stroke="#000" stroke-width="0.8" fill="none"/><circle cx="187.5" cy="826.5" r="0.6" fill="#000"/><rect x="202" y="823.5" width="8.5" height="9" fill="none" stroke="#000" stroke-width="1" rx="2"/><rect x="215.4" y="832.8" width="10.9" height="12.2" fill="none" stroke="#000" stroke-width="1.1" rx="2"/><line x1="177" y1="836.2" x2="231" y2="836.2" stroke="#000" stroke-width="1.6"/><circle cx="197" cy="834.5" r="1.3" fill="#000"/><rect x="202" y="810" width="22" height="1.3" fill="#999"/><rect x="177.4" y="839.6" width="6.1" height="8.1" fill="#999"/><rect x="199.8" y="846.4" width="23.1" height="6.6" fill="none" stroke="#000" stroke-width="1.3"/><line x1="176.5" y1="838" x2="176.5" y2="853" stroke="#000" stroke-width="1.6"/><rect x="231.2" y="835.6" width="36.4" height="18.2" fill="none" stroke="#000" stroke-width="2.2"/><path d="M 231 813 A 21 21 0 0 1 252 834" stroke="#000" stroke-width="0.8" fill="none"/><line x1="294.2" y1="832.3" x2="294.2" y2="853.5" stroke="#000" stroke-width="1"/><path d="M 294.2 832.3 A 21.5 21.5 0 0 0 272.7 853.8" stroke="#000" stroke-width="0.8" fill="none"/><rect x="298.2" y="811.7" width="14.3" height="41.3" fill="none" stroke="#000" stroke-width="1.1"/><line x1="298.2" y1="832" x2="312.5" y2="832" stroke="#000" stroke-width="1.1"/><rect x="309.8" y="705" width="2.7" height="24" fill="#fff" stroke="#000" stroke-width="0.7"/><rect x="309.8" y="732" width="2.7" height="16.6" fill="#fff" stroke="#000" stroke-width="0.7"/><rect x="176.5" y="853" width="96.2" height="3.8" fill="#000"/><rect x="294.2" y="853" width="18.4" height="3.8" fill="#000"/><path d="M 178 856.8 L 195 856.8 L 178 860.5 Z" stroke="#000" stroke-width="0.6" fill="#bbb"/><path d="M 236 856.8 L 253 856.8 L 236 860.5 Z" stroke="#000" stroke-width="0.6" fill="#bbb"/><g transform="translate(704.2,701) scale(-1,1.0)"><line x1="15.3" y1="0" x2="15.3" y2="60" stroke="#000" stroke-width="1.1"/><rect x="1" y="4" width="13.2" height="8.4" fill="none" stroke="#000" stroke-width="0.9"/><circle cx="4.4" cy="8.3" r="2.5" stroke="#000" stroke-width="0.9" fill="none"/><circle cx="4.4" cy="8.3" r="0.5" fill="#000"/><circle cx="11.4" cy="8.3" r="2.3" stroke="#000" stroke-width="0.9" fill="none"/><path d="M 6.5 4.5 L 10 12 M 10 4.5 L 6.5 12" stroke="#000" stroke-width="0.7" fill="none"/><line x1="0" y1="13.6" x2="15.3" y2="13.6" stroke="#000" stroke-width="1.1"/><line x1="0" y1="15.6" x2="15.3" y2="15.6" stroke="#000" stroke-width="0.7"/><line x1="12.2" y1="16" x2="14.6" y2="31" stroke="#000" stroke-width="0.6"/><line x1="14.6" y1="16" x2="12.2" y2="31" stroke="#000" stroke-width="0.6"/><line x1="0" y1="31.6" x2="15.3" y2="31.6" stroke="#000" stroke-width="1.1"/><rect x="2.2" y="33.2" width="11.4" height="11" fill="none" stroke="#000" stroke-width="0.9"/><line x1="12.2" y1="33.5" x2="14.6" y2="44" stroke="#000" stroke-width="0.6"/><circle cx="2.2" cy="38.7" r="1.2" fill="#000"/><line x1="2.2" y1="38.7" x2="6" y2="38.7" stroke="#000" stroke-width="0.9"/><line x1="0" y1="45.2" x2="15.3" y2="45.2" stroke="#000" stroke-width="1.1"/></g><path d="M 704.2 761 H 680.2 A 9.5 9.5 0 0 0 689.9 770.5 V 761" stroke="#000" stroke-width="0.8" fill="none"/><line x1="689.9" y1="701" x2="689.9" y2="761" stroke="#000" stroke-width="1.1"/><rect x="596.6" y="717.1" width="45.2" height="18.6" fill="none" stroke="#000" stroke-width="1.1"/><line x1="604.2" y1="717.1" x2="604.2" y2="735.7" stroke="#000" stroke-width="0.8"/><rect x="621.5" y="709.6" width="14.5" height="7.5" fill="none" stroke="#000" stroke-width="1.1"/><line x1="621.5" y1="711.6" x2="636" y2="711.6" stroke="#000" stroke-width="0.6"/><rect x="621.5" y="735.7" width="14.5" height="7.5" fill="none" stroke="#000" stroke-width="1.1"/><line x1="621.5" y1="741.2" x2="636" y2="741.2" stroke="#000" stroke-width="0.6"/><rect x="597.7" y="703.8" width="7" height="8.7" fill="none" stroke="#000" stroke-width="1.1"/><rect x="648.6" y="773.4" width="52.1" height="39.4" fill="none" stroke="#000" stroke-width="1.1"/><line x1="689.7" y1="773.4" x2="689.7" y2="812.8" stroke="#000" stroke-width="1.1"/><rect x="690.7" y="775" width="8.8" height="16.5" fill="none" stroke="#000" stroke-width="0.7"/><rect x="690.7" y="793.5" width="8.8" height="17.5" fill="none" stroke="#000" stroke-width="0.7"/><path d="M 679.7 775 V 784 H 689.7 Z" stroke="#000" stroke-width="0.8" fill="none"/><rect x="648.6" y="814.5" width="55.8" height="2.7" fill="#000"/><rect x="648.6" y="814.5" width="2.4" height="38.5" fill="#000"/><rect x="683.4" y="817" width="2.3" height="26" fill="#000"/><rect x="685.7" y="817.8" width="17.1" height="25.2" fill="none" stroke="#000" stroke-width="0.8"/><line x1="683.4" y1="843.4" x2="704.2" y2="843.4" stroke="#000" stroke-width="1.4"/><circle cx="692.6" cy="833.7" r="2.4" stroke="#000" stroke-width="0.8" fill="none"/><circle cx="692.6" cy="833.7" r="0.6" fill="#000"/><rect x="670" y="832" width="8.2" height="8.5" fill="none" stroke="#000" stroke-width="1" rx="2"/><rect x="654.4" y="840" width="9.8" height="10.3" fill="none" stroke="#000" stroke-width="1" rx="2"/><line x1="659.2" y1="844" x2="659.2" y2="850.3" stroke="#000" stroke-width="1.6"/><rect x="686.7" y="845.3" width="14.5" height="5.9" fill="#8a8a8a"/><rect x="687.9" y="846.4" width="12.1" height="3.7" fill="#d8d8d8"/><rect x="656.2" y="818" width="24" height="1.4" fill="#999"/><path d="M 648.6 820 A 20 20 0 0 0 628.6 840 H 648.6" stroke="#000" stroke-width="0.8" fill="none"/><line x1="620.2" y1="832" x2="620.2" y2="856" stroke="#000" stroke-width="1"/><path d="M 620.2 832.5 A 22 22 0 0 1 642.2 854.5" stroke="#000" stroke-width="0.8" fill="none"/><line x1="620.2" y1="853" x2="642.2" y2="853" stroke="#000" stroke-width="0.6"/><rect x="595.2" y="743.2" width="2.8" height="23.8" fill="#fff" stroke="#000" stroke-width="0.8"/><rect x="595.2" y="785" width="2.8" height="15.6" fill="#fff" stroke="#000" stroke-width="0.8"/><rect x="596.2" y="814.5" width="20" height="14.5" fill="none" stroke="#000" stroke-width="1.1"/><rect x="595.6" y="831.6" width="17" height="21.4" fill="none" stroke="#000" stroke-width="2.2"/><path d="M 597.2 833 L 611.2 852 M 611.2 833 L 597.2 852" stroke="#000" stroke-width="0.6" fill="none"/><rect x="597.7" y="833.5" width="12.8" height="17.5" fill="none" stroke="#000" stroke-width="0.6"/><rect x="594.7" y="853" width="25.5" height="3.8" fill="#000"/><rect x="642.2" y="853" width="62.5" height="3.8" fill="#000"/><path d="M 684.2 856.8 L 701.2 856.8 L 701.2 860.5 Z" stroke="#000" stroke-width="0.6" fill="#bbb"/><g transform="translate(1096.3,701) scale(-1,1.0)"><line x1="15.3" y1="0" x2="15.3" y2="60" stroke="#000" stroke-width="1.1"/><rect x="1" y="4" width="13.2" height="8.4" fill="none" stroke="#000" stroke-width="0.9"/><circle cx="4.4" cy="8.3" r="2.5" stroke="#000" stroke-width="0.9" fill="none"/><circle cx="4.4" cy="8.3" r="0.5" fill="#000"/><circle cx="11.4" cy="8.3" r="2.3" stroke="#000" stroke-width="0.9" fill="none"/><path d="M 6.5 4.5 L 10 12 M 10 4.5 L 6.5 12" stroke="#000" stroke-width="0.7" fill="none"/><line x1="0" y1="13.6" x2="15.3" y2="13.6" stroke="#000" stroke-width="1.1"/><line x1="0" y1="15.6" x2="15.3" y2="15.6" stroke="#000" stroke-width="0.7"/><line x1="12.2" y1="16" x2="14.6" y2="31" stroke="#000" stroke-width="0.6"/><line x1="14.6" y1="16" x2="12.2" y2="31" stroke="#000" stroke-width="0.6"/><line x1="0" y1="31.6" x2="15.3" y2="31.6" stroke="#000" stroke-width="1.1"/><rect x="2.2" y="33.2" width="11.4" height="11" fill="none" stroke="#000" stroke-width="0.9"/><line x1="12.2" y1="33.5" x2="14.6" y2="44" stroke="#000" stroke-width="0.6"/><circle cx="2.2" cy="38.7" r="1.2" fill="#000"/><line x1="2.2" y1="38.7" x2="6" y2="38.7" stroke="#000" stroke-width="0.9"/><line x1="0" y1="45.2" x2="15.3" y2="45.2" stroke="#000" stroke-width="1.1"/></g><path d="M 1096.3 761 H 1072.3 A 9.5 9.5 0 0 0 1082 770.5 V 761" stroke="#000" stroke-width="0.8" fill="none"/><line x1="1082" y1="701" x2="1082" y2="761" stroke="#000" stroke-width="1.1"/><rect x="987.6" y="717.1" width="45.2" height="18.6" fill="none" stroke="#000" stroke-width="1.1"/><line x1="995.2" y1="717.1" x2="995.2" y2="735.7" stroke="#000" stroke-width="0.8"/><rect x="1012.5" y="709.6" width="14.5" height="7.5" fill="none" stroke="#000" stroke-width="1.1"/><line x1="1012.5" y1="711.6" x2="1027" y2="711.6" stroke="#000" stroke-width="0.6"/><rect x="1012.5" y="735.7" width="14.5" height="7.5" fill="none" stroke="#000" stroke-width="1.1"/><line x1="1012.5" y1="741.2" x2="1027" y2="741.2" stroke="#000" stroke-width="0.6"/><rect x="988.7" y="703.8" width="7" height="8.7" fill="none" stroke="#000" stroke-width="1.1"/><rect x="1040.7" y="773.4" width="52.1" height="39.4" fill="none" stroke="#000" stroke-width="1.1"/><line x1="1081.8" y1="773.4" x2="1081.8" y2="812.8" stroke="#000" stroke-width="1.1"/><rect x="1082.8" y="775" width="8.8" height="16.5" fill="none" stroke="#000" stroke-width="0.7"/><rect x="1082.8" y="793.5" width="8.8" height="17.5" fill="none" stroke="#000" stroke-width="0.7"/><path d="M 1071.8 775 V 784 H 1081.8 Z" stroke="#000" stroke-width="0.8" fill="none"/><rect x="1040.7" y="814.5" width="55.8" height="2.7" fill="#000"/><rect x="1040.7" y="814.5" width="2.4" height="38.5" fill="#000"/><rect x="1075.5" y="817" width="2.3" height="26" fill="#000"/><rect x="1077.8" y="817.8" width="17.1" height="25.2" fill="none" stroke="#000" stroke-width="0.8"/><line x1="1075.5" y1="843.4" x2="1096.3" y2="843.4" stroke="#000" stroke-width="1.4"/><circle cx="1084.7" cy="833.7" r="2.4" stroke="#000" stroke-width="0.8" fill="none"/><circle cx="1084.7" cy="833.7" r="0.6" fill="#000"/><rect x="1062.1" y="832" width="8.2" height="8.5" fill="none" stroke="#000" stroke-width="1" rx="2"/><rect x="1046.5" y="840" width="9.8" height="10.3" fill="none" stroke="#000" stroke-width="1" rx="2"/><line x1="1051.3" y1="844" x2="1051.3" y2="850.3" stroke="#000" stroke-width="1.6"/><rect x="1078.8" y="845.3" width="14.5" height="5.9" fill="#8a8a8a"/><rect x="1080" y="846.4" width="12.1" height="3.7" fill="#d8d8d8"/><rect x="1048.3" y="818" width="24" height="1.4" fill="#999"/><path d="M 1040.7 820 A 20 20 0 0 0 1020.7 840 H 1040.7" stroke="#000" stroke-width="0.8" fill="none"/><line x1="1016.5" y1="832" x2="1016.5" y2="856" stroke="#000" stroke-width="1"/><path d="M 1016.5 832.5 A 22 22 0 0 1 1038.5 854.5" stroke="#000" stroke-width="0.8" fill="none"/><line x1="1016.5" y1="853" x2="1038.5" y2="853" stroke="#000" stroke-width="0.6"/><rect x="986.2" y="743.2" width="2.8" height="23.8" fill="#fff" stroke="#000" stroke-width="0.8"/><rect x="986.2" y="785" width="2.8" height="15.6" fill="#fff" stroke="#000" stroke-width="0.8"/><rect x="987.2" y="811.5" width="25.6" height="13.9" fill="none" stroke="#000" stroke-width="1.1"/><line x1="994.7" y1="811.5" x2="994.7" y2="825.4" stroke="#000" stroke-width="0.7"/><line x1="1005.2" y1="811.5" x2="1005.2" y2="825.4" stroke="#000" stroke-width="0.7"/><path d="M 987.2 798.5 A 12.5 12.5 0 0 1 999.7 811.5 M 1012.8 798.5 A 12.5 12.5 0 0 0 1000.2 811.5" stroke="#000" stroke-width="0.7" fill="none"/><line x1="987.2" y1="798.5" x2="987.2" y2="811.5" stroke="#000" stroke-width="0.7"/><line x1="1012.8" y1="798.5" x2="1012.8" y2="811.5" stroke="#000" stroke-width="0.7"/><rect x="987" y="826.4" width="25.6" height="29.1" fill="none" stroke="#000" stroke-width="2.2"/><rect x="991.7" y="830.5" width="11.5" height="8.5" fill="none" stroke="#000" stroke-width="0.8"/><rect x="996.2" y="840" width="7" height="8" fill="none" stroke="#000" stroke-width="0.6"/><path d="M 989.7 856.8 L 990.7 866 L 1010.2 857" stroke="#000" stroke-width="0.8" fill="none"/><rect x="985.7" y="853" width="1.5" height="3.8" fill="#000"/><rect x="1038.5" y="853" width="58.3" height="3.8" fill="#000"/><path d="M 1076.3 856.8 L 1093.3 856.8 L 1093.3 860.5 Z" stroke="#000" stroke-width="0.6" fill="#bbb"/><g transform="translate(1378.6,701)"><line x1="15.3" y1="0" x2="15.3" y2="45" stroke="#000" stroke-width="1.1"/><rect x="1" y="4" width="13.2" height="8.4" fill="none" stroke="#000" stroke-width="0.9"/><circle cx="4.4" cy="8.3" r="2.5" stroke="#000" stroke-width="0.9" fill="none"/><circle cx="4.4" cy="8.3" r="0.5" fill="#000"/><circle cx="11.4" cy="8.3" r="2.3" stroke="#000" stroke-width="0.9" fill="none"/><path d="M 6.5 4.5 L 10 12 M 10 4.5 L 6.5 12" stroke="#000" stroke-width="0.7" fill="none"/><line x1="0" y1="13.6" x2="15.3" y2="13.6" stroke="#000" stroke-width="1.1"/><line x1="0" y1="15.6" x2="15.3" y2="15.6" stroke="#000" stroke-width="0.7"/><line x1="12.2" y1="16" x2="14.6" y2="31" stroke="#000" stroke-width="0.6"/><line x1="14.6" y1="16" x2="12.2" y2="31" stroke="#000" stroke-width="0.6"/><line x1="0" y1="31.6" x2="15.3" y2="31.6" stroke="#000" stroke-width="1.1"/><rect x="2.2" y="33.2" width="11.4" height="11" fill="none" stroke="#000" stroke-width="0.9"/><line x1="12.2" y1="33.5" x2="14.6" y2="44" stroke="#000" stroke-width="0.6"/><circle cx="2.2" cy="38.7" r="1.2" fill="#000"/><line x1="2.2" y1="38.7" x2="6" y2="38.7" stroke="#000" stroke-width="0.9"/><line x1="0" y1="45.2" x2="15.3" y2="45.2" stroke="#000" stroke-width="1.1"/></g><path d="M 1393.9 716.6 H 1408.5 A 14.6 14.6 0 0 1 1393.9 731" stroke="#000" stroke-width="0.7" fill="none"/><path d="M 1393.9 732.5 A 12 12 0 0 1 1405.9 744.5 H 1393.9" stroke="#000" stroke-width="0.7" fill="none"/><line x1="1378.6" y1="747.3" x2="1410" y2="747.3" stroke="#000" stroke-width="1.1"/><line x1="1378.6" y1="750.8" x2="1410" y2="750.8" stroke="#000" stroke-width="0.7"/><line x1="1378.6" y1="756.6" x2="1410" y2="756.6" stroke="#000" stroke-width="0.7"/><rect x="1383.6" y="750.8" width="7" height="6.9" fill="none" stroke="#000" stroke-width="0.8"/><line x1="1382.4" y1="765" x2="1410" y2="765" stroke="#000" stroke-width="1.1"/><line x1="1382.4" y1="765" x2="1382.4" y2="780" stroke="#000" stroke-width="1.1"/><path d="M 1398.7 765 V 771 Q 1398.7 775.1 1403 775.1 H 1408 Q 1410.8 775.1 1410.8 771" stroke="#000" stroke-width="0.9" fill="none"/><rect x="1435.2" y="714.8" width="51" height="38.9" fill="none" stroke="#000" stroke-width="1.1"/><rect x="1472.9" y="703.2" width="13.3" height="9.3" fill="none" stroke="#000" stroke-width="1.1"/><path d="M 1464.2 703 A 8.7 8.7 0 0 0 1472.9 711.7" stroke="#000" stroke-width="0.7" fill="none"/><rect x="1481.6" y="763.5" width="4.6" height="7" fill="none" stroke="#000" stroke-width="0.8"/><rect x="1473.5" y="781.5" width="12.7" height="20.9" fill="none" stroke="#000" stroke-width="1.1"/><path d="M 1473.5 782 A 9.8 9.8 0 0 0 1463.7 791.8 H 1473.5 M 1473.5 802 A 9.8 9.8 0 0 1 1463.7 792.2" stroke="#000" stroke-width="0.7" fill="none"/><rect x="1484.4" y="812.2" width="2.4" height="11" fill="#fff" stroke="#000" stroke-width="0.7"/><rect x="1378.1" y="779.8" width="67.5" height="3" fill="#000"/><rect x="1442.4" y="779.8" width="3.2" height="41.2" fill="#000"/><line x1="1444.3" y1="821" x2="1444.3" y2="845" stroke="#000" stroke-width="0.8"/><rect x="1442.4" y="845" width="3.2" height="11.8" fill="#000"/><path d="M 1442.7 822.1 A 23 23 0 0 0 1419.7 845.1" stroke="#000" stroke-width="0.8" fill="none"/><rect x="1383" y="821.5" width="3.2" height="26.1" fill="#000"/><rect x="1383" y="844.8" width="28.4" height="3" fill="#000"/><rect x="1379.5" y="786" width="7.1" height="32" fill="none" stroke="#000" stroke-width="0.7"/><rect x="1379.8" y="795.4" width="10.2" height="11.6" fill="none" stroke="#000" stroke-width="1" rx="3"/><circle cx="1384.5" cy="801.2" r="1" fill="#000"/><path d="M 1438.7 787.3 L 1416 791.4 M 1438.7 787.3 L 1417.8 807.6 M 1438.7 787.3 L 1433.5 810" stroke="#000" stroke-width="0.7" fill="none"/><rect x="1437.6" y="786.2" width="2.2" height="2.2" fill="none" stroke="#000" stroke-width="0.6"/><circle cx="1431.1" cy="798.9" r="1.6" stroke="#000" stroke-width="0.7" fill="none"/><rect x="1394.6" y="832" width="9.3" height="8.6" fill="none" stroke="#000" stroke-width="1" rx="2"/><circle cx="1399.2" cy="838.5" r="0.9" fill="#000"/><circle cx="1388.5" cy="841.5" r="1.4" fill="#000"/><rect x="1420" y="779" width="23" height="1" fill="#888"/><rect x="1379.5" y="849" width="27.5" height="6.5" fill="none" stroke="#000" stroke-width="0.7"/><circle cx="1393" cy="852.2" r="2.3" stroke="#000" stroke-width="0.7" fill="none"/><rect x="1411.4" y="847.8" width="15.1" height="7.7" fill="none" stroke="#000" stroke-width="0.7"/><rect x="1426.5" y="847.8" width="15.9" height="7.7" fill="none" stroke="#000" stroke-width="0.7"/><line x1="1485" y1="829.6" x2="1485" y2="856" stroke="#000" stroke-width="1"/><path d="M 1485 829.6 A 24.5 24.5 0 0 0 1460.5 854.1" stroke="#000" stroke-width="0.8" fill="none"/><rect x="1378" y="853" width="82.5" height="3.8" fill="#000"/><rect x="1484.5" y="853" width="2.5" height="3.8" fill="#000"/><path d="M 1388 856.8 L 1405 856.8 L 1388 860.5 Z" stroke="#000" stroke-width="0.6" fill="#bbb"/><rect x="1770.8" y="700.6" width="50.8" height="10.7" fill="none" stroke="#000" stroke-width="1.1"/><rect x="1801.2" y="711.3" width="14.3" height="8.1" fill="none" stroke="#000" stroke-width="1.1"/><rect x="1860.3" y="700.6" width="16.3" height="2.8" fill="none" stroke="#000" stroke-width="0.7"/><g transform="translate(1770.8,712)"><line x1="15.3" y1="0" x2="15.3" y2="44" stroke="#000" stroke-width="1.1"/><rect x="1" y="4" width="13.2" height="8.4" fill="none" stroke="#000" stroke-width="0.9"/><circle cx="4.4" cy="8.3" r="2.5" stroke="#000" stroke-width="0.9" fill="none"/><circle cx="4.4" cy="8.3" r="0.5" fill="#000"/><circle cx="11.4" cy="8.3" r="2.3" stroke="#000" stroke-width="0.9" fill="none"/><path d="M 6.5 4.5 L 10 12 M 10 4.5 L 6.5 12" stroke="#000" stroke-width="0.7" fill="none"/><line x1="0" y1="13.6" x2="15.3" y2="13.6" stroke="#000" stroke-width="1.1"/><line x1="0" y1="15.6" x2="15.3" y2="15.6" stroke="#000" stroke-width="0.7"/><line x1="12.2" y1="16" x2="14.6" y2="31" stroke="#000" stroke-width="0.6"/><line x1="14.6" y1="16" x2="12.2" y2="31" stroke="#000" stroke-width="0.6"/><line x1="0" y1="31.6" x2="15.3" y2="31.6" stroke="#000" stroke-width="1.1"/><rect x="2.2" y="33.2" width="11.4" height="11" fill="none" stroke="#000" stroke-width="0.9"/><line x1="12.2" y1="33.5" x2="14.6" y2="44" stroke="#000" stroke-width="0.6"/><circle cx="2.2" cy="38.7" r="1.2" fill="#000"/><line x1="2.2" y1="38.7" x2="6" y2="38.7" stroke="#000" stroke-width="0.9"/><line x1="0" y1="45.2" x2="15.3" y2="45.2" stroke="#000" stroke-width="1.1"/></g><rect x="1770.8" y="757.4" width="15.2" height="8.9" fill="#000"/><rect x="1773.3" y="759.6" width="6.7" height="4.4" fill="#aaa"/><rect x="1771.3" y="767.6" width="19.7" height="38" fill="none" stroke="#000" stroke-width="1.1"/><rect x="1771.3" y="782" width="7.7" height="23.6" fill="none" stroke="#000" stroke-width="0.7"/><rect x="1771.3" y="805.6" width="12.7" height="13.6" fill="none" stroke="#000" stroke-width="1.1"/><rect x="1784" y="805.6" width="7" height="13.6" fill="none" stroke="#000" stroke-width="0.7"/><path d="M 1791 805.6 A 8 13.5 0 0 1 1798.5 819.2 H 1784" stroke="#000" stroke-width="0.7" fill="none"/><rect x="1771.3" y="838.2" width="21.7" height="17.3" fill="none" stroke="#000" stroke-width="1.1"/><line x1="1771.3" y1="846" x2="1793" y2="846" stroke="#000" stroke-width="0.7"/><rect x="1825" y="739.1" width="40.7" height="51.6" fill="none" stroke="#000" stroke-width="1.1"/><rect x="1828" y="781.2" width="17.3" height="8.5" fill="none" stroke="#000" stroke-width="0.7"/><rect x="1846.5" y="781.2" width="17" height="8.5" fill="none" stroke="#000" stroke-width="0.7"/><path d="M 1854.5 780.6 L 1864.5 770 V 780.6 Z" stroke="#000" stroke-width="0.8" fill="none"/><line x1="1822" y1="792.2" x2="1880" y2="792.2" stroke="#000" stroke-width="0.6"/><rect x="1877.7" y="712" width="2.3" height="24" fill="#fff" stroke="#000" stroke-width="0.7"/><rect x="1822.3" y="794" width="57.9" height="2.4" fill="#000"/><rect x="1822.3" y="794" width="2.3" height="32.5" fill="#000"/><rect x="1856.6" y="796" width="2" height="27" fill="#000"/><rect x="1859" y="797" width="17" height="26" fill="none" stroke="#000" stroke-width="0.8"/><rect x="1876.3" y="797.5" width="2.3" height="24.5" fill="none" stroke="#000" stroke-width="0.6"/><circle cx="1866.5" cy="813.5" r="2.3" stroke="#000" stroke-width="0.8" fill="none"/><circle cx="1866.5" cy="813.5" r="0.6" fill="#000"/><rect x="1844" y="812.5" width="7.5" height="9.5" fill="none" stroke="#000" stroke-width="1" rx="2"/><rect x="1827.5" y="820" width="10.5" height="9.5" fill="none" stroke="#000" stroke-width="1" rx="2"/><line x1="1823" y1="824.5" x2="1860" y2="824.5" stroke="#000" stroke-width="1.4"/><rect x="1840" y="826" width="16" height="5" fill="#999"/><circle cx="1861.5" cy="824.5" r="1.2" fill="#000"/><rect x="1820.6" y="833.6" width="38.8" height="21.7" fill="none" stroke="#000" stroke-width="2.2"/><rect x="1818" y="829" width="4" height="21" fill="none" stroke="#000" stroke-width="0.8"/><rect x="1862" y="838" width="8" height="16" fill="none" stroke="#000" stroke-width="0.8"/><rect x="1863" y="840" width="6" height="12" fill="#999"/><path d="M 1823 800.2 A 20 20 0 0 0 1803 820.2 H 1823" stroke="#000" stroke-width="0.8" fill="none"/><path d="M 1819.8 833 A 22 22 0 0 0 1797.8 855" stroke="#000" stroke-width="0.8" fill="none"/><rect x="1770.3" y="853" width="27.5" height="3.8" fill="#000"/><rect x="1818" y="853" width="62.5" height="3.8" fill="#000"/><path d="M 1861 856.8 L 1878 856.8 L 1878 860.5 Z" stroke="#000" stroke-width="0.6" fill="#bbb"/><g transform="matrix(1,0,0,-1,0,1753.2)"><g transform="translate(317,701)"><line x1="15.3" y1="0" x2="15.3" y2="73" stroke="#000" stroke-width="1.1"/><rect x="1" y="4" width="13.2" height="8.4" fill="none" stroke="#000" stroke-width="0.9"/><circle cx="4.4" cy="8.3" r="2.5" stroke="#000" stroke-width="0.9" fill="none"/><circle cx="4.4" cy="8.3" r="0.5" fill="#000"/><circle cx="11.4" cy="8.3" r="2.3" stroke="#000" stroke-width="0.9" fill="none"/><path d="M 6.5 4.5 L 10 12 M 10 4.5 L 6.5 12" stroke="#000" stroke-width="0.7" fill="none"/><line x1="0" y1="13.6" x2="15.3" y2="13.6" stroke="#000" stroke-width="1.1"/><line x1="0" y1="15.6" x2="15.3" y2="15.6" stroke="#000" stroke-width="0.7"/><line x1="12.2" y1="16" x2="14.6" y2="31" stroke="#000" stroke-width="0.6"/><line x1="14.6" y1="16" x2="12.2" y2="31" stroke="#000" stroke-width="0.6"/><line x1="0" y1="31.6" x2="15.3" y2="31.6" stroke="#000" stroke-width="1.1"/><rect x="2.2" y="33.2" width="11.4" height="11" fill="none" stroke="#000" stroke-width="0.9"/><line x1="12.2" y1="33.5" x2="14.6" y2="44" stroke="#000" stroke-width="0.6"/><circle cx="2.2" cy="38.7" r="1.2" fill="#000"/><line x1="2.2" y1="38.7" x2="6" y2="38.7" stroke="#000" stroke-width="0.9"/><line x1="0" y1="45.2" x2="15.3" y2="45.2" stroke="#000" stroke-width="1.1"/><line x1="15.3" y1="54.4" x2="18.5" y2="54.4" stroke="#000" stroke-width="1.1"/><line x1="0" y1="63.4" x2="18.5" y2="63.4" stroke="#000" stroke-width="1.1"/><line x1="0" y1="73.2" x2="15.3" y2="73.2" stroke="#000" stroke-width="1.1"/><path d="M 15.3 16.4 H 29.8 A 14.5 14.5 0 0 1 15.3 30.9" stroke="#000" stroke-width="0.7" fill="none"/><path d="M 15.3 32 A 12.5 12.5 0 0 1 27.8 44.5 H 15.3" stroke="#000" stroke-width="0.7" fill="none"/><line x1="18.5" y1="45.2" x2="18.5" y2="73.2" stroke="#666" stroke-width="0.6"/><rect x="40.8" y="17" width="36" height="18.6" fill="none" stroke="#000" stroke-width="1.1"/><line x1="42.3" y1="17" x2="42.3" y2="35.6" stroke="#000" stroke-width="0.8"/><line x1="42.3" y1="23.4" x2="76.8" y2="23.4" stroke="#000" stroke-width="0.8"/><line x1="42.3" y1="29.3" x2="76.8" y2="29.3" stroke="#000" stroke-width="0.8"/><rect x="76.8" y="17" width="6.9" height="19.4" fill="none" stroke="#000" stroke-width="1.1"/><path d="M 53 35.6 V 46 M 66.4 35.6 V 46" stroke="#000" stroke-width="0.9" fill="none"/><rect x="76.2" y="3.7" width="7.5" height="8.7" fill="none" stroke="#000" stroke-width="1.1"/><rect x="3.8" y="75.2" width="50.1" height="35.4" fill="none" stroke="#000" stroke-width="1.1"/><line x1="12.9" y1="75.2" x2="12.9" y2="110.6" stroke="#000" stroke-width="1.1"/><rect x="5" y="77" width="6.7" height="15.3" fill="none" stroke="#000" stroke-width="0.7"/><rect x="5" y="94" width="6.7" height="15" fill="none" stroke="#000" stroke-width="0.7"/><path d="M 12.9 85.6 L 23 76 V 85.6 Z" stroke="#000" stroke-width="0.8" fill="none"/><line x1="0.5" y1="112.2" x2="16" y2="112.2" stroke="#000" stroke-width="0.7"/><rect x="-0.2" y="113.6" width="56" height="2.7" fill="#000"/><rect x="53.5" y="113.6" width="2.3" height="38.4" fill="#000"/><rect x="19.7" y="116" width="2" height="27" fill="#000"/><rect x="1.4" y="116.8" width="18.3" height="26.2" fill="none" stroke="#000" stroke-width="0.8"/><line x1="0.5" y1="143.4" x2="21.7" y2="143.4" stroke="#000" stroke-width="1.4"/><circle cx="11.3" cy="132.4" r="2.4" stroke="#000" stroke-width="0.8" fill="none"/><circle cx="11.3" cy="132.4" r="0.6" fill="#000"/><rect x="26.2" y="131" width="9.1" height="9.6" fill="none" stroke="#000" stroke-width="1" rx="2"/><rect x="27.2" y="140.6" width="7.1" height="3.8" fill="none" stroke="#000" stroke-width="0.8"/><rect x="39.9" y="140" width="10.7" height="10.4" fill="none" stroke="#000" stroke-width="1" rx="2"/><line x1="45.2" y1="144" x2="45.2" y2="150.4" stroke="#000" stroke-width="1.6"/><rect x="3" y="145.3" width="15.3" height="6.3" fill="#555"/><rect x="4.2" y="146.5" width="12.9" height="3.9" fill="#bbb"/><path d="M 5 148.5 H 16.5 M 8 146.5 V 150.4 M 12 146.5 V 150.4" stroke="#444" stroke-width="0.6" fill="none"/><rect x="24" y="144.4" width="13.5" height="7.2" fill="#fff" stroke="#000" stroke-width="0.9"/><rect x="25.5" y="146" width="5.5" height="4.5" fill="#777"/><path d="M 32 150.5 Q 36 148 32 145.5" stroke="#000" stroke-width="0.9" fill="none"/><rect x="26" y="117.4" width="24" height="1.4" fill="#999"/><circle cx="22.5" cy="144.8" r="1.3" fill="#000"/><circle cx="37.5" cy="143.8" r="1.1" fill="#000"/><path d="M 55.8 119.8 A 19.5 19.5 0 0 1 75.3 139.3 H 55.8" stroke="#000" stroke-width="0.8" fill="none"/><line x1="80.6" y1="131.5" x2="80.6" y2="152" stroke="#000" stroke-width="1"/><path d="M 80.6 131.5 A 20.5 20.5 0 0 0 60.1 152" stroke="#000" stroke-width="0.8" fill="none"/><line x1="60.1" y1="152.6" x2="80.6" y2="152.6" stroke="#000" stroke-width="0.6"/><rect x="-0.5" y="152" width="60.6" height="3.8" fill="#000"/><rect x="80.6" y="152" width="3.9" height="3.8" fill="#000"/><path d="M 1 155.8 L 18 155.8 L 1 159.6 Z" stroke="#000" stroke-width="0.6" fill="#bbb"/></g><g transform="translate(496,701) scale(-1,1)"><line x1="15.3" y1="0" x2="15.3" y2="73" stroke="#000" stroke-width="1.1"/><rect x="1" y="4" width="13.2" height="8.4" fill="none" stroke="#000" stroke-width="0.9"/><circle cx="4.4" cy="8.3" r="2.5" stroke="#000" stroke-width="0.9" fill="none"/><circle cx="4.4" cy="8.3" r="0.5" fill="#000"/><circle cx="11.4" cy="8.3" r="2.3" stroke="#000" stroke-width="0.9" fill="none"/><path d="M 6.5 4.5 L 10 12 M 10 4.5 L 6.5 12" stroke="#000" stroke-width="0.7" fill="none"/><line x1="0" y1="13.6" x2="15.3" y2="13.6" stroke="#000" stroke-width="1.1"/><line x1="0" y1="15.6" x2="15.3" y2="15.6" stroke="#000" stroke-width="0.7"/><line x1="12.2" y1="16" x2="14.6" y2="31" stroke="#000" stroke-width="0.6"/><line x1="14.6" y1="16" x2="12.2" y2="31" stroke="#000" stroke-width="0.6"/><line x1="0" y1="31.6" x2="15.3" y2="31.6" stroke="#000" stroke-width="1.1"/><rect x="2.2" y="33.2" width="11.4" height="11" fill="none" stroke="#000" stroke-width="0.9"/><line x1="12.2" y1="33.5" x2="14.6" y2="44" stroke="#000" stroke-width="0.6"/><circle cx="2.2" cy="38.7" r="1.2" fill="#000"/><line x1="2.2" y1="38.7" x2="6" y2="38.7" stroke="#000" stroke-width="0.9"/><line x1="0" y1="45.2" x2="15.3" y2="45.2" stroke="#000" stroke-width="1.1"/><line x1="15.3" y1="54.4" x2="18.5" y2="54.4" stroke="#000" stroke-width="1.1"/><line x1="0" y1="63.4" x2="18.5" y2="63.4" stroke="#000" stroke-width="1.1"/><line x1="0" y1="73.2" x2="15.3" y2="73.2" stroke="#000" stroke-width="1.1"/><path d="M 15.3 16.4 H 29.8 A 14.5 14.5 0 0 1 15.3 30.9" stroke="#000" stroke-width="0.7" fill="none"/><path d="M 15.3 32 A 12.5 12.5 0 0 1 27.8 44.5 H 15.3" stroke="#000" stroke-width="0.7" fill="none"/><line x1="18.5" y1="45.2" x2="18.5" y2="73.2" stroke="#666" stroke-width="0.6"/><rect x="40.8" y="17" width="36" height="18.6" fill="none" stroke="#000" stroke-width="1.1"/><line x1="42.3" y1="17" x2="42.3" y2="35.6" stroke="#000" stroke-width="0.8"/><line x1="42.3" y1="23.4" x2="76.8" y2="23.4" stroke="#000" stroke-width="0.8"/><line x1="42.3" y1="29.3" x2="76.8" y2="29.3" stroke="#000" stroke-width="0.8"/><rect x="76.8" y="17" width="6.9" height="19.4" fill="none" stroke="#000" stroke-width="1.1"/><path d="M 53 35.6 V 46 M 66.4 35.6 V 46" stroke="#000" stroke-width="0.9" fill="none"/><rect x="76.2" y="3.7" width="7.5" height="8.7" fill="none" stroke="#000" stroke-width="1.1"/><rect x="3.8" y="75.2" width="50.1" height="35.4" fill="none" stroke="#000" stroke-width="1.1"/><line x1="12.9" y1="75.2" x2="12.9" y2="110.6" stroke="#000" stroke-width="1.1"/><rect x="5" y="77" width="6.7" height="15.3" fill="none" stroke="#000" stroke-width="0.7"/><rect x="5" y="94" width="6.7" height="15" fill="none" stroke="#000" stroke-width="0.7"/><path d="M 12.9 85.6 L 23 76 V 85.6 Z" stroke="#000" stroke-width="0.8" fill="none"/><line x1="0.5" y1="112.2" x2="16" y2="112.2" stroke="#000" stroke-width="0.7"/><rect x="-0.2" y="113.6" width="56" height="2.7" fill="#000"/><rect x="53.5" y="113.6" width="2.3" height="38.4" fill="#000"/><rect x="19.7" y="116" width="2" height="27" fill="#000"/><rect x="1.4" y="116.8" width="18.3" height="26.2" fill="none" stroke="#000" stroke-width="0.8"/><line x1="0.5" y1="143.4" x2="21.7" y2="143.4" stroke="#000" stroke-width="1.4"/><circle cx="11.3" cy="132.4" r="2.4" stroke="#000" stroke-width="0.8" fill="none"/><circle cx="11.3" cy="132.4" r="0.6" fill="#000"/><rect x="26.2" y="131" width="9.1" height="9.6" fill="none" stroke="#000" stroke-width="1" rx="2"/><rect x="27.2" y="140.6" width="7.1" height="3.8" fill="none" stroke="#000" stroke-width="0.8"/><rect x="39.9" y="140" width="10.7" height="10.4" fill="none" stroke="#000" stroke-width="1" rx="2"/><line x1="45.2" y1="144" x2="45.2" y2="150.4" stroke="#000" stroke-width="1.6"/><rect x="3" y="145.3" width="15.3" height="6.3" fill="#555"/><rect x="4.2" y="146.5" width="12.9" height="3.9" fill="#bbb"/><path d="M 5 148.5 H 16.5 M 8 146.5 V 150.4 M 12 146.5 V 150.4" stroke="#444" stroke-width="0.6" fill="none"/><rect x="24" y="144.4" width="13.5" height="7.2" fill="#fff" stroke="#000" stroke-width="0.9"/><rect x="25.5" y="146" width="5.5" height="4.5" fill="#777"/><path d="M 32 150.5 Q 36 148 32 145.5" stroke="#000" stroke-width="0.9" fill="none"/><rect x="26" y="117.4" width="24" height="1.4" fill="#999"/><circle cx="22.5" cy="144.8" r="1.3" fill="#000"/><circle cx="37.5" cy="143.8" r="1.1" fill="#000"/><path d="M 55.8 119.8 A 19.5 19.5 0 0 1 75.3 139.3 H 55.8" stroke="#000" stroke-width="0.8" fill="none"/><line x1="80.6" y1="131.5" x2="80.6" y2="152" stroke="#000" stroke-width="1"/><path d="M 80.6 131.5 A 20.5 20.5 0 0 0 60.1 152" stroke="#000" stroke-width="0.8" fill="none"/><line x1="60.1" y1="152.6" x2="80.6" y2="152.6" stroke="#000" stroke-width="0.6"/><rect x="-0.5" y="152" width="60.6" height="3.8" fill="#000"/><rect x="80.6" y="152" width="3.9" height="3.8" fill="#000"/><path d="M 1 155.8 L 18 155.8 L 1 159.6 Z" stroke="#000" stroke-width="0.6" fill="#bbb"/></g><g transform="translate(500.2,701)"><line x1="15.3" y1="0" x2="15.3" y2="73" stroke="#000" stroke-width="1.1"/><rect x="1" y="4" width="13.2" height="8.4" fill="none" stroke="#000" stroke-width="0.9"/><circle cx="4.4" cy="8.3" r="2.5" stroke="#000" stroke-width="0.9" fill="none"/><circle cx="4.4" cy="8.3" r="0.5" fill="#000"/><circle cx="11.4" cy="8.3" r="2.3" stroke="#000" stroke-width="0.9" fill="none"/><path d="M 6.5 4.5 L 10 12 M 10 4.5 L 6.5 12" stroke="#000" stroke-width="0.7" fill="none"/><line x1="0" y1="13.6" x2="15.3" y2="13.6" stroke="#000" stroke-width="1.1"/><line x1="0" y1="15.6" x2="15.3" y2="15.6" stroke="#000" stroke-width="0.7"/><line x1="12.2" y1="16" x2="14.6" y2="31" stroke="#000" stroke-width="0.6"/><line x1="14.6" y1="16" x2="12.2" y2="31" stroke="#000" stroke-width="0.6"/><line x1="0" y1="31.6" x2="15.3" y2="31.6" stroke="#000" stroke-width="1.1"/><rect x="2.2" y="33.2" width="11.4" height="11" fill="none" stroke="#000" stroke-width="0.9"/><line x1="12.2" y1="33.5" x2="14.6" y2="44" stroke="#000" stroke-width="0.6"/><circle cx="2.2" cy="38.7" r="1.2" fill="#000"/><line x1="2.2" y1="38.7" x2="6" y2="38.7" stroke="#000" stroke-width="0.9"/><line x1="0" y1="45.2" x2="15.3" y2="45.2" stroke="#000" stroke-width="1.1"/><line x1="15.3" y1="54.4" x2="18.5" y2="54.4" stroke="#000" stroke-width="1.1"/><line x1="0" y1="63.4" x2="18.5" y2="63.4" stroke="#000" stroke-width="1.1"/><line x1="0" y1="73.2" x2="15.3" y2="73.2" stroke="#000" stroke-width="1.1"/><path d="M 15.3 16.4 H 29.8 A 14.5 14.5 0 0 1 15.3 30.9" stroke="#000" stroke-width="0.7" fill="none"/><path d="M 15.3 32 A 12.5 12.5 0 0 1 27.8 44.5 H 15.3" stroke="#000" stroke-width="0.7" fill="none"/><line x1="18.5" y1="45.2" x2="18.5" y2="73.2" stroke="#666" stroke-width="0.6"/><rect x="41.1" y="17" width="36" height="18.6" fill="none" stroke="#000" stroke-width="1.1"/><line x1="42.6" y1="17" x2="42.6" y2="35.6" stroke="#000" stroke-width="0.8"/><line x1="42.6" y1="23.4" x2="77.1" y2="23.4" stroke="#000" stroke-width="0.8"/><line x1="42.6" y1="29.3" x2="77.1" y2="29.3" stroke="#000" stroke-width="0.8"/><rect x="77.1" y="17" width="6.9" height="19.4" fill="none" stroke="#000" stroke-width="1.1"/><path d="M 53.3 35.6 V 46 M 66.7 35.6 V 46" stroke="#000" stroke-width="0.9" fill="none"/><rect x="76.5" y="3.7" width="7.5" height="8.7" fill="none" stroke="#000" stroke-width="1.1"/><rect x="3.8" y="75.2" width="50.1" height="35.4" fill="none" stroke="#000" stroke-width="1.1"/><line x1="12.9" y1="75.2" x2="12.9" y2="110.6" stroke="#000" stroke-width="1.1"/><rect x="5" y="77" width="6.7" height="15.3" fill="none" stroke="#000" stroke-width="0.7"/><rect x="5" y="94" width="6.7" height="15" fill="none" stroke="#000" stroke-width="0.7"/><path d="M 12.9 85.6 L 23 76 V 85.6 Z" stroke="#000" stroke-width="0.8" fill="none"/><line x1="0.5" y1="112.2" x2="16" y2="112.2" stroke="#000" stroke-width="0.7"/><rect x="-0.2" y="113.6" width="56" height="2.7" fill="#000"/><rect x="53.5" y="113.6" width="2.3" height="38.4" fill="#000"/><rect x="19.7" y="116" width="2" height="27" fill="#000"/><rect x="1.4" y="116.8" width="18.3" height="26.2" fill="none" stroke="#000" stroke-width="0.8"/><line x1="0.5" y1="143.4" x2="21.7" y2="143.4" stroke="#000" stroke-width="1.4"/><circle cx="11.3" cy="132.4" r="2.4" stroke="#000" stroke-width="0.8" fill="none"/><circle cx="11.3" cy="132.4" r="0.6" fill="#000"/><rect x="26.2" y="131" width="9.1" height="9.6" fill="none" stroke="#000" stroke-width="1" rx="2"/><rect x="27.2" y="140.6" width="7.1" height="3.8" fill="none" stroke="#000" stroke-width="0.8"/><rect x="39.9" y="140" width="10.7" height="10.4" fill="none" stroke="#000" stroke-width="1" rx="2"/><line x1="45.2" y1="144" x2="45.2" y2="150.4" stroke="#000" stroke-width="1.6"/><rect x="3" y="145.3" width="15.3" height="6.3" fill="#555"/><rect x="4.2" y="146.5" width="12.9" height="3.9" fill="#bbb"/><path d="M 5 148.5 H 16.5 M 8 146.5 V 150.4 M 12 146.5 V 150.4" stroke="#444" stroke-width="0.6" fill="none"/><rect x="24" y="144.4" width="13.5" height="7.2" fill="#fff" stroke="#000" stroke-width="0.9"/><rect x="25.5" y="146" width="5.5" height="4.5" fill="#777"/><path d="M 32 150.5 Q 36 148 32 145.5" stroke="#000" stroke-width="0.9" fill="none"/><rect x="26" y="117.4" width="24" height="1.4" fill="#999"/><circle cx="22.5" cy="144.8" r="1.3" fill="#000"/><circle cx="37.5" cy="143.8" r="1.1" fill="#000"/><path d="M 55.8 119.8 A 19.5 19.5 0 0 1 75.3 139.3 H 55.8" stroke="#000" stroke-width="0.8" fill="none"/><line x1="80.9" y1="131.5" x2="80.9" y2="152" stroke="#000" stroke-width="1"/><path d="M 80.9 131.5 A 20.5 20.5 0 0 0 60.4 152" stroke="#000" stroke-width="0.8" fill="none"/><line x1="60.4" y1="152.6" x2="80.9" y2="152.6" stroke="#000" stroke-width="0.6"/><rect x="-0.5" y="152" width="60.9" height="3.8" fill="#000"/><rect x="80.9" y="152" width="3.9" height="3.8" fill="#000"/><path d="M 1 155.8 L 18 155.8 L 1 159.6 Z" stroke="#000" stroke-width="0.6" fill="#bbb"/></g><g transform="translate(595.2,701)"><line x1="15.3" y1="0" x2="15.3" y2="73" stroke="#000" stroke-width="1.1"/><rect x="1" y="4" width="13.2" height="8.4" fill="none" stroke="#000" stroke-width="0.9"/><circle cx="4.4" cy="8.3" r="2.5" stroke="#000" stroke-width="0.9" fill="none"/><circle cx="4.4" cy="8.3" r="0.5" fill="#000"/><circle cx="11.4" cy="8.3" r="2.3" stroke="#000" stroke-width="0.9" fill="none"/><path d="M 6.5 4.5 L 10 12 M 10 4.5 L 6.5 12" stroke="#000" stroke-width="0.7" fill="none"/><line x1="0" y1="13.6" x2="15.3" y2="13.6" stroke="#000" stroke-width="1.1"/><line x1="0" y1="15.6" x2="15.3" y2="15.6" stroke="#000" stroke-width="0.7"/><line x1="12.2" y1="16" x2="14.6" y2="31" stroke="#000" stroke-width="0.6"/><line x1="14.6" y1="16" x2="12.2" y2="31" stroke="#000" stroke-width="0.6"/><line x1="0" y1="31.6" x2="15.3" y2="31.6" stroke="#000" stroke-width="1.1"/><rect x="2.2" y="33.2" width="11.4" height="11" fill="none" stroke="#000" stroke-width="0.9"/><line x1="12.2" y1="33.5" x2="14.6" y2="44" stroke="#000" stroke-width="0.6"/><circle cx="2.2" cy="38.7" r="1.2" fill="#000"/><line x1="2.2" y1="38.7" x2="6" y2="38.7" stroke="#000" stroke-width="0.9"/><line x1="0" y1="45.2" x2="15.3" y2="45.2" stroke="#000" stroke-width="1.1"/><line x1="15.3" y1="54.4" x2="18.5" y2="54.4" stroke="#000" stroke-width="1.1"/><line x1="0" y1="63.4" x2="18.5" y2="63.4" stroke="#000" stroke-width="1.1"/><line x1="0" y1="73.2" x2="15.3" y2="73.2" stroke="#000" stroke-width="1.1"/><path d="M 15.3 16.4 H 29.8 A 14.5 14.5 0 0 1 15.3 30.9" stroke="#000" stroke-width="0.7" fill="none"/><path d="M 15.3 32 A 12.5 12.5 0 0 1 27.8 44.5 H 15.3" stroke="#000" stroke-width="0.7" fill="none"/><line x1="18.5" y1="45.2" x2="18.5" y2="73.2" stroke="#666" stroke-width="0.6"/><rect x="40.6" y="17" width="36" height="18.6" fill="none" stroke="#000" stroke-width="1.1"/><line x1="42.1" y1="17" x2="42.1" y2="35.6" stroke="#000" stroke-width="0.8"/><line x1="42.1" y1="23.4" x2="76.6" y2="23.4" stroke="#000" stroke-width="0.8"/><line x1="42.1" y1="29.3" x2="76.6" y2="29.3" stroke="#000" stroke-width="0.8"/><rect x="76.6" y="17" width="6.9" height="19.4" fill="none" stroke="#000" stroke-width="1.1"/><path d="M 52.8 35.6 V 46 M 66.2 35.6 V 46" stroke="#000" stroke-width="0.9" fill="none"/><rect x="76" y="3.7" width="7.5" height="8.7" fill="none" stroke="#000" stroke-width="1.1"/><rect x="3.8" y="75.2" width="50.1" height="35.4" fill="none" stroke="#000" stroke-width="1.1"/><line x1="12.9" y1="75.2" x2="12.9" y2="110.6" stroke="#000" stroke-width="1.1"/><rect x="5" y="77" width="6.7" height="15.3" fill="none" stroke="#000" stroke-width="0.7"/><rect x="5" y="94" width="6.7" height="15" fill="none" stroke="#000" stroke-width="0.7"/><path d="M 12.9 85.6 L 23 76 V 85.6 Z" stroke="#000" stroke-width="0.8" fill="none"/><line x1="0.5" y1="112.2" x2="16" y2="112.2" stroke="#000" stroke-width="0.7"/><rect x="-0.2" y="113.6" width="56" height="2.7" fill="#000"/><rect x="53.5" y="113.6" width="2.3" height="38.4" fill="#000"/><rect x="19.7" y="116" width="2" height="27" fill="#000"/><rect x="1.4" y="116.8" width="18.3" height="26.2" fill="none" stroke="#000" stroke-width="0.8"/><line x1="0.5" y1="143.4" x2="21.7" y2="143.4" stroke="#000" stroke-width="1.4"/><circle cx="11.3" cy="132.4" r="2.4" stroke="#000" stroke-width="0.8" fill="none"/><circle cx="11.3" cy="132.4" r="0.6" fill="#000"/><rect x="26.2" y="131" width="9.1" height="9.6" fill="none" stroke="#000" stroke-width="1" rx="2"/><rect x="27.2" y="140.6" width="7.1" height="3.8" fill="none" stroke="#000" stroke-width="0.8"/><rect x="39.9" y="140" width="10.7" height="10.4" fill="none" stroke="#000" stroke-width="1" rx="2"/><line x1="45.2" y1="144" x2="45.2" y2="150.4" stroke="#000" stroke-width="1.6"/><rect x="3" y="145.3" width="15.3" height="6.3" fill="#555"/><rect x="4.2" y="146.5" width="12.9" height="3.9" fill="#bbb"/><path d="M 5 148.5 H 16.5 M 8 146.5 V 150.4 M 12 146.5 V 150.4" stroke="#444" stroke-width="0.6" fill="none"/><rect x="24" y="144.4" width="13.5" height="7.2" fill="#fff" stroke="#000" stroke-width="0.9"/><rect x="25.5" y="146" width="5.5" height="4.5" fill="#777"/><path d="M 32 150.5 Q 36 148 32 145.5" stroke="#000" stroke-width="0.9" fill="none"/><rect x="26" y="117.4" width="24" height="1.4" fill="#999"/><circle cx="22.5" cy="144.8" r="1.3" fill="#000"/><circle cx="37.5" cy="143.8" r="1.1" fill="#000"/><path d="M 55.8 119.8 A 19.5 19.5 0 0 1 75.3 139.3 H 55.8" stroke="#000" stroke-width="0.8" fill="none"/><line x1="80.4" y1="131.5" x2="80.4" y2="152" stroke="#000" stroke-width="1"/><path d="M 80.4 131.5 A 20.5 20.5 0 0 0 59.9 152" stroke="#000" stroke-width="0.8" fill="none"/><line x1="59.9" y1="152.6" x2="80.4" y2="152.6" stroke="#000" stroke-width="0.6"/><rect x="-0.5" y="152" width="60.4" height="3.8" fill="#000"/><rect x="80.4" y="152" width="3.9" height="3.8" fill="#000"/><path d="M 1 155.8 L 18 155.8 L 1 159.6 Z" stroke="#000" stroke-width="0.6" fill="#bbb"/></g><g transform="translate(683.8,701)"><line x1="15.3" y1="0" x2="15.3" y2="73" stroke="#000" stroke-width="1.1"/><rect x="1" y="4" width="13.2" height="8.4" fill="none" stroke="#000" stroke-width="0.9"/><circle cx="4.4" cy="8.3" r="2.5" stroke="#000" stroke-width="0.9" fill="none"/><circle cx="4.4" cy="8.3" r="0.5" fill="#000"/><circle cx="11.4" cy="8.3" r="2.3" stroke="#000" stroke-width="0.9" fill="none"/><path d="M 6.5 4.5 L 10 12 M 10 4.5 L 6.5 12" stroke="#000" stroke-width="0.7" fill="none"/><line x1="0" y1="13.6" x2="15.3" y2="13.6" stroke="#000" stroke-width="1.1"/><line x1="0" y1="15.6" x2="15.3" y2="15.6" stroke="#000" stroke-width="0.7"/><line x1="12.2" y1="16" x2="14.6" y2="31" stroke="#000" stroke-width="0.6"/><line x1="14.6" y1="16" x2="12.2" y2="31" stroke="#000" stroke-width="0.6"/><line x1="0" y1="31.6" x2="15.3" y2="31.6" stroke="#000" stroke-width="1.1"/><rect x="2.2" y="33.2" width="11.4" height="11" fill="none" stroke="#000" stroke-width="0.9"/><line x1="12.2" y1="33.5" x2="14.6" y2="44" stroke="#000" stroke-width="0.6"/><circle cx="2.2" cy="38.7" r="1.2" fill="#000"/><line x1="2.2" y1="38.7" x2="6" y2="38.7" stroke="#000" stroke-width="0.9"/><line x1="0" y1="45.2" x2="15.3" y2="45.2" stroke="#000" stroke-width="1.1"/><line x1="15.3" y1="54.4" x2="18.5" y2="54.4" stroke="#000" stroke-width="1.1"/><line x1="0" y1="63.4" x2="18.5" y2="63.4" stroke="#000" stroke-width="1.1"/><line x1="0" y1="73.2" x2="15.3" y2="73.2" stroke="#000" stroke-width="1.1"/><path d="M 15.3 16.4 H 29.8 A 14.5 14.5 0 0 1 15.3 30.9" stroke="#000" stroke-width="0.7" fill="none"/><path d="M 15.3 32 A 12.5 12.5 0 0 1 27.8 44.5 H 15.3" stroke="#000" stroke-width="0.7" fill="none"/><line x1="18.5" y1="45.2" x2="18.5" y2="73.2" stroke="#666" stroke-width="0.6"/><rect x="40.2" y="17" width="36" height="18.6" fill="none" stroke="#000" stroke-width="1.1"/><line x1="41.7" y1="17" x2="41.7" y2="35.6" stroke="#000" stroke-width="0.8"/><line x1="41.7" y1="23.4" x2="76.2" y2="23.4" stroke="#000" stroke-width="0.8"/><line x1="41.7" y1="29.3" x2="76.2" y2="29.3" stroke="#000" stroke-width="0.8"/><rect x="76.2" y="17" width="6.9" height="19.4" fill="none" stroke="#000" stroke-width="1.1"/><path d="M 52.4 35.6 V 46 M 65.8 35.6 V 46" stroke="#000" stroke-width="0.9" fill="none"/><rect x="75.6" y="3.7" width="7.5" height="8.7" fill="none" stroke="#000" stroke-width="1.1"/><rect x="3.8" y="75.2" width="50.1" height="35.4" fill="none" stroke="#000" stroke-width="1.1"/><line x1="12.9" y1="75.2" x2="12.9" y2="110.6" stroke="#000" stroke-width="1.1"/><rect x="5" y="77" width="6.7" height="15.3" fill="none" stroke="#000" stroke-width="0.7"/><rect x="5" y="94" width="6.7" height="15" fill="none" stroke="#000" stroke-width="0.7"/><path d="M 12.9 85.6 L 23 76 V 85.6 Z" stroke="#000" stroke-width="0.8" fill="none"/><line x1="0.5" y1="112.2" x2="16" y2="112.2" stroke="#000" stroke-width="0.7"/><rect x="-0.2" y="113.6" width="56" height="2.7" fill="#000"/><rect x="53.5" y="113.6" width="2.3" height="38.4" fill="#000"/><rect x="19.7" y="116" width="2" height="27" fill="#000"/><rect x="1.4" y="116.8" width="18.3" height="26.2" fill="none" stroke="#000" stroke-width="0.8"/><line x1="0.5" y1="143.4" x2="21.7" y2="143.4" stroke="#000" stroke-width="1.4"/><circle cx="11.3" cy="132.4" r="2.4" stroke="#000" stroke-width="0.8" fill="none"/><circle cx="11.3" cy="132.4" r="0.6" fill="#000"/><rect x="26.2" y="131" width="9.1" height="9.6" fill="none" stroke="#000" stroke-width="1" rx="2"/><rect x="27.2" y="140.6" width="7.1" height="3.8" fill="none" stroke="#000" stroke-width="0.8"/><rect x="39.9" y="140" width="10.7" height="10.4" fill="none" stroke="#000" stroke-width="1" rx="2"/><line x1="45.2" y1="144" x2="45.2" y2="150.4" stroke="#000" stroke-width="1.6"/><rect x="3" y="145.3" width="15.3" height="6.3" fill="#555"/><rect x="4.2" y="146.5" width="12.9" height="3.9" fill="#bbb"/><path d="M 5 148.5 H 16.5 M 8 146.5 V 150.4 M 12 146.5 V 150.4" stroke="#444" stroke-width="0.6" fill="none"/><rect x="24" y="144.4" width="13.5" height="7.2" fill="#fff" stroke="#000" stroke-width="0.9"/><rect x="25.5" y="146" width="5.5" height="4.5" fill="#777"/><path d="M 32 150.5 Q 36 148 32 145.5" stroke="#000" stroke-width="0.9" fill="none"/><rect x="26" y="117.4" width="24" height="1.4" fill="#999"/><circle cx="22.5" cy="144.8" r="1.3" fill="#000"/><circle cx="37.5" cy="143.8" r="1.1" fill="#000"/><path d="M 55.8 119.8 A 19.5 19.5 0 0 1 75.3 139.3 H 55.8" stroke="#000" stroke-width="0.8" fill="none"/><line x1="80" y1="131.5" x2="80" y2="152" stroke="#000" stroke-width="1"/><path d="M 80 131.5 A 20.5 20.5 0 0 0 59.5 152" stroke="#000" stroke-width="0.8" fill="none"/><line x1="59.5" y1="152.6" x2="80" y2="152.6" stroke="#000" stroke-width="0.6"/><rect x="-0.5" y="152" width="60" height="3.8" fill="#000"/><rect x="80" y="152" width="3.9" height="3.8" fill="#000"/><path d="M 1 155.8 L 18 155.8 L 1 159.6 Z" stroke="#000" stroke-width="0.6" fill="#bbb"/></g><g transform="translate(777.6,701)"><line x1="15.3" y1="0" x2="15.3" y2="73" stroke="#000" stroke-width="1.1"/><rect x="1" y="4" width="13.2" height="8.4" fill="none" stroke="#000" stroke-width="0.9"/><circle cx="4.4" cy="8.3" r="2.5" stroke="#000" stroke-width="0.9" fill="none"/><circle cx="4.4" cy="8.3" r="0.5" fill="#000"/><circle cx="11.4" cy="8.3" r="2.3" stroke="#000" stroke-width="0.9" fill="none"/><path d="M 6.5 4.5 L 10 12 M 10 4.5 L 6.5 12" stroke="#000" stroke-width="0.7" fill="none"/><line x1="0" y1="13.6" x2="15.3" y2="13.6" stroke="#000" stroke-width="1.1"/><line x1="0" y1="15.6" x2="15.3" y2="15.6" stroke="#000" stroke-width="0.7"/><line x1="12.2" y1="16" x2="14.6" y2="31" stroke="#000" stroke-width="0.6"/><line x1="14.6" y1="16" x2="12.2" y2="31" stroke="#000" stroke-width="0.6"/><line x1="0" y1="31.6" x2="15.3" y2="31.6" stroke="#000" stroke-width="1.1"/><rect x="2.2" y="33.2" width="11.4" height="11" fill="none" stroke="#000" stroke-width="0.9"/><line x1="12.2" y1="33.5" x2="14.6" y2="44" stroke="#000" stroke-width="0.6"/><circle cx="2.2" cy="38.7" r="1.2" fill="#000"/><line x1="2.2" y1="38.7" x2="6" y2="38.7" stroke="#000" stroke-width="0.9"/><line x1="0" y1="45.2" x2="15.3" y2="45.2" stroke="#000" stroke-width="1.1"/><line x1="15.3" y1="54.4" x2="18.5" y2="54.4" stroke="#000" stroke-width="1.1"/><line x1="0" y1="63.4" x2="18.5" y2="63.4" stroke="#000" stroke-width="1.1"/><line x1="0" y1="73.2" x2="15.3" y2="73.2" stroke="#000" stroke-width="1.1"/><path d="M 15.3 16.4 H 29.8 A 14.5 14.5 0 0 1 15.3 30.9" stroke="#000" stroke-width="0.7" fill="none"/><path d="M 15.3 32 A 12.5 12.5 0 0 1 27.8 44.5 H 15.3" stroke="#000" stroke-width="0.7" fill="none"/><line x1="18.5" y1="45.2" x2="18.5" y2="73.2" stroke="#666" stroke-width="0.6"/><rect x="40.2" y="17" width="36" height="18.6" fill="none" stroke="#000" stroke-width="1.1"/><line x1="41.7" y1="17" x2="41.7" y2="35.6" stroke="#000" stroke-width="0.8"/><line x1="41.7" y1="23.4" x2="76.2" y2="23.4" stroke="#000" stroke-width="0.8"/><line x1="41.7" y1="29.3" x2="76.2" y2="29.3" stroke="#000" stroke-width="0.8"/><rect x="76.2" y="17" width="6.9" height="19.4" fill="none" stroke="#000" stroke-width="1.1"/><path d="M 52.4 35.6 V 46 M 65.8 35.6 V 46" stroke="#000" stroke-width="0.9" fill="none"/><rect x="75.6" y="3.7" width="7.5" height="8.7" fill="none" stroke="#000" stroke-width="1.1"/><rect x="3.8" y="75.2" width="50.1" height="35.4" fill="none" stroke="#000" stroke-width="1.1"/><line x1="12.9" y1="75.2" x2="12.9" y2="110.6" stroke="#000" stroke-width="1.1"/><rect x="5" y="77" width="6.7" height="15.3" fill="none" stroke="#000" stroke-width="0.7"/><rect x="5" y="94" width="6.7" height="15" fill="none" stroke="#000" stroke-width="0.7"/><path d="M 12.9 85.6 L 23 76 V 85.6 Z" stroke="#000" stroke-width="0.8" fill="none"/><line x1="0.5" y1="112.2" x2="16" y2="112.2" stroke="#000" stroke-width="0.7"/><rect x="-0.2" y="113.6" width="56" height="2.7" fill="#000"/><rect x="53.5" y="113.6" width="2.3" height="38.4" fill="#000"/><rect x="19.7" y="116" width="2" height="27" fill="#000"/><rect x="1.4" y="116.8" width="18.3" height="26.2" fill="none" stroke="#000" stroke-width="0.8"/><line x1="0.5" y1="143.4" x2="21.7" y2="143.4" stroke="#000" stroke-width="1.4"/><circle cx="11.3" cy="132.4" r="2.4" stroke="#000" stroke-width="0.8" fill="none"/><circle cx="11.3" cy="132.4" r="0.6" fill="#000"/><rect x="26.2" y="131" width="9.1" height="9.6" fill="none" stroke="#000" stroke-width="1" rx="2"/><rect x="27.2" y="140.6" width="7.1" height="3.8" fill="none" stroke="#000" stroke-width="0.8"/><rect x="39.9" y="140" width="10.7" height="10.4" fill="none" stroke="#000" stroke-width="1" rx="2"/><line x1="45.2" y1="144" x2="45.2" y2="150.4" stroke="#000" stroke-width="1.6"/><rect x="3" y="145.3" width="15.3" height="6.3" fill="#555"/><rect x="4.2" y="146.5" width="12.9" height="3.9" fill="#bbb"/><path d="M 5 148.5 H 16.5 M 8 146.5 V 150.4 M 12 146.5 V 150.4" stroke="#444" stroke-width="0.6" fill="none"/><rect x="24" y="144.4" width="13.5" height="7.2" fill="#fff" stroke="#000" stroke-width="0.9"/><rect x="25.5" y="146" width="5.5" height="4.5" fill="#777"/><path d="M 32 150.5 Q 36 148 32 145.5" stroke="#000" stroke-width="0.9" fill="none"/><rect x="26" y="117.4" width="24" height="1.4" fill="#999"/><circle cx="22.5" cy="144.8" r="1.3" fill="#000"/><circle cx="37.5" cy="143.8" r="1.1" fill="#000"/><path d="M 55.8 119.8 A 19.5 19.5 0 0 1 75.3 139.3 H 55.8" stroke="#000" stroke-width="0.8" fill="none"/><line x1="80" y1="131.5" x2="80" y2="152" stroke="#000" stroke-width="1"/><path d="M 80 131.5 A 20.5 20.5 0 0 0 59.5 152" stroke="#000" stroke-width="0.8" fill="none"/><line x1="59.5" y1="152.6" x2="80" y2="152.6" stroke="#000" stroke-width="0.6"/><rect x="-0.5" y="152" width="60" height="3.8" fill="#000"/><rect x="80" y="152" width="3.9" height="3.8" fill="#000"/><path d="M 1 155.8 L 18 155.8 L 1 159.6 Z" stroke="#000" stroke-width="0.6" fill="#bbb"/></g><g transform="translate(1191,701) scale(-1,1)"><line x1="15.3" y1="0" x2="15.3" y2="73" stroke="#000" stroke-width="1.1"/><rect x="1" y="4" width="13.2" height="8.4" fill="none" stroke="#000" stroke-width="0.9"/><circle cx="4.4" cy="8.3" r="2.5" stroke="#000" stroke-width="0.9" fill="none"/><circle cx="4.4" cy="8.3" r="0.5" fill="#000"/><circle cx="11.4" cy="8.3" r="2.3" stroke="#000" stroke-width="0.9" fill="none"/><path d="M 6.5 4.5 L 10 12 M 10 4.5 L 6.5 12" stroke="#000" stroke-width="0.7" fill="none"/><line x1="0" y1="13.6" x2="15.3" y2="13.6" stroke="#000" stroke-width="1.1"/><line x1="0" y1="15.6" x2="15.3" y2="15.6" stroke="#000" stroke-width="0.7"/><line x1="12.2" y1="16" x2="14.6" y2="31" stroke="#000" stroke-width="0.6"/><line x1="14.6" y1="16" x2="12.2" y2="31" stroke="#000" stroke-width="0.6"/><line x1="0" y1="31.6" x2="15.3" y2="31.6" stroke="#000" stroke-width="1.1"/><rect x="2.2" y="33.2" width="11.4" height="11" fill="none" stroke="#000" stroke-width="0.9"/><line x1="12.2" y1="33.5" x2="14.6" y2="44" stroke="#000" stroke-width="0.6"/><circle cx="2.2" cy="38.7" r="1.2" fill="#000"/><line x1="2.2" y1="38.7" x2="6" y2="38.7" stroke="#000" stroke-width="0.9"/><line x1="0" y1="45.2" x2="15.3" y2="45.2" stroke="#000" stroke-width="1.1"/><line x1="15.3" y1="54.4" x2="18.5" y2="54.4" stroke="#000" stroke-width="1.1"/><line x1="0" y1="63.4" x2="18.5" y2="63.4" stroke="#000" stroke-width="1.1"/><line x1="0" y1="73.2" x2="15.3" y2="73.2" stroke="#000" stroke-width="1.1"/><path d="M 15.3 16.4 H 29.8 A 14.5 14.5 0 0 1 15.3 30.9" stroke="#000" stroke-width="0.7" fill="none"/><path d="M 15.3 32 A 12.5 12.5 0 0 1 27.8 44.5 H 15.3" stroke="#000" stroke-width="0.7" fill="none"/><line x1="18.5" y1="45.2" x2="18.5" y2="73.2" stroke="#666" stroke-width="0.6"/><rect x="37.8" y="17" width="36" height="18.6" fill="none" stroke="#000" stroke-width="1.1"/><line x1="39.3" y1="17" x2="39.3" y2="35.6" stroke="#000" stroke-width="0.8"/><line x1="39.3" y1="23.4" x2="73.8" y2="23.4" stroke="#000" stroke-width="0.8"/><line x1="39.3" y1="29.3" x2="73.8" y2="29.3" stroke="#000" stroke-width="0.8"/><rect x="73.8" y="17" width="6.9" height="19.4" fill="none" stroke="#000" stroke-width="1.1"/><path d="M 50 35.6 V 46 M 63.4 35.6 V 46" stroke="#000" stroke-width="0.9" fill="none"/><rect x="73.2" y="3.7" width="7.5" height="8.7" fill="none" stroke="#000" stroke-width="1.1"/><rect x="3.8" y="75.2" width="50.1" height="35.4" fill="none" stroke="#000" stroke-width="1.1"/><line x1="12.9" y1="75.2" x2="12.9" y2="110.6" stroke="#000" stroke-width="1.1"/><rect x="5" y="77" width="6.7" height="15.3" fill="none" stroke="#000" stroke-width="0.7"/><rect x="5" y="94" width="6.7" height="15" fill="none" stroke="#000" stroke-width="0.7"/><path d="M 12.9 85.6 L 23 76 V 85.6 Z" stroke="#000" stroke-width="0.8" fill="none"/><line x1="0.5" y1="112.2" x2="16" y2="112.2" stroke="#000" stroke-width="0.7"/><rect x="-0.2" y="113.6" width="56" height="2.7" fill="#000"/><rect x="53.5" y="113.6" width="2.3" height="38.4" fill="#000"/><rect x="19.7" y="116" width="2" height="27" fill="#000"/><rect x="1.4" y="116.8" width="18.3" height="26.2" fill="none" stroke="#000" stroke-width="0.8"/><line x1="0.5" y1="143.4" x2="21.7" y2="143.4" stroke="#000" stroke-width="1.4"/><circle cx="11.3" cy="132.4" r="2.4" stroke="#000" stroke-width="0.8" fill="none"/><circle cx="11.3" cy="132.4" r="0.6" fill="#000"/><rect x="26.2" y="131" width="9.1" height="9.6" fill="none" stroke="#000" stroke-width="1" rx="2"/><rect x="27.2" y="140.6" width="7.1" height="3.8" fill="none" stroke="#000" stroke-width="0.8"/><rect x="39.9" y="140" width="10.7" height="10.4" fill="none" stroke="#000" stroke-width="1" rx="2"/><line x1="45.2" y1="144" x2="45.2" y2="150.4" stroke="#000" stroke-width="1.6"/><rect x="3" y="145.3" width="15.3" height="6.3" fill="#555"/><rect x="4.2" y="146.5" width="12.9" height="3.9" fill="#bbb"/><path d="M 5 148.5 H 16.5 M 8 146.5 V 150.4 M 12 146.5 V 150.4" stroke="#444" stroke-width="0.6" fill="none"/><rect x="24" y="144.4" width="13.5" height="7.2" fill="#fff" stroke="#000" stroke-width="0.9"/><rect x="25.5" y="146" width="5.5" height="4.5" fill="#777"/><path d="M 32 150.5 Q 36 148 32 145.5" stroke="#000" stroke-width="0.9" fill="none"/><rect x="26" y="117.4" width="24" height="1.4" fill="#999"/><circle cx="22.5" cy="144.8" r="1.3" fill="#000"/><circle cx="37.5" cy="143.8" r="1.1" fill="#000"/><path d="M 55.8 119.8 A 19.5 19.5 0 0 1 75.3 139.3 H 55.8" stroke="#000" stroke-width="0.8" fill="none"/><line x1="77.6" y1="131.5" x2="77.6" y2="152" stroke="#000" stroke-width="1"/><path d="M 77.6 131.5 A 20.5 20.5 0 0 0 57.1 152" stroke="#000" stroke-width="0.8" fill="none"/><line x1="57.1" y1="152.6" x2="77.6" y2="152.6" stroke="#000" stroke-width="0.6"/><rect x="-0.5" y="152" width="57.6" height="3.8" fill="#000"/><rect x="77.6" y="152" width="3.9" height="3.8" fill="#000"/><path d="M 1 155.8 L 18 155.8 L 1 159.6 Z" stroke="#000" stroke-width="0.6" fill="#bbb"/></g><g transform="translate(1195.6,701)"><line x1="15.3" y1="0" x2="15.3" y2="73" stroke="#000" stroke-width="1.1"/><rect x="1" y="4" width="13.2" height="8.4" fill="none" stroke="#000" stroke-width="0.9"/><circle cx="4.4" cy="8.3" r="2.5" stroke="#000" stroke-width="0.9" fill="none"/><circle cx="4.4" cy="8.3" r="0.5" fill="#000"/><circle cx="11.4" cy="8.3" r="2.3" stroke="#000" stroke-width="0.9" fill="none"/><path d="M 6.5 4.5 L 10 12 M 10 4.5 L 6.5 12" stroke="#000" stroke-width="0.7" fill="none"/><line x1="0" y1="13.6" x2="15.3" y2="13.6" stroke="#000" stroke-width="1.1"/><line x1="0" y1="15.6" x2="15.3" y2="15.6" stroke="#000" stroke-width="0.7"/><line x1="12.2" y1="16" x2="14.6" y2="31" stroke="#000" stroke-width="0.6"/><line x1="14.6" y1="16" x2="12.2" y2="31" stroke="#000" stroke-width="0.6"/><line x1="0" y1="31.6" x2="15.3" y2="31.6" stroke="#000" stroke-width="1.1"/><rect x="2.2" y="33.2" width="11.4" height="11" fill="none" stroke="#000" stroke-width="0.9"/><line x1="12.2" y1="33.5" x2="14.6" y2="44" stroke="#000" stroke-width="0.6"/><circle cx="2.2" cy="38.7" r="1.2" fill="#000"/><line x1="2.2" y1="38.7" x2="6" y2="38.7" stroke="#000" stroke-width="0.9"/><line x1="0" y1="45.2" x2="15.3" y2="45.2" stroke="#000" stroke-width="1.1"/><line x1="15.3" y1="54.4" x2="18.5" y2="54.4" stroke="#000" stroke-width="1.1"/><line x1="0" y1="63.4" x2="18.5" y2="63.4" stroke="#000" stroke-width="1.1"/><line x1="0" y1="73.2" x2="15.3" y2="73.2" stroke="#000" stroke-width="1.1"/><path d="M 15.3 16.4 H 29.8 A 14.5 14.5 0 0 1 15.3 30.9" stroke="#000" stroke-width="0.7" fill="none"/><path d="M 15.3 32 A 12.5 12.5 0 0 1 27.8 44.5 H 15.3" stroke="#000" stroke-width="0.7" fill="none"/><line x1="18.5" y1="45.2" x2="18.5" y2="73.2" stroke="#666" stroke-width="0.6"/><rect x="41.2" y="17" width="36" height="18.6" fill="none" stroke="#000" stroke-width="1.1"/><line x1="42.7" y1="17" x2="42.7" y2="35.6" stroke="#000" stroke-width="0.8"/><line x1="42.7" y1="23.4" x2="77.2" y2="23.4" stroke="#000" stroke-width="0.8"/><line x1="42.7" y1="29.3" x2="77.2" y2="29.3" stroke="#000" stroke-width="0.8"/><rect x="77.2" y="17" width="6.9" height="19.4" fill="none" stroke="#000" stroke-width="1.1"/><path d="M 53.4 35.6 V 46 M 66.8 35.6 V 46" stroke="#000" stroke-width="0.9" fill="none"/><rect x="76.6" y="3.7" width="7.5" height="8.7" fill="none" stroke="#000" stroke-width="1.1"/><rect x="3.8" y="75.2" width="50.1" height="35.4" fill="none" stroke="#000" stroke-width="1.1"/><line x1="12.9" y1="75.2" x2="12.9" y2="110.6" stroke="#000" stroke-width="1.1"/><rect x="5" y="77" width="6.7" height="15.3" fill="none" stroke="#000" stroke-width="0.7"/><rect x="5" y="94" width="6.7" height="15" fill="none" stroke="#000" stroke-width="0.7"/><path d="M 12.9 85.6 L 23 76 V 85.6 Z" stroke="#000" stroke-width="0.8" fill="none"/><line x1="0.5" y1="112.2" x2="16" y2="112.2" stroke="#000" stroke-width="0.7"/><rect x="-0.2" y="113.6" width="56" height="2.7" fill="#000"/><rect x="53.5" y="113.6" width="2.3" height="38.4" fill="#000"/><rect x="19.7" y="116" width="2" height="27" fill="#000"/><rect x="1.4" y="116.8" width="18.3" height="26.2" fill="none" stroke="#000" stroke-width="0.8"/><line x1="0.5" y1="143.4" x2="21.7" y2="143.4" stroke="#000" stroke-width="1.4"/><circle cx="11.3" cy="132.4" r="2.4" stroke="#000" stroke-width="0.8" fill="none"/><circle cx="11.3" cy="132.4" r="0.6" fill="#000"/><rect x="26.2" y="131" width="9.1" height="9.6" fill="none" stroke="#000" stroke-width="1" rx="2"/><rect x="27.2" y="140.6" width="7.1" height="3.8" fill="none" stroke="#000" stroke-width="0.8"/><rect x="39.9" y="140" width="10.7" height="10.4" fill="none" stroke="#000" stroke-width="1" rx="2"/><line x1="45.2" y1="144" x2="45.2" y2="150.4" stroke="#000" stroke-width="1.6"/><rect x="3" y="145.3" width="15.3" height="6.3" fill="#555"/><rect x="4.2" y="146.5" width="12.9" height="3.9" fill="#bbb"/><path d="M 5 148.5 H 16.5 M 8 146.5 V 150.4 M 12 146.5 V 150.4" stroke="#444" stroke-width="0.6" fill="none"/><rect x="24" y="144.4" width="13.5" height="7.2" fill="#fff" stroke="#000" stroke-width="0.9"/><rect x="25.5" y="146" width="5.5" height="4.5" fill="#777"/><path d="M 32 150.5 Q 36 148 32 145.5" stroke="#000" stroke-width="0.9" fill="none"/><rect x="26" y="117.4" width="24" height="1.4" fill="#999"/><circle cx="22.5" cy="144.8" r="1.3" fill="#000"/><circle cx="37.5" cy="143.8" r="1.1" fill="#000"/><path d="M 55.8 119.8 A 19.5 19.5 0 0 1 75.3 139.3 H 55.8" stroke="#000" stroke-width="0.8" fill="none"/><line x1="81" y1="131.5" x2="81" y2="152" stroke="#000" stroke-width="1"/><path d="M 81 131.5 A 20.5 20.5 0 0 0 60.5 152" stroke="#000" stroke-width="0.8" fill="none"/><line x1="60.5" y1="152.6" x2="81" y2="152.6" stroke="#000" stroke-width="0.6"/><rect x="-0.5" y="152" width="61" height="3.8" fill="#000"/><rect x="81" y="152" width="3.9" height="3.8" fill="#000"/><path d="M 1 155.8 L 18 155.8 L 1 159.6 Z" stroke="#000" stroke-width="0.6" fill="#bbb"/></g><g transform="translate(1290,701)"><line x1="15.3" y1="0" x2="15.3" y2="73" stroke="#000" stroke-width="1.1"/><rect x="1" y="4" width="13.2" height="8.4" fill="none" stroke="#000" stroke-width="0.9"/><circle cx="4.4" cy="8.3" r="2.5" stroke="#000" stroke-width="0.9" fill="none"/><circle cx="4.4" cy="8.3" r="0.5" fill="#000"/><circle cx="11.4" cy="8.3" r="2.3" stroke="#000" stroke-width="0.9" fill="none"/><path d="M 6.5 4.5 L 10 12 M 10 4.5 L 6.5 12" stroke="#000" stroke-width="0.7" fill="none"/><line x1="0" y1="13.6" x2="15.3" y2="13.6" stroke="#000" stroke-width="1.1"/><line x1="0" y1="15.6" x2="15.3" y2="15.6" stroke="#000" stroke-width="0.7"/><line x1="12.2" y1="16" x2="14.6" y2="31" stroke="#000" stroke-width="0.6"/><line x1="14.6" y1="16" x2="12.2" y2="31" stroke="#000" stroke-width="0.6"/><line x1="0" y1="31.6" x2="15.3" y2="31.6" stroke="#000" stroke-width="1.1"/><rect x="2.2" y="33.2" width="11.4" height="11" fill="none" stroke="#000" stroke-width="0.9"/><line x1="12.2" y1="33.5" x2="14.6" y2="44" stroke="#000" stroke-width="0.6"/><circle cx="2.2" cy="38.7" r="1.2" fill="#000"/><line x1="2.2" y1="38.7" x2="6" y2="38.7" stroke="#000" stroke-width="0.9"/><line x1="0" y1="45.2" x2="15.3" y2="45.2" stroke="#000" stroke-width="1.1"/><line x1="15.3" y1="54.4" x2="18.5" y2="54.4" stroke="#000" stroke-width="1.1"/><line x1="0" y1="63.4" x2="18.5" y2="63.4" stroke="#000" stroke-width="1.1"/><line x1="0" y1="73.2" x2="15.3" y2="73.2" stroke="#000" stroke-width="1.1"/><path d="M 15.3 16.4 H 29.8 A 14.5 14.5 0 0 1 15.3 30.9" stroke="#000" stroke-width="0.7" fill="none"/><path d="M 15.3 32 A 12.5 12.5 0 0 1 27.8 44.5 H 15.3" stroke="#000" stroke-width="0.7" fill="none"/><line x1="18.5" y1="45.2" x2="18.5" y2="73.2" stroke="#666" stroke-width="0.6"/><rect x="41.3" y="17" width="36" height="18.6" fill="none" stroke="#000" stroke-width="1.1"/><line x1="42.8" y1="17" x2="42.8" y2="35.6" stroke="#000" stroke-width="0.8"/><line x1="42.8" y1="23.4" x2="77.3" y2="23.4" stroke="#000" stroke-width="0.8"/><line x1="42.8" y1="29.3" x2="77.3" y2="29.3" stroke="#000" stroke-width="0.8"/><rect x="77.3" y="17" width="6.9" height="19.4" fill="none" stroke="#000" stroke-width="1.1"/><path d="M 53.5 35.6 V 46 M 66.9 35.6 V 46" stroke="#000" stroke-width="0.9" fill="none"/><rect x="76.7" y="3.7" width="7.5" height="8.7" fill="none" stroke="#000" stroke-width="1.1"/><rect x="3.8" y="75.2" width="50.1" height="35.4" fill="none" stroke="#000" stroke-width="1.1"/><line x1="12.9" y1="75.2" x2="12.9" y2="110.6" stroke="#000" stroke-width="1.1"/><rect x="5" y="77" width="6.7" height="15.3" fill="none" stroke="#000" stroke-width="0.7"/><rect x="5" y="94" width="6.7" height="15" fill="none" stroke="#000" stroke-width="0.7"/><path d="M 12.9 85.6 L 23 76 V 85.6 Z" stroke="#000" stroke-width="0.8" fill="none"/><line x1="0.5" y1="112.2" x2="16" y2="112.2" stroke="#000" stroke-width="0.7"/><rect x="-0.2" y="113.6" width="56" height="2.7" fill="#000"/><rect x="53.5" y="113.6" width="2.3" height="38.4" fill="#000"/><rect x="19.7" y="116" width="2" height="27" fill="#000"/><rect x="1.4" y="116.8" width="18.3" height="26.2" fill="none" stroke="#000" stroke-width="0.8"/><line x1="0.5" y1="143.4" x2="21.7" y2="143.4" stroke="#000" stroke-width="1.4"/><circle cx="11.3" cy="132.4" r="2.4" stroke="#000" stroke-width="0.8" fill="none"/><circle cx="11.3" cy="132.4" r="0.6" fill="#000"/><rect x="26.2" y="131" width="9.1" height="9.6" fill="none" stroke="#000" stroke-width="1" rx="2"/><rect x="27.2" y="140.6" width="7.1" height="3.8" fill="none" stroke="#000" stroke-width="0.8"/><rect x="39.9" y="140" width="10.7" height="10.4" fill="none" stroke="#000" stroke-width="1" rx="2"/><line x1="45.2" y1="144" x2="45.2" y2="150.4" stroke="#000" stroke-width="1.6"/><rect x="3" y="145.3" width="15.3" height="6.3" fill="#555"/><rect x="4.2" y="146.5" width="12.9" height="3.9" fill="#bbb"/><path d="M 5 148.5 H 16.5 M 8 146.5 V 150.4 M 12 146.5 V 150.4" stroke="#444" stroke-width="0.6" fill="none"/><rect x="24" y="144.4" width="13.5" height="7.2" fill="#fff" stroke="#000" stroke-width="0.9"/><rect x="25.5" y="146" width="5.5" height="4.5" fill="#777"/><path d="M 32 150.5 Q 36 148 32 145.5" stroke="#000" stroke-width="0.9" fill="none"/><rect x="26" y="117.4" width="24" height="1.4" fill="#999"/><circle cx="22.5" cy="144.8" r="1.3" fill="#000"/><circle cx="37.5" cy="143.8" r="1.1" fill="#000"/><path d="M 55.8 119.8 A 19.5 19.5 0 0 1 75.3 139.3 H 55.8" stroke="#000" stroke-width="0.8" fill="none"/><line x1="81.1" y1="131.5" x2="81.1" y2="152" stroke="#000" stroke-width="1"/><path d="M 81.1 131.5 A 20.5 20.5 0 0 0 60.6 152" stroke="#000" stroke-width="0.8" fill="none"/><line x1="60.6" y1="152.6" x2="81.1" y2="152.6" stroke="#000" stroke-width="0.6"/><rect x="-0.5" y="152" width="61.1" height="3.8" fill="#000"/><rect x="81.1" y="152" width="3.9" height="3.8" fill="#000"/><path d="M 1 155.8 L 18 155.8 L 1 159.6 Z" stroke="#000" stroke-width="0.6" fill="#bbb"/></g><g transform="translate(1582.8,701) scale(-1,1)"><line x1="15.3" y1="0" x2="15.3" y2="73" stroke="#000" stroke-width="1.1"/><rect x="1" y="4" width="13.2" height="8.4" fill="none" stroke="#000" stroke-width="0.9"/><circle cx="4.4" cy="8.3" r="2.5" stroke="#000" stroke-width="0.9" fill="none"/><circle cx="4.4" cy="8.3" r="0.5" fill="#000"/><circle cx="11.4" cy="8.3" r="2.3" stroke="#000" stroke-width="0.9" fill="none"/><path d="M 6.5 4.5 L 10 12 M 10 4.5 L 6.5 12" stroke="#000" stroke-width="0.7" fill="none"/><line x1="0" y1="13.6" x2="15.3" y2="13.6" stroke="#000" stroke-width="1.1"/><line x1="0" y1="15.6" x2="15.3" y2="15.6" stroke="#000" stroke-width="0.7"/><line x1="12.2" y1="16" x2="14.6" y2="31" stroke="#000" stroke-width="0.6"/><line x1="14.6" y1="16" x2="12.2" y2="31" stroke="#000" stroke-width="0.6"/><line x1="0" y1="31.6" x2="15.3" y2="31.6" stroke="#000" stroke-width="1.1"/><rect x="2.2" y="33.2" width="11.4" height="11" fill="none" stroke="#000" stroke-width="0.9"/><line x1="12.2" y1="33.5" x2="14.6" y2="44" stroke="#000" stroke-width="0.6"/><circle cx="2.2" cy="38.7" r="1.2" fill="#000"/><line x1="2.2" y1="38.7" x2="6" y2="38.7" stroke="#000" stroke-width="0.9"/><line x1="0" y1="45.2" x2="15.3" y2="45.2" stroke="#000" stroke-width="1.1"/><line x1="15.3" y1="54.4" x2="18.5" y2="54.4" stroke="#000" stroke-width="1.1"/><line x1="0" y1="63.4" x2="18.5" y2="63.4" stroke="#000" stroke-width="1.1"/><line x1="0" y1="73.2" x2="15.3" y2="73.2" stroke="#000" stroke-width="1.1"/><path d="M 15.3 16.4 H 29.8 A 14.5 14.5 0 0 1 15.3 30.9" stroke="#000" stroke-width="0.7" fill="none"/><path d="M 15.3 32 A 12.5 12.5 0 0 1 27.8 44.5 H 15.3" stroke="#000" stroke-width="0.7" fill="none"/><line x1="18.5" y1="45.2" x2="18.5" y2="73.2" stroke="#666" stroke-width="0.6"/><rect x="40.6" y="17" width="36" height="18.6" fill="none" stroke="#000" stroke-width="1.1"/><line x1="42.1" y1="17" x2="42.1" y2="35.6" stroke="#000" stroke-width="0.8"/><line x1="42.1" y1="23.4" x2="76.6" y2="23.4" stroke="#000" stroke-width="0.8"/><line x1="42.1" y1="29.3" x2="76.6" y2="29.3" stroke="#000" stroke-width="0.8"/><rect x="76.6" y="17" width="6.9" height="19.4" fill="none" stroke="#000" stroke-width="1.1"/><path d="M 52.8 35.6 V 46 M 66.2 35.6 V 46" stroke="#000" stroke-width="0.9" fill="none"/><rect x="76" y="3.7" width="7.5" height="8.7" fill="none" stroke="#000" stroke-width="1.1"/><rect x="3.8" y="75.2" width="50.1" height="35.4" fill="none" stroke="#000" stroke-width="1.1"/><line x1="12.9" y1="75.2" x2="12.9" y2="110.6" stroke="#000" stroke-width="1.1"/><rect x="5" y="77" width="6.7" height="15.3" fill="none" stroke="#000" stroke-width="0.7"/><rect x="5" y="94" width="6.7" height="15" fill="none" stroke="#000" stroke-width="0.7"/><path d="M 12.9 85.6 L 23 76 V 85.6 Z" stroke="#000" stroke-width="0.8" fill="none"/><line x1="0.5" y1="112.2" x2="16" y2="112.2" stroke="#000" stroke-width="0.7"/><rect x="-0.2" y="113.6" width="56" height="2.7" fill="#000"/><rect x="53.5" y="113.6" width="2.3" height="38.4" fill="#000"/><rect x="19.7" y="116" width="2" height="27" fill="#000"/><rect x="1.4" y="116.8" width="18.3" height="26.2" fill="none" stroke="#000" stroke-width="0.8"/><line x1="0.5" y1="143.4" x2="21.7" y2="143.4" stroke="#000" stroke-width="1.4"/><circle cx="11.3" cy="132.4" r="2.4" stroke="#000" stroke-width="0.8" fill="none"/><circle cx="11.3" cy="132.4" r="0.6" fill="#000"/><rect x="26.2" y="131" width="9.1" height="9.6" fill="none" stroke="#000" stroke-width="1" rx="2"/><rect x="27.2" y="140.6" width="7.1" height="3.8" fill="none" stroke="#000" stroke-width="0.8"/><rect x="39.9" y="140" width="10.7" height="10.4" fill="none" stroke="#000" stroke-width="1" rx="2"/><line x1="45.2" y1="144" x2="45.2" y2="150.4" stroke="#000" stroke-width="1.6"/><rect x="3" y="145.3" width="15.3" height="6.3" fill="#555"/><rect x="4.2" y="146.5" width="12.9" height="3.9" fill="#bbb"/><path d="M 5 148.5 H 16.5 M 8 146.5 V 150.4 M 12 146.5 V 150.4" stroke="#444" stroke-width="0.6" fill="none"/><rect x="24" y="144.4" width="13.5" height="7.2" fill="#fff" stroke="#000" stroke-width="0.9"/><rect x="25.5" y="146" width="5.5" height="4.5" fill="#777"/><path d="M 32 150.5 Q 36 148 32 145.5" stroke="#000" stroke-width="0.9" fill="none"/><rect x="26" y="117.4" width="24" height="1.4" fill="#999"/><circle cx="22.5" cy="144.8" r="1.3" fill="#000"/><circle cx="37.5" cy="143.8" r="1.1" fill="#000"/><path d="M 55.8 119.8 A 19.5 19.5 0 0 1 75.3 139.3 H 55.8" stroke="#000" stroke-width="0.8" fill="none"/><line x1="80.4" y1="131.5" x2="80.4" y2="152" stroke="#000" stroke-width="1"/><path d="M 80.4 131.5 A 20.5 20.5 0 0 0 59.9 152" stroke="#000" stroke-width="0.8" fill="none"/><line x1="59.9" y1="152.6" x2="80.4" y2="152.6" stroke="#000" stroke-width="0.6"/><rect x="-0.5" y="152" width="60.4" height="3.8" fill="#000"/><rect x="80.4" y="152" width="3.9" height="3.8" fill="#000"/><path d="M 1 155.8 L 18 155.8 L 1 159.6 Z" stroke="#000" stroke-width="0.6" fill="#bbb"/></g><g transform="translate(1587.8,701)"><line x1="15.3" y1="0" x2="15.3" y2="73" stroke="#000" stroke-width="1.1"/><rect x="1" y="4" width="13.2" height="8.4" fill="none" stroke="#000" stroke-width="0.9"/><circle cx="4.4" cy="8.3" r="2.5" stroke="#000" stroke-width="0.9" fill="none"/><circle cx="4.4" cy="8.3" r="0.5" fill="#000"/><circle cx="11.4" cy="8.3" r="2.3" stroke="#000" stroke-width="0.9" fill="none"/><path d="M 6.5 4.5 L 10 12 M 10 4.5 L 6.5 12" stroke="#000" stroke-width="0.7" fill="none"/><line x1="0" y1="13.6" x2="15.3" y2="13.6" stroke="#000" stroke-width="1.1"/><line x1="0" y1="15.6" x2="15.3" y2="15.6" stroke="#000" stroke-width="0.7"/><line x1="12.2" y1="16" x2="14.6" y2="31" stroke="#000" stroke-width="0.6"/><line x1="14.6" y1="16" x2="12.2" y2="31" stroke="#000" stroke-width="0.6"/><line x1="0" y1="31.6" x2="15.3" y2="31.6" stroke="#000" stroke-width="1.1"/><rect x="2.2" y="33.2" width="11.4" height="11" fill="none" stroke="#000" stroke-width="0.9"/><line x1="12.2" y1="33.5" x2="14.6" y2="44" stroke="#000" stroke-width="0.6"/><circle cx="2.2" cy="38.7" r="1.2" fill="#000"/><line x1="2.2" y1="38.7" x2="6" y2="38.7" stroke="#000" stroke-width="0.9"/><line x1="0" y1="45.2" x2="15.3" y2="45.2" stroke="#000" stroke-width="1.1"/><line x1="15.3" y1="54.4" x2="18.5" y2="54.4" stroke="#000" stroke-width="1.1"/><line x1="0" y1="63.4" x2="18.5" y2="63.4" stroke="#000" stroke-width="1.1"/><line x1="0" y1="73.2" x2="15.3" y2="73.2" stroke="#000" stroke-width="1.1"/><path d="M 15.3 16.4 H 29.8 A 14.5 14.5 0 0 1 15.3 30.9" stroke="#000" stroke-width="0.7" fill="none"/><path d="M 15.3 32 A 12.5 12.5 0 0 1 27.8 44.5 H 15.3" stroke="#000" stroke-width="0.7" fill="none"/><line x1="18.5" y1="45.2" x2="18.5" y2="73.2" stroke="#666" stroke-width="0.6"/><rect x="40.2" y="17" width="36" height="18.6" fill="none" stroke="#000" stroke-width="1.1"/><line x1="41.7" y1="17" x2="41.7" y2="35.6" stroke="#000" stroke-width="0.8"/><line x1="41.7" y1="23.4" x2="76.2" y2="23.4" stroke="#000" stroke-width="0.8"/><line x1="41.7" y1="29.3" x2="76.2" y2="29.3" stroke="#000" stroke-width="0.8"/><rect x="76.2" y="17" width="6.9" height="19.4" fill="none" stroke="#000" stroke-width="1.1"/><path d="M 52.4 35.6 V 46 M 65.8 35.6 V 46" stroke="#000" stroke-width="0.9" fill="none"/><rect x="75.6" y="3.7" width="7.5" height="8.7" fill="none" stroke="#000" stroke-width="1.1"/><rect x="3.8" y="75.2" width="50.1" height="35.4" fill="none" stroke="#000" stroke-width="1.1"/><line x1="12.9" y1="75.2" x2="12.9" y2="110.6" stroke="#000" stroke-width="1.1"/><rect x="5" y="77" width="6.7" height="15.3" fill="none" stroke="#000" stroke-width="0.7"/><rect x="5" y="94" width="6.7" height="15" fill="none" stroke="#000" stroke-width="0.7"/><path d="M 12.9 85.6 L 23 76 V 85.6 Z" stroke="#000" stroke-width="0.8" fill="none"/><line x1="0.5" y1="112.2" x2="16" y2="112.2" stroke="#000" stroke-width="0.7"/><rect x="-0.2" y="113.6" width="56" height="2.7" fill="#000"/><rect x="53.5" y="113.6" width="2.3" height="38.4" fill="#000"/><rect x="19.7" y="116" width="2" height="27" fill="#000"/><rect x="1.4" y="116.8" width="18.3" height="26.2" fill="none" stroke="#000" stroke-width="0.8"/><line x1="0.5" y1="143.4" x2="21.7" y2="143.4" stroke="#000" stroke-width="1.4"/><circle cx="11.3" cy="132.4" r="2.4" stroke="#000" stroke-width="0.8" fill="none"/><circle cx="11.3" cy="132.4" r="0.6" fill="#000"/><rect x="26.2" y="131" width="9.1" height="9.6" fill="none" stroke="#000" stroke-width="1" rx="2"/><rect x="27.2" y="140.6" width="7.1" height="3.8" fill="none" stroke="#000" stroke-width="0.8"/><rect x="39.9" y="140" width="10.7" height="10.4" fill="none" stroke="#000" stroke-width="1" rx="2"/><line x1="45.2" y1="144" x2="45.2" y2="150.4" stroke="#000" stroke-width="1.6"/><rect x="3" y="145.3" width="15.3" height="6.3" fill="#555"/><rect x="4.2" y="146.5" width="12.9" height="3.9" fill="#bbb"/><path d="M 5 148.5 H 16.5 M 8 146.5 V 150.4 M 12 146.5 V 150.4" stroke="#444" stroke-width="0.6" fill="none"/><rect x="24" y="144.4" width="13.5" height="7.2" fill="#fff" stroke="#000" stroke-width="0.9"/><rect x="25.5" y="146" width="5.5" height="4.5" fill="#777"/><path d="M 32 150.5 Q 36 148 32 145.5" stroke="#000" stroke-width="0.9" fill="none"/><rect x="26" y="117.4" width="24" height="1.4" fill="#999"/><circle cx="22.5" cy="144.8" r="1.3" fill="#000"/><circle cx="37.5" cy="143.8" r="1.1" fill="#000"/><path d="M 55.8 119.8 A 19.5 19.5 0 0 1 75.3 139.3 H 55.8" stroke="#000" stroke-width="0.8" fill="none"/><line x1="80" y1="131.5" x2="80" y2="152" stroke="#000" stroke-width="1"/><path d="M 80 131.5 A 20.5 20.5 0 0 0 59.5 152" stroke="#000" stroke-width="0.8" fill="none"/><line x1="59.5" y1="152.6" x2="80" y2="152.6" stroke="#000" stroke-width="0.6"/><rect x="-0.5" y="152" width="60" height="3.8" fill="#000"/><rect x="80" y="152" width="3.9" height="3.8" fill="#000"/><path d="M 1 155.8 L 18 155.8 L 1 159.6 Z" stroke="#000" stroke-width="0.6" fill="#bbb"/></g><g transform="translate(1681.6,701)"><line x1="15.3" y1="0" x2="15.3" y2="73" stroke="#000" stroke-width="1.1"/><rect x="1" y="4" width="13.2" height="8.4" fill="none" stroke="#000" stroke-width="0.9"/><circle cx="4.4" cy="8.3" r="2.5" stroke="#000" stroke-width="0.9" fill="none"/><circle cx="4.4" cy="8.3" r="0.5" fill="#000"/><circle cx="11.4" cy="8.3" r="2.3" stroke="#000" stroke-width="0.9" fill="none"/><path d="M 6.5 4.5 L 10 12 M 10 4.5 L 6.5 12" stroke="#000" stroke-width="0.7" fill="none"/><line x1="0" y1="13.6" x2="15.3" y2="13.6" stroke="#000" stroke-width="1.1"/><line x1="0" y1="15.6" x2="15.3" y2="15.6" stroke="#000" stroke-width="0.7"/><line x1="12.2" y1="16" x2="14.6" y2="31" stroke="#000" stroke-width="0.6"/><line x1="14.6" y1="16" x2="12.2" y2="31" stroke="#000" stroke-width="0.6"/><line x1="0" y1="31.6" x2="15.3" y2="31.6" stroke="#000" stroke-width="1.1"/><rect x="2.2" y="33.2" width="11.4" height="11" fill="none" stroke="#000" stroke-width="0.9"/><line x1="12.2" y1="33.5" x2="14.6" y2="44" stroke="#000" stroke-width="0.6"/><circle cx="2.2" cy="38.7" r="1.2" fill="#000"/><line x1="2.2" y1="38.7" x2="6" y2="38.7" stroke="#000" stroke-width="0.9"/><line x1="0" y1="45.2" x2="15.3" y2="45.2" stroke="#000" stroke-width="1.1"/><line x1="15.3" y1="54.4" x2="18.5" y2="54.4" stroke="#000" stroke-width="1.1"/><line x1="0" y1="63.4" x2="18.5" y2="63.4" stroke="#000" stroke-width="1.1"/><line x1="0" y1="73.2" x2="15.3" y2="73.2" stroke="#000" stroke-width="1.1"/><path d="M 15.3 16.4 H 29.8 A 14.5 14.5 0 0 1 15.3 30.9" stroke="#000" stroke-width="0.7" fill="none"/><path d="M 15.3 32 A 12.5 12.5 0 0 1 27.8 44.5 H 15.3" stroke="#000" stroke-width="0.7" fill="none"/><line x1="18.5" y1="45.2" x2="18.5" y2="73.2" stroke="#666" stroke-width="0.6"/><rect x="41.2" y="17" width="36" height="18.6" fill="none" stroke="#000" stroke-width="1.1"/><line x1="42.7" y1="17" x2="42.7" y2="35.6" stroke="#000" stroke-width="0.8"/><line x1="42.7" y1="23.4" x2="77.2" y2="23.4" stroke="#000" stroke-width="0.8"/><line x1="42.7" y1="29.3" x2="77.2" y2="29.3" stroke="#000" stroke-width="0.8"/><rect x="77.2" y="17" width="6.9" height="19.4" fill="none" stroke="#000" stroke-width="1.1"/><path d="M 53.4 35.6 V 46 M 66.8 35.6 V 46" stroke="#000" stroke-width="0.9" fill="none"/><rect x="76.6" y="3.7" width="7.5" height="8.7" fill="none" stroke="#000" stroke-width="1.1"/><rect x="3.8" y="75.2" width="50.1" height="35.4" fill="none" stroke="#000" stroke-width="1.1"/><line x1="12.9" y1="75.2" x2="12.9" y2="110.6" stroke="#000" stroke-width="1.1"/><rect x="5" y="77" width="6.7" height="15.3" fill="none" stroke="#000" stroke-width="0.7"/><rect x="5" y="94" width="6.7" height="15" fill="none" stroke="#000" stroke-width="0.7"/><path d="M 12.9 85.6 L 23 76 V 85.6 Z" stroke="#000" stroke-width="0.8" fill="none"/><line x1="0.5" y1="112.2" x2="16" y2="112.2" stroke="#000" stroke-width="0.7"/><rect x="-0.2" y="113.6" width="56" height="2.7" fill="#000"/><rect x="53.5" y="113.6" width="2.3" height="38.4" fill="#000"/><rect x="19.7" y="116" width="2" height="27" fill="#000"/><rect x="1.4" y="116.8" width="18.3" height="26.2" fill="none" stroke="#000" stroke-width="0.8"/><line x1="0.5" y1="143.4" x2="21.7" y2="143.4" stroke="#000" stroke-width="1.4"/><circle cx="11.3" cy="132.4" r="2.4" stroke="#000" stroke-width="0.8" fill="none"/><circle cx="11.3" cy="132.4" r="0.6" fill="#000"/><rect x="26.2" y="131" width="9.1" height="9.6" fill="none" stroke="#000" stroke-width="1" rx="2"/><rect x="27.2" y="140.6" width="7.1" height="3.8" fill="none" stroke="#000" stroke-width="0.8"/><rect x="39.9" y="140" width="10.7" height="10.4" fill="none" stroke="#000" stroke-width="1" rx="2"/><line x1="45.2" y1="144" x2="45.2" y2="150.4" stroke="#000" stroke-width="1.6"/><rect x="3" y="145.3" width="15.3" height="6.3" fill="#555"/><rect x="4.2" y="146.5" width="12.9" height="3.9" fill="#bbb"/><path d="M 5 148.5 H 16.5 M 8 146.5 V 150.4 M 12 146.5 V 150.4" stroke="#444" stroke-width="0.6" fill="none"/><rect x="24" y="144.4" width="13.5" height="7.2" fill="#fff" stroke="#000" stroke-width="0.9"/><rect x="25.5" y="146" width="5.5" height="4.5" fill="#777"/><path d="M 32 150.5 Q 36 148 32 145.5" stroke="#000" stroke-width="0.9" fill="none"/><rect x="26" y="117.4" width="24" height="1.4" fill="#999"/><circle cx="22.5" cy="144.8" r="1.3" fill="#000"/><circle cx="37.5" cy="143.8" r="1.1" fill="#000"/><path d="M 55.8 119.8 A 19.5 19.5 0 0 1 75.3 139.3 H 55.8" stroke="#000" stroke-width="0.8" fill="none"/><line x1="81" y1="131.5" x2="81" y2="152" stroke="#000" stroke-width="1"/><path d="M 81 131.5 A 20.5 20.5 0 0 0 60.5 152" stroke="#000" stroke-width="0.8" fill="none"/><line x1="60.5" y1="152.6" x2="81" y2="152.6" stroke="#000" stroke-width="0.6"/><rect x="-0.5" y="152" width="61" height="3.8" fill="#000"/><rect x="81" y="152" width="3.9" height="3.8" fill="#000"/><path d="M 1 155.8 L 18 155.8 L 1 159.6 Z" stroke="#000" stroke-width="0.6" fill="#bbb"/></g><rect x="176.5" y="700" width="62" height="3.2" fill="#000"/><g transform="translate(176.7,703.5) scale(1,1.24)"><line x1="15.3" y1="0" x2="15.3" y2="45.2" stroke="#000" stroke-width="1.1"/><rect x="1" y="4" width="13.2" height="8.4" fill="none" stroke="#000" stroke-width="0.9"/><circle cx="4.4" cy="8.3" r="2.5" stroke="#000" stroke-width="0.9" fill="none"/><circle cx="4.4" cy="8.3" r="0.5" fill="#000"/><circle cx="11.4" cy="8.3" r="2.3" stroke="#000" stroke-width="0.9" fill="none"/><path d="M 6.5 4.5 L 10 12 M 10 4.5 L 6.5 12" stroke="#000" stroke-width="0.7" fill="none"/><line x1="0" y1="13.6" x2="15.3" y2="13.6" stroke="#000" stroke-width="1.1"/><line x1="0" y1="15.6" x2="15.3" y2="15.6" stroke="#000" stroke-width="0.7"/><line x1="12.2" y1="16" x2="14.6" y2="31" stroke="#000" stroke-width="0.6"/><line x1="14.6" y1="16" x2="12.2" y2="31" stroke="#000" stroke-width="0.6"/><line x1="0" y1="31.6" x2="15.3" y2="31.6" stroke="#000" stroke-width="1.1"/><rect x="2.2" y="33.2" width="11.4" height="11" fill="none" stroke="#000" stroke-width="0.9"/><line x1="12.2" y1="33.5" x2="14.6" y2="44" stroke="#000" stroke-width="0.6"/><circle cx="2.2" cy="38.7" r="1.2" fill="#000"/><line x1="2.2" y1="38.7" x2="6" y2="38.7" stroke="#000" stroke-width="0.9"/><line x1="0" y1="45.2" x2="15.3" y2="45.2" stroke="#000" stroke-width="1.1"/></g><path d="M 176.7 759.5 H 201.6 A 10 10 0 0 1 191.8 769.5 V 759.5" stroke="#000" stroke-width="0.8" fill="none"/><line x1="178.2" y1="769.5" x2="178.2" y2="806" stroke="#000" stroke-width="0.8"/><rect x="220.9" y="703.1" width="17.6" height="42.9" fill="none" stroke="#000" stroke-width="1.1"/><rect x="212" y="722.8" width="8.9" height="14.2" fill="none" stroke="#000" stroke-width="1.1"/><line x1="214" y1="724" x2="214" y2="736" stroke="#000" stroke-width="0.6"/><rect x="238.5" y="722.8" width="8.3" height="14.2" fill="none" stroke="#000" stroke-width="1.1"/><line x1="244.8" y1="724" x2="244.8" y2="736" stroke="#000" stroke-width="0.6"/><rect x="210.7" y="703.2" width="9.5" height="7.4" fill="none" stroke="#000" stroke-width="1.1"/><line x1="220.9" y1="710.6" x2="238.5" y2="710.6" stroke="#000" stroke-width="0.7"/><rect x="263.6" y="751.3" width="39.4" height="50.9" fill="none" stroke="#000" stroke-width="1.1"/><rect x="265.5" y="792.7" width="17" height="8.5" fill="none" stroke="#000" stroke-width="0.7"/><rect x="284" y="792.7" width="17" height="8.5" fill="none" stroke="#000" stroke-width="0.7"/><line x1="263.6" y1="791.8" x2="303" y2="791.8" stroke="#000" stroke-width="0.8"/><path d="M 265 781.5 H 274 V 791.8 Z" stroke="#000" stroke-width="0.8" fill="none"/><rect x="261" y="803.6" width="51.5" height="5.4" fill="#000"/><line x1="261" y1="802.5" x2="312.5" y2="802.5" stroke="#000" stroke-width="0.6"/><rect x="180.8" y="779.8" width="50.9" height="25.8" fill="none" stroke="#000" stroke-width="1.1"/><rect x="184.5" y="782" width="44.5" height="21.3" fill="none" stroke="#000" stroke-width="0.7"/><path d="M 187 791 L 192 787 L 199 797 L 195 801 Z" stroke="#000" stroke-width="0.8" fill="none"/><path d="M 226 791 L 221 787 L 214 797 L 218 801 Z" stroke="#000" stroke-width="0.8" fill="none"/><path d="M 197 797 Q 207 791 216 797 Q 207 803 197 797 Z" stroke="#000" stroke-width="0.8" fill="none"/><circle cx="206.5" cy="799.5" r="2.2" stroke="#000" stroke-width="0.8" fill="none"/><rect x="176.5" y="806.3" width="54.8" height="2.7" fill="#000"/><rect x="228.8" y="806.3" width="2.5" height="31.2" fill="#000"/><rect x="176.5" y="806.3" width="2.5" height="31.7" fill="#000"/><rect x="195.7" y="809" width="2.1" height="26" fill="#000"/><rect x="180" y="810" width="15.7" height="25.5" fill="none" stroke="#000" stroke-width="0.8"/><circle cx="187.5" cy="826.5" r="2.4" stroke="#000" stroke-width="0.8" fill="none"/><circle cx="187.5" cy="826.5" r="0.6" fill="#000"/><rect x="202" y="823.5" width="8.5" height="9" fill="none" stroke="#000" stroke-width="1" rx="2"/><rect x="215.4" y="832.8" width="10.9" height="12.2" fill="none" stroke="#000" stroke-width="1.1" rx="2"/><line x1="177" y1="836.2" x2="231" y2="836.2" stroke="#000" stroke-width="1.6"/><circle cx="197" cy="834.5" r="1.3" fill="#000"/><rect x="202" y="810" width="22" height="1.3" fill="#999"/><rect x="177.4" y="839.6" width="6.1" height="8.1" fill="#999"/><rect x="199.8" y="846.4" width="23.1" height="6.6" fill="none" stroke="#000" stroke-width="1.3"/><line x1="176.5" y1="838" x2="176.5" y2="853" stroke="#000" stroke-width="1.6"/><rect x="231.2" y="835.6" width="36.4" height="18.2" fill="none" stroke="#000" stroke-width="2.2"/><path d="M 231 813 A 21 21 0 0 1 252 834" stroke="#000" stroke-width="0.8" fill="none"/><line x1="294.2" y1="832.3" x2="294.2" y2="853.5" stroke="#000" stroke-width="1"/><path d="M 294.2 832.3 A 21.5 21.5 0 0 0 272.7 853.8" stroke="#000" stroke-width="0.8" fill="none"/><rect x="298.2" y="811.7" width="14.3" height="41.3" fill="none" stroke="#000" stroke-width="1.1"/><line x1="298.2" y1="832" x2="312.5" y2="832" stroke="#000" stroke-width="1.1"/><rect x="309.8" y="705" width="2.7" height="24" fill="#fff" stroke="#000" stroke-width="0.7"/><rect x="309.8" y="732" width="2.7" height="16.6" fill="#fff" stroke="#000" stroke-width="0.7"/><rect x="176.5" y="853" width="96.2" height="3.8" fill="#000"/><rect x="294.2" y="853" width="18.4" height="3.8" fill="#000"/><path d="M 178 856.8 L 195 856.8 L 178 860.5 Z" stroke="#000" stroke-width="0.6" fill="#bbb"/><path d="M 236 856.8 L 253 856.8 L 236 860.5 Z" stroke="#000" stroke-width="0.6" fill="#bbb"/><g transform="translate(1378.6,701)"><line x1="15.3" y1="0" x2="15.3" y2="45" stroke="#000" stroke-width="1.1"/><rect x="1" y="4" width="13.2" height="8.4" fill="none" stroke="#000" stroke-width="0.9"/><circle cx="4.4" cy="8.3" r="2.5" stroke="#000" stroke-width="0.9" fill="none"/><circle cx="4.4" cy="8.3" r="0.5" fill="#000"/><circle cx="11.4" cy="8.3" r="2.3" stroke="#000" stroke-width="0.9" fill="none"/><path d="M 6.5 4.5 L 10 12 M 10 4.5 L 6.5 12" stroke="#000" stroke-width="0.7" fill="none"/><line x1="0" y1="13.6" x2="15.3" y2="13.6" stroke="#000" stroke-width="1.1"/><line x1="0" y1="15.6" x2="15.3" y2="15.6" stroke="#000" stroke-width="0.7"/><line x1="12.2" y1="16" x2="14.6" y2="31" stroke="#000" stroke-width="0.6"/><line x1="14.6" y1="16" x2="12.2" y2="31" stroke="#000" stroke-width="0.6"/><line x1="0" y1="31.6" x2="15.3" y2="31.6" stroke="#000" stroke-width="1.1"/><rect x="2.2" y="33.2" width="11.4" height="11" fill="none" stroke="#000" stroke-width="0.9"/><line x1="12.2" y1="33.5" x2="14.6" y2="44" stroke="#000" stroke-width="0.6"/><circle cx="2.2" cy="38.7" r="1.2" fill="#000"/><line x1="2.2" y1="38.7" x2="6" y2="38.7" stroke="#000" stroke-width="0.9"/><line x1="0" y1="45.2" x2="15.3" y2="45.2" stroke="#000" stroke-width="1.1"/></g><path d="M 1393.9 716.6 H 1408.5 A 14.6 14.6 0 0 1 1393.9 731" stroke="#000" stroke-width="0.7" fill="none"/><path d="M 1393.9 732.5 A 12 12 0 0 1 1405.9 744.5 H 1393.9" stroke="#000" stroke-width="0.7" fill="none"/><line x1="1378.6" y1="747.3" x2="1410" y2="747.3" stroke="#000" stroke-width="1.1"/><line x1="1378.6" y1="750.8" x2="1410" y2="750.8" stroke="#000" stroke-width="0.7"/><line x1="1378.6" y1="756.6" x2="1410" y2="756.6" stroke="#000" stroke-width="0.7"/><rect x="1383.6" y="750.8" width="7" height="6.9" fill="none" stroke="#000" stroke-width="0.8"/><line x1="1382.4" y1="765" x2="1410" y2="765" stroke="#000" stroke-width="1.1"/><line x1="1382.4" y1="765" x2="1382.4" y2="780" stroke="#000" stroke-width="1.1"/><path d="M 1398.7 765 V 771 Q 1398.7 775.1 1403 775.1 H 1408 Q 1410.8 775.1 1410.8 771" stroke="#000" stroke-width="0.9" fill="none"/><rect x="1435.2" y="714.8" width="51" height="38.9" fill="none" stroke="#000" stroke-width="1.1"/><rect x="1472.9" y="703.2" width="13.3" height="9.3" fill="none" stroke="#000" stroke-width="1.1"/><path d="M 1464.2 703 A 8.7 8.7 0 0 0 1472.9 711.7" stroke="#000" stroke-width="0.7" fill="none"/><rect x="1481.6" y="763.5" width="4.6" height="7" fill="none" stroke="#000" stroke-width="0.8"/><rect x="1473.5" y="781.5" width="12.7" height="20.9" fill="none" stroke="#000" stroke-width="1.1"/><path d="M 1473.5 782 A 9.8 9.8 0 0 0 1463.7 791.8 H 1473.5 M 1473.5 802 A 9.8 9.8 0 0 1 1463.7 792.2" stroke="#000" stroke-width="0.7" fill="none"/><rect x="1484.4" y="812.2" width="2.4" height="11" fill="#fff" stroke="#000" stroke-width="0.7"/><rect x="1378.1" y="779.8" width="67.5" height="3" fill="#000"/><rect x="1442.4" y="779.8" width="3.2" height="41.2" fill="#000"/><line x1="1444.3" y1="821" x2="1444.3" y2="845" stroke="#000" stroke-width="0.8"/><rect x="1442.4" y="845" width="3.2" height="11.8" fill="#000"/><path d="M 1442.7 822.1 A 23 23 0 0 0 1419.7 845.1" stroke="#000" stroke-width="0.8" fill="none"/><rect x="1383" y="821.5" width="3.2" height="26.1" fill="#000"/><rect x="1383" y="844.8" width="28.4" height="3" fill="#000"/><rect x="1379.5" y="786" width="7.1" height="32" fill="none" stroke="#000" stroke-width="0.7"/><rect x="1379.8" y="795.4" width="10.2" height="11.6" fill="none" stroke="#000" stroke-width="1" rx="3"/><circle cx="1384.5" cy="801.2" r="1" fill="#000"/><path d="M 1438.7 787.3 L 1416 791.4 M 1438.7 787.3 L 1417.8 807.6 M 1438.7 787.3 L 1433.5 810" stroke="#000" stroke-width="0.7" fill="none"/><rect x="1437.6" y="786.2" width="2.2" height="2.2" fill="none" stroke="#000" stroke-width="0.6"/><circle cx="1431.1" cy="798.9" r="1.6" stroke="#000" stroke-width="0.7" fill="none"/><rect x="1394.6" y="832" width="9.3" height="8.6" fill="none" stroke="#000" stroke-width="1" rx="2"/><circle cx="1399.2" cy="838.5" r="0.9" fill="#000"/><circle cx="1388.5" cy="841.5" r="1.4" fill="#000"/><rect x="1420" y="779" width="23" height="1" fill="#888"/><rect x="1379.5" y="849" width="27.5" height="6.5" fill="none" stroke="#000" stroke-width="0.7"/><circle cx="1393" cy="852.2" r="2.3" stroke="#000" stroke-width="0.7" fill="none"/><rect x="1411.4" y="847.8" width="15.1" height="7.7" fill="none" stroke="#000" stroke-width="0.7"/><rect x="1426.5" y="847.8" width="15.9" height="7.7" fill="none" stroke="#000" stroke-width="0.7"/><line x1="1485" y1="829.6" x2="1485" y2="856" stroke="#000" stroke-width="1"/><path d="M 1485 829.6 A 24.5 24.5 0 0 0 1460.5 854.1" stroke="#000" stroke-width="0.8" fill="none"/><rect x="1378" y="853" width="82.5" height="3.8" fill="#000"/><rect x="1484.5" y="853" width="2.5" height="3.8" fill="#000"/><path d="M 1388 856.8 L 1405 856.8 L 1388 860.5 Z" stroke="#000" stroke-width="0.6" fill="#bbb"/></g><rect x="1771.3" y="899.8" width="22.5" height="14.2" fill="none" stroke="#000" stroke-width="1.1"/><line x1="1771.3" y1="906.5" x2="1793.8" y2="906.5" stroke="#000" stroke-width="0.7"/><rect x="1771.3" y="934.7" width="22.5" height="15" fill="none" stroke="#000" stroke-width="1.1"/><line x1="1771.3" y1="942" x2="1793.8" y2="942" stroke="#000" stroke-width="0.7"/><rect x="1770.8" y="986.3" width="15.2" height="7.5" fill="#000"/><rect x="1773.3" y="988.5" width="6.7" height="3" fill="#aaa"/><g transform="translate(1770.8,1040) scale(1,-1)"><line x1="15.3" y1="0" x2="15.3" y2="46" stroke="#000" stroke-width="1.1"/><rect x="1" y="4" width="13.2" height="8.4" fill="none" stroke="#000" stroke-width="0.9"/><circle cx="4.4" cy="8.3" r="2.5" stroke="#000" stroke-width="0.9" fill="none"/><circle cx="4.4" cy="8.3" r="0.5" fill="#000"/><circle cx="11.4" cy="8.3" r="2.3" stroke="#000" stroke-width="0.9" fill="none"/><path d="M 6.5 4.5 L 10 12 M 10 4.5 L 6.5 12" stroke="#000" stroke-width="0.7" fill="none"/><line x1="0" y1="13.6" x2="15.3" y2="13.6" stroke="#000" stroke-width="1.1"/><line x1="0" y1="15.6" x2="15.3" y2="15.6" stroke="#000" stroke-width="0.7"/><line x1="12.2" y1="16" x2="14.6" y2="31" stroke="#000" stroke-width="0.6"/><line x1="14.6" y1="16" x2="12.2" y2="31" stroke="#000" stroke-width="0.6"/><line x1="0" y1="31.6" x2="15.3" y2="31.6" stroke="#000" stroke-width="1.1"/><rect x="2.2" y="33.2" width="11.4" height="11" fill="none" stroke="#000" stroke-width="0.9"/><line x1="12.2" y1="33.5" x2="14.6" y2="44" stroke="#000" stroke-width="0.6"/><circle cx="2.2" cy="38.7" r="1.2" fill="#000"/><line x1="2.2" y1="38.7" x2="6" y2="38.7" stroke="#000" stroke-width="0.9"/><line x1="0" y1="45.2" x2="15.3" y2="45.2" stroke="#000" stroke-width="1.1"/></g><rect x="1770.8" y="1040.3" width="51.2" height="11.7" fill="none" stroke="#000" stroke-width="1.1"/><rect x="1801.3" y="1032.8" width="14.1" height="7.5" fill="none" stroke="#000" stroke-width="1.1"/><rect x="1875" y="1000" width="5" height="45" fill="#fff" stroke="#000" stroke-width="0.7"/><rect x="1822" y="899" width="2.4" height="39" fill="#000"/><rect x="1822" y="935.6" width="58.2" height="2.4" fill="#000"/><rect x="1857.8" y="901" width="2" height="34.6" fill="#000"/><rect x="1860.2" y="901" width="15.8" height="33.5" fill="none" stroke="#000" stroke-width="0.8"/><circle cx="1866" cy="919.8" r="2.3" stroke="#000" stroke-width="0.8" fill="none"/><circle cx="1866" cy="919.8" r="0.6" fill="#000"/><rect x="1842.8" y="908" width="8.2" height="10" fill="none" stroke="#000" stroke-width="1" rx="2"/><rect x="1826.2" y="900" width="11.8" height="10" fill="none" stroke="#000" stroke-width="1" rx="2"/><line x1="1823" y1="906" x2="1860" y2="906" stroke="#000" stroke-width="1.2"/><rect x="1828" y="930" width="24" height="1.4" fill="#999"/><path d="M 1822 932.5 A 20 20 0 0 1 1802 912.5 H 1822" stroke="#000" stroke-width="0.8" fill="none"/><path d="M 1798 899.8 A 24 24 0 0 0 1822 923.8" stroke="#000" stroke-width="0.8" fill="none"/><line x1="1797.5" y1="899.5" x2="1797.5" y2="908" stroke="#000" stroke-width="0.8"/><rect x="1826.2" y="942.2" width="39.9" height="51.6" fill="none" stroke="#000" stroke-width="1.1"/><rect x="1829.5" y="944" width="16.7" height="8.5" fill="none" stroke="#000" stroke-width="0.7"/><rect x="1847.5" y="944" width="16.5" height="8.5" fill="none" stroke="#000" stroke-width="0.7"/><path d="M 1856 953.5 L 1866 963.5 V 953.5 Z" stroke="#000" stroke-width="0.8" fill="none"/><rect x="1827.9" y="993.8" width="36.6" height="20.7" fill="none" stroke="#000" stroke-width="1.1"/><line x1="1822" y1="940" x2="1880" y2="940" stroke="#000" stroke-width="0.6"/><rect x="1770.3" y="895.6" width="27.2" height="3.7" fill="#000"/><rect x="1822" y="895.6" width="58.5" height="3.7" fill="#000"/><path d="M 1861 895.6 L 1878 895.6 L 1878 891.9 Z" stroke="#000" stroke-width="0.6" fill="#bbb"/><rect x="860.6" y="895.4" width="83.7" height="157.6" fill="url(#hatch)"/><rect x="859" y="895.4" width="5" height="157.6" fill="#000"/><rect x="859" y="895.4" width="85.3" height="2.2" fill="#000"/><rect x="871" y="904" width="64.6" height="42.1" fill="#fff" stroke="#111" stroke-width="0.9"/><rect x="875" y="908" width="54.8" height="29.4" fill="#fff" stroke="#111" stroke-width="2"/><rect x="933.4" y="907" width="10.9" height="2.2" fill="#000"/><rect x="933.4" y="933.4" width="10.9" height="2.2" fill="#000"/><line x1="935.6" y1="909" x2="935.6" y2="933.4" stroke="#000" stroke-width="0.8"/><line x1="944" y1="909" x2="944" y2="933.4" stroke="#000" stroke-width="0.6"/><rect x="871" y="954.1" width="64.6" height="42.1" fill="#fff" stroke="#111" stroke-width="0.9"/><rect x="875" y="957" width="54.8" height="29.7" fill="#fff" stroke="#111" stroke-width="2"/><rect x="933.4" y="956" width="10.9" height="2.2" fill="#000"/><rect x="933.4" y="982.7" width="10.9" height="2.2" fill="#000"/><line x1="935.6" y1="958" x2="935.6" y2="982.7" stroke="#000" stroke-width="0.8"/><line x1="944" y1="958" x2="944" y2="982.7" stroke="#000" stroke-width="0.6"/><rect x="871" y="1003.4" width="64.6" height="42.1" fill="#fff" stroke="#111" stroke-width="0.9"/><rect x="875" y="1006.3" width="54.8" height="29.7" fill="#fff" stroke="#111" stroke-width="2"/><rect x="933.4" y="1005.3" width="10.9" height="2.2" fill="#000"/><rect x="933.4" y="1032" width="10.9" height="2.2" fill="#000"/><line x1="935.6" y1="1007.3" x2="935.6" y2="1032" stroke="#000" stroke-width="0.8"/><line x1="944" y1="1007.3" x2="944" y2="1032" stroke="#000" stroke-width="0.6"/><rect x="942.3" y="897" width="2" height="10.5" fill="#000"/><rect x="942.3" y="934" width="2" height="22.5" fill="#000"/><rect x="942.3" y="983" width="2" height="22.5" fill="#000"/><rect x="942.3" y="1032" width="2" height="21" fill="#000"/><rect x="995" y="895.4" width="115" height="157.6" fill="url(#hatch)"/><rect x="1005.5" y="898" width="58" height="16" fill="#fff" stroke="#000" stroke-width="0.9"/><line x1="1005.5" y1="908.5" x2="1063.5" y2="908.5" stroke="#000" stroke-width="0.7"/><path d="M 1070 897.5 H 1096 V 925 L 1070 914 Z" stroke="#000" stroke-width="0.8" fill="#fff"/><circle cx="1074" cy="908.5" r="1.8" stroke="#000" stroke-width="0.7" fill="none"/><circle cx="1087.5" cy="912.5" r="3.2" stroke="#000" stroke-width="0.8" fill="none"/><rect x="994" y="925" width="102" height="30.6" fill="#fff"/><rect x="994" y="986" width="4.6" height="46.4" fill="#fff"/><line x1="997.5" y1="986" x2="997.5" y2="1032.4" stroke="#000" stroke-width="0.8"/><path d="M 998.6 925 H 1029.5 M 1029.6 925 A 31 31 0 0 1 998.6 956" stroke="#000" stroke-width="0.8" fill="none"/><path d="M 1060 925 L 1096 940" stroke="#000" stroke-width="0.6" fill="none"/><rect x="998.6" y="955.6" width="30.4" height="90.4" fill="url(#hatch)"/><rect x="1005" y="957" width="10.5" height="9.5" fill="none" stroke="#000" stroke-width="0.8"/><circle cx="1010.2" cy="961.7" r="3" stroke="#000" stroke-width="0.8" fill="none"/><rect x="999.5" y="971" width="26" height="75.5" fill="#fff"/><rect x="999.5" y="971" width="26" height="75.5" fill="none" stroke="#000" stroke-width="0.9"/><line x1="1015.5" y1="971" x2="1015.5" y2="1046.5" stroke="#000" stroke-width="0.7"/><rect x="1029.5" y="955.6" width="67" height="94.9" fill="#fff"/><rect x="1030.5" y="955.6" width="65.5" height="94.9" fill="none" stroke="#000" stroke-width="1.6"/><line x1="1031.5" y1="958.5" x2="1060.3" y2="958.5" stroke="#000" stroke-width="0.8"/><line x1="1066.8" y1="958.5" x2="1095" y2="958.5" stroke="#000" stroke-width="0.8"/><line x1="1031.5" y1="963.8" x2="1060.3" y2="963.8" stroke="#000" stroke-width="0.8"/><line x1="1066.8" y1="963.8" x2="1095" y2="963.8" stroke="#000" stroke-width="0.8"/><line x1="1031.5" y1="969.1" x2="1060.3" y2="969.1" stroke="#000" stroke-width="0.8"/><line x1="1066.8" y1="969.1" x2="1095" y2="969.1" stroke="#000" stroke-width="0.8"/><line x1="1031.5" y1="974.4" x2="1060.3" y2="974.4" stroke="#000" stroke-width="0.8"/><line x1="1066.8" y1="974.4" x2="1095" y2="974.4" stroke="#000" stroke-width="0.8"/><line x1="1031.5" y1="979.7" x2="1060.3" y2="979.7" stroke="#000" stroke-width="0.8"/><line x1="1066.8" y1="979.7" x2="1095" y2="979.7" stroke="#000" stroke-width="0.8"/><line x1="1031.5" y1="985" x2="1060.3" y2="985" stroke="#000" stroke-width="0.8"/><line x1="1066.8" y1="985" x2="1095" y2="985" stroke="#000" stroke-width="0.8"/><line x1="1031.5" y1="990.3" x2="1060.3" y2="990.3" stroke="#000" stroke-width="0.8"/><line x1="1066.8" y1="990.3" x2="1095" y2="990.3" stroke="#000" stroke-width="0.8"/><line x1="1031.5" y1="995.6" x2="1060.3" y2="995.6" stroke="#000" stroke-width="0.8"/><line x1="1066.8" y1="995.6" x2="1095" y2="995.6" stroke="#000" stroke-width="0.8"/><line x1="1031.5" y1="1000.9" x2="1060.3" y2="1000.9" stroke="#000" stroke-width="0.8"/><line x1="1066.8" y1="1000.9" x2="1095" y2="1000.9" stroke="#000" stroke-width="0.8"/><line x1="1031.5" y1="1006.2" x2="1060.3" y2="1006.2" stroke="#000" stroke-width="0.8"/><line x1="1066.8" y1="1006.2" x2="1095" y2="1006.2" stroke="#000" stroke-width="0.8"/><line x1="1031.5" y1="1011.5" x2="1060.3" y2="1011.5" stroke="#000" stroke-width="0.8"/><line x1="1066.8" y1="1011.5" x2="1095" y2="1011.5" stroke="#000" stroke-width="0.8"/><line x1="1031.5" y1="1016.8" x2="1060.3" y2="1016.8" stroke="#000" stroke-width="0.8"/><line x1="1066.8" y1="1016.8" x2="1095" y2="1016.8" stroke="#000" stroke-width="0.8"/><line x1="1046" y1="955.6" x2="1046" y2="1020" stroke="#000" stroke-width="0.6"/><line x1="1080" y1="955.6" x2="1080" y2="1020" stroke="#000" stroke-width="0.6"/><rect x="1060.3" y="954" width="6.5" height="68" fill="#fff" stroke="#111" stroke-width="1"/><line x1="1063.5" y1="955" x2="1063.5" y2="1021" stroke="#000" stroke-width="0.6"/><path d="M 1031 1020 L 1046 1013 L 1060 1020 M 1066.8 1020 L 1080 1013 L 1095 1018" stroke="#000" stroke-width="0.6" fill="none"/><path d="M 1085 1002 L 1082 1010 L 1085 1006 L 1083 1015" stroke="#000" stroke-width="0.8" fill="none"/><path d="M 1032 955 A 33 33 0 0 1 1095 955" stroke="#333" stroke-width="0.7" fill="none" stroke-dasharray="3 2"/><path d="M 1032 1022 A 33 30 0 0 0 1095 1022" stroke="#333" stroke-width="0.7" fill="none" stroke-dasharray="3 2"/><rect x="995" y="895.4" width="3.6" height="29.6" fill="#000"/><rect x="995" y="955.6" width="3.6" height="30.4" fill="#000"/><rect x="995" y="1032.4" width="3.6" height="20.6" fill="#000"/><rect x="995" y="895.4" width="20" height="2.2" fill="#000"/><rect x="1065" y="895.4" width="5" height="2.2" fill="#000"/><rect x="1096" y="895.4" width="14" height="2.2" fill="#000"/><rect x="1105.2" y="895.4" width="4.8" height="157.6" fill="#000"/><line x1="1096.2" y1="925" x2="1096.2" y2="1050.5" stroke="#000" stroke-width="0.8"/><path d="M 1015 896 L 1033 885.5 L 1034.5 887.5 L 1016.5 897.5" stroke="#000" stroke-width="0.8" fill="#ddd"/><path d="M 1065 896 L 1037.5 885.5 L 1036.5 887.5 L 1063.5 897.5" stroke="#000" stroke-width="0.8" fill="#ddd"/><line x1="1035.5" y1="885" x2="1035.5" y2="895" stroke="#000" stroke-width="0.6"/><path d="M 1070.4 891.8 L 1096.5 896 L 1070.4 896 Z" stroke="#000" stroke-width="0.8" fill="#ddd"/><path d="M 995 987 L 985.5 1007.5 L 987 1008.5 L 995 992" stroke="#000" stroke-width="0.8" fill="#ddd"/><path d="M 995 1032 L 985.5 1011 L 987 1010 L 995 1027" stroke="#000" stroke-width="0.8" fill="#ddd"/><line x1="985" y1="1009.3" x2="995" y2="1009.3" stroke="#000" stroke-width="0.6"/><rect x="160" y="684.5" width="1735" height="16.5" fill="#000"/><rect x="160" y="1052.5" width="1735" height="15.7" fill="#000"/><rect x="1880" y="1050" width="16.8" height="18.2" fill="#000"/><rect x="160" y="684.5" width="16.5" height="383.7" fill="#000"/><rect x="1880" y="684.5" width="15" height="383.7" fill="#000"/><rect x="238.5" y="685.9" width="50.9" height="5.3" fill="#fff"/><rect x="238.5" y="693.8" width="50.9" height="5.4" fill="#fff"/><rect x="338.7" y="685.9" width="40" height="5.3" fill="#fff"/><rect x="338.7" y="693.8" width="40" height="5.4" fill="#fff"/><rect x="427.6" y="685.9" width="40.1" height="5.3" fill="#fff"/><rect x="427.6" y="693.8" width="40.1" height="5.4" fill="#fff"/><rect x="517" y="685.9" width="39.8" height="5.3" fill="#fff"/><rect x="517" y="693.8" width="39.8" height="5.4" fill="#fff"/><rect x="618.4" y="685.9" width="50.4" height="5.3" fill="#fff"/><rect x="618.4" y="693.8" width="50.4" height="5.4" fill="#fff"/><rect x="718.4" y="685.9" width="47.2" height="5.3" fill="#fff"/><rect x="718.4" y="693.8" width="47.2" height="5.4" fill="#fff"/><rect x="815.2" y="685.9" width="47.2" height="5.3" fill="#fff"/><rect x="815.2" y="693.8" width="47.2" height="5.4" fill="#fff"/><rect x="911.2" y="685.9" width="47.2" height="5.3" fill="#fff"/><rect x="911.2" y="693.8" width="47.2" height="5.4" fill="#fff"/><rect x="1008" y="685.9" width="67.2" height="5.3" fill="#fff"/><rect x="1008" y="693.8" width="67.2" height="5.4" fill="#fff"/><rect x="1124" y="685.9" width="48" height="5.3" fill="#fff"/><rect x="1124" y="693.8" width="48" height="5.4" fill="#fff"/><rect x="1220.5" y="685.9" width="47.5" height="5.3" fill="#fff"/><rect x="1220.5" y="693.8" width="47.5" height="5.4" fill="#fff"/><rect x="1316.8" y="685.9" width="48" height="5.3" fill="#fff"/><rect x="1316.8" y="693.8" width="48" height="5.4" fill="#fff"/><rect x="1414" y="685.9" width="50.4" height="5.3" fill="#fff"/><rect x="1414" y="693.8" width="50.4" height="5.4" fill="#fff"/><rect x="1526" y="685.9" width="40.5" height="5.3" fill="#fff"/><rect x="1526" y="693.8" width="40.5" height="5.4" fill="#fff"/><rect x="1615.6" y="685.9" width="47.2" height="5.3" fill="#fff"/><rect x="1615.6" y="693.8" width="47.2" height="5.4" fill="#fff"/><rect x="1712.3" y="685.9" width="46.8" height="5.3" fill="#fff"/><rect x="1712.3" y="693.8" width="46.8" height="5.4" fill="#fff"/><rect x="1808.7" y="685.9" width="47.5" height="5.3" fill="#fff"/><rect x="1808.7" y="693.8" width="47.5" height="5.4" fill="#fff"/><rect x="238.9" y="1054.3" width="49.9" height="5.1" fill="#fff"/><rect x="238.9" y="1061.8" width="49.9" height="5.5" fill="#fff"/><rect x="338.4" y="1054.3" width="40.8" height="5.1" fill="#fff"/><rect x="338.4" y="1061.8" width="40.8" height="5.5" fill="#fff"/><rect x="427.2" y="1054.3" width="40.8" height="5.1" fill="#fff"/><rect x="427.2" y="1061.8" width="40.8" height="5.5" fill="#fff"/><rect x="516.8" y="1054.3" width="40.8" height="5.1" fill="#fff"/><rect x="516.8" y="1061.8" width="40.8" height="5.5" fill="#fff"/><rect x="618.4" y="1054.3" width="45.6" height="5.1" fill="#fff"/><rect x="618.4" y="1061.8" width="45.6" height="5.5" fill="#fff"/><rect x="712.8" y="1054.3" width="45.6" height="5.1" fill="#fff"/><rect x="712.8" y="1061.8" width="45.6" height="5.5" fill="#fff"/><rect x="807.2" y="1054.3" width="51.2" height="5.1" fill="#fff"/><rect x="807.2" y="1061.8" width="51.2" height="5.5" fill="#fff"/><rect x="943.6" y="1054.3" width="23.4" height="5.1" fill="#fff"/><rect x="943.6" y="1061.8" width="23.4" height="5.5" fill="#fff"/><rect x="1018" y="1054.3" width="59.7" height="5.1" fill="#fff"/><rect x="1018" y="1061.8" width="59.7" height="5.5" fill="#fff"/><rect x="1127" y="1054.3" width="47.8" height="5.1" fill="#fff"/><rect x="1127" y="1061.8" width="47.8" height="5.5" fill="#fff"/><rect x="1224" y="1054.3" width="47.6" height="5.1" fill="#fff"/><rect x="1224" y="1061.8" width="47.6" height="5.5" fill="#fff"/><rect x="1320.4" y="1054.3" width="48" height="5.1" fill="#fff"/><rect x="1320.4" y="1061.8" width="48" height="5.5" fill="#fff"/><rect x="1416" y="1054.3" width="48.4" height="5.1" fill="#fff"/><rect x="1416" y="1061.8" width="48.4" height="5.5" fill="#fff"/><rect x="1526" y="1054.3" width="40.5" height="5.1" fill="#fff"/><rect x="1526" y="1061.8" width="40.5" height="5.5" fill="#fff"/><rect x="1615.6" y="1054.3" width="47.2" height="5.1" fill="#fff"/><rect x="1615.6" y="1061.8" width="47.2" height="5.5" fill="#fff"/><rect x="1712.4" y="1054.3" width="47.3" height="5.1" fill="#fff"/><rect x="1712.4" y="1061.8" width="47.3" height="5.5" fill="#fff"/><rect x="1808" y="1054.3" width="48" height="5.1" fill="#fff"/><rect x="1808" y="1061.8" width="48" height="5.5" fill="#fff"/><rect x="161.4" y="750.8" width="5.4" height="51.1" fill="#fff"/><rect x="161.4" y="950.5" width="5.4" height="50.7" fill="#fff"/><rect x="161.4" y="850.6" width="5.4" height="50.4" fill="#fff"/><rect x="169.5" y="857" width="7.1" height="38.6" fill="#fff"/><rect x="1880.6" y="751.2" width="14.9" height="50.3" fill="#fff"/><line x1="1880.2" y1="751.2" x2="1880.2" y2="801.5" stroke="#777" stroke-width="0.7"/><line x1="1888.5" y1="751.2" x2="1888.5" y2="801.5" stroke="#000" stroke-width="2.2"/><rect x="1880.6" y="949.5" width="14.9" height="50.3" fill="#fff"/><line x1="1880.2" y1="949.5" x2="1880.2" y2="999.8" stroke="#777" stroke-width="0.7"/><line x1="1888.5" y1="949.5" x2="1888.5" y2="999.8" stroke="#000" stroke-width="2.2"/><rect x="1879.5" y="857" width="16.3" height="38.6" fill="#fff"/><line x1="1880.4" y1="850.4" x2="1880.4" y2="900.7" stroke="#555" stroke-width="0.7"/><line x1="1888.8" y1="850.4" x2="1888.8" y2="900.7" stroke="#000" stroke-width="2"/><rect x="1881.5" y="698" width="7" height="19.7" fill="url(#hatch)"/><rect x="1881.5" y="826.6" width="7" height="15.4" fill="url(#hatch)"/><rect x="1881.5" y="921.6" width="7" height="18.2" fill="url(#hatch)"/><rect x="1881.5" y="1034" width="7" height="19.5" fill="url(#hatch)"/><rect x="907.3" y="1061.8" width="36.3" height="5.5" fill="#fff"/><rect x="202.3" y="696" width="31.2" height="4.6" fill="#fff"/><path d="M 204 698.3 H 232" stroke="#777" stroke-width="0.8" fill="none"/><rect x="202.7" y="1052.6" width="19.1" height="6" fill="#fff"/><path d="M 204 1055.6 H 220.5" stroke="#777" stroke-width="0.8" fill="none"/><rect x="312.5" y="700" width="4.5" height="156.8" fill="#000"/><rect x="495.2" y="700" width="5.6" height="156.8" fill="#000"/><rect x="704.2" y="700" width="5.4" height="156.8" fill="#000"/><rect x="887.2" y="700" width="4.8" height="156.8" fill="#000"/><rect x="1190.5" y="700" width="5" height="156.8" fill="#000"/><rect x="1374.2" y="700" width="4.4" height="156.8" fill="#000"/><rect x="1582.8" y="700" width="5" height="156.8" fill="#000"/><rect x="1766" y="700" width="4.8" height="156.8" fill="#000"/><rect x="401" y="700" width="11" height="156.8" fill="#000"/><rect x="402" y="701" width="9" height="16.7" fill="url(#hatch)"/><rect x="398.7" y="749.3" width="2.3" height="24.1" fill="#fff" stroke="#000" stroke-width="0.8"/><rect x="412" y="749.3" width="2.3" height="24.1" fill="#fff" stroke="#000" stroke-width="0.8"/><rect x="398.7" y="786.3" width="2.3" height="15.6" fill="#fff" stroke="#000" stroke-width="0.8"/><rect x="412" y="786.3" width="2.3" height="15.6" fill="#fff" stroke="#000" stroke-width="0.8"/><rect x="584" y="700" width="11.2" height="156.8" fill="#000"/><rect x="585" y="701" width="9.2" height="18" fill="url(#hatch)"/><rect x="581.7" y="749.3" width="2.3" height="24.1" fill="#fff" stroke="#000" stroke-width="0.8"/><rect x="595.2" y="749.3" width="2.3" height="24.1" fill="#fff" stroke="#000" stroke-width="0.8"/><rect x="581.7" y="786.3" width="2.3" height="15.6" fill="#fff" stroke="#000" stroke-width="0.8"/><rect x="595.2" y="786.3" width="2.3" height="15.6" fill="#fff" stroke="#000" stroke-width="0.8"/><rect x="794" y="700" width="10" height="156.8" fill="#000"/><rect x="795" y="701" width="8" height="20" fill="url(#hatch)"/><rect x="791.7" y="749.3" width="2.3" height="24.1" fill="#fff" stroke="#000" stroke-width="0.8"/><rect x="804" y="749.3" width="2.3" height="24.1" fill="#fff" stroke="#000" stroke-width="0.8"/><rect x="791.7" y="786.3" width="2.3" height="15.6" fill="#fff" stroke="#000" stroke-width="0.8"/><rect x="804" y="786.3" width="2.3" height="15.6" fill="#fff" stroke="#000" stroke-width="0.8"/><rect x="976.5" y="700" width="9.7" height="156.8" fill="#000"/><rect x="977.5" y="701" width="7.7" height="19.8" fill="url(#hatch)"/><rect x="977.5" y="824.8" width="7.7" height="25.8" fill="url(#hatch)"/><rect x="974.2" y="749.3" width="2.3" height="24.1" fill="#fff" stroke="#000" stroke-width="0.8"/><rect x="986.2" y="749.3" width="2.3" height="24.1" fill="#fff" stroke="#000" stroke-width="0.8"/><rect x="974.2" y="786.3" width="2.3" height="15.6" fill="#fff" stroke="#000" stroke-width="0.8"/><rect x="986.2" y="786.3" width="2.3" height="15.6" fill="#fff" stroke="#000" stroke-width="0.8"/><rect x="1096.3" y="700" width="9.9" height="156.8" fill="#000"/><rect x="1097.3" y="701" width="7.9" height="19.8" fill="url(#hatch)"/><rect x="1097.3" y="824.8" width="7.9" height="25.2" fill="url(#hatch)"/><rect x="1094" y="749.3" width="2.3" height="24.1" fill="#fff" stroke="#000" stroke-width="0.8"/><rect x="1106.2" y="749.3" width="2.3" height="24.1" fill="#fff" stroke="#000" stroke-width="0.8"/><rect x="1094" y="786.3" width="2.3" height="15.6" fill="#fff" stroke="#000" stroke-width="0.8"/><rect x="1106.2" y="786.3" width="2.3" height="15.6" fill="#fff" stroke="#000" stroke-width="0.8"/><rect x="1280" y="700" width="9.8" height="156.8" fill="#000"/><rect x="1281" y="701" width="7.8" height="20" fill="url(#hatch)"/><rect x="1281" y="824.4" width="7.8" height="25.6" fill="url(#hatch)"/><rect x="1277.7" y="749.3" width="2.3" height="24.1" fill="#fff" stroke="#000" stroke-width="0.8"/><rect x="1289.8" y="749.3" width="2.3" height="24.1" fill="#fff" stroke="#000" stroke-width="0.8"/><rect x="1277.7" y="786.3" width="2.3" height="15.6" fill="#fff" stroke="#000" stroke-width="0.8"/><rect x="1289.8" y="786.3" width="2.3" height="15.6" fill="#fff" stroke="#000" stroke-width="0.8"/><rect x="1486.8" y="700" width="12.2" height="156.8" fill="#000"/><rect x="1487.8" y="826.7" width="10.2" height="22.1" fill="url(#hatch)"/><rect x="1484.5" y="749.3" width="2.3" height="24.1" fill="#fff" stroke="#000" stroke-width="0.8"/><rect x="1499" y="749.3" width="2.3" height="24.1" fill="#fff" stroke="#000" stroke-width="0.8"/><rect x="1484.5" y="786.3" width="2.3" height="15.6" fill="#fff" stroke="#000" stroke-width="0.8"/><rect x="1499" y="786.3" width="2.3" height="15.6" fill="#fff" stroke="#000" stroke-width="0.8"/><rect x="1671.2" y="700" width="10.4" height="156.8" fill="#000"/><rect x="1672.2" y="826.7" width="8.4" height="19.7" fill="url(#hatch)"/><rect x="1668.9" y="749.3" width="2.3" height="24.1" fill="#fff" stroke="#000" stroke-width="0.8"/><rect x="1681.6" y="749.3" width="2.3" height="24.1" fill="#fff" stroke="#000" stroke-width="0.8"/><rect x="1668.9" y="786.3" width="2.3" height="15.6" fill="#fff" stroke="#000" stroke-width="0.8"/><rect x="1681.6" y="786.3" width="2.3" height="15.6" fill="#fff" stroke="#000" stroke-width="0.8"/><rect x="1464.4" y="700" width="61.6" height="3" fill="#000"/><rect x="312.8" y="895.6" width="4.2" height="157.4" fill="#000"/><rect x="496" y="895.6" width="4.2" height="157.4" fill="#000"/><rect x="679" y="895.6" width="4.8" height="157.4" fill="#000"/><rect x="1191" y="895.6" width="4.6" height="157.4" fill="#000"/><rect x="1374.5" y="895.6" width="4.5" height="157.4" fill="#000"/><rect x="1582.8" y="895.6" width="5" height="157.4" fill="#000"/><rect x="1766" y="895.6" width="4.8" height="157.4" fill="#000"/><rect x="401" y="895.6" width="11" height="157.4" fill="#000"/><rect x="402" y="1034.4" width="9" height="17.6" fill="url(#hatch)"/><rect x="398.7" y="979.8" width="2.3" height="24.1" fill="#fff" stroke="#000" stroke-width="0.8"/><rect x="412" y="979.8" width="2.3" height="24.1" fill="#fff" stroke="#000" stroke-width="0.8"/><rect x="398.7" y="951.3" width="2.3" height="15.6" fill="#fff" stroke="#000" stroke-width="0.8"/><rect x="412" y="951.3" width="2.3" height="15.6" fill="#fff" stroke="#000" stroke-width="0.8"/><rect x="584.5" y="895.6" width="10.7" height="157.4" fill="#000"/><rect x="585.5" y="904" width="8.7" height="24" fill="url(#hatch)"/><rect x="585.5" y="1032" width="8.7" height="20" fill="url(#hatch)"/><rect x="582.2" y="979.8" width="2.3" height="24.1" fill="#fff" stroke="#000" stroke-width="0.8"/><rect x="595.2" y="979.8" width="2.3" height="24.1" fill="#fff" stroke="#000" stroke-width="0.8"/><rect x="582.2" y="951.3" width="2.3" height="15.6" fill="#fff" stroke="#000" stroke-width="0.8"/><rect x="595.2" y="951.3" width="2.3" height="15.6" fill="#fff" stroke="#000" stroke-width="0.8"/><rect x="767.2" y="895.6" width="10.4" height="157.4" fill="#000"/><rect x="768.2" y="904" width="8.4" height="24" fill="url(#hatch)"/><rect x="768.2" y="1030" width="8.4" height="22" fill="url(#hatch)"/><rect x="764.9" y="979.8" width="2.3" height="24.1" fill="#fff" stroke="#000" stroke-width="0.8"/><rect x="777.6" y="979.8" width="2.3" height="24.1" fill="#fff" stroke="#000" stroke-width="0.8"/><rect x="764.9" y="951.3" width="2.3" height="15.6" fill="#fff" stroke="#000" stroke-width="0.8"/><rect x="777.6" y="951.3" width="2.3" height="15.6" fill="#fff" stroke="#000" stroke-width="0.8"/><rect x="1280" y="895.6" width="10" height="157.4" fill="#000"/><rect x="1281" y="904" width="8" height="24" fill="url(#hatch)"/><rect x="1281" y="1030" width="8" height="22" fill="url(#hatch)"/><rect x="1277.7" y="979.8" width="2.3" height="24.1" fill="#fff" stroke="#000" stroke-width="0.8"/><rect x="1290" y="979.8" width="2.3" height="24.1" fill="#fff" stroke="#000" stroke-width="0.8"/><rect x="1277.7" y="951.3" width="2.3" height="15.6" fill="#fff" stroke="#000" stroke-width="0.8"/><rect x="1290" y="951.3" width="2.3" height="15.6" fill="#fff" stroke="#000" stroke-width="0.8"/><rect x="1486.8" y="895.6" width="12.2" height="157.4" fill="#000"/><rect x="1487.8" y="904" width="10.2" height="24" fill="url(#hatch)"/><rect x="1487.8" y="1032" width="10.2" height="20" fill="url(#hatch)"/><rect x="1484.5" y="979.8" width="2.3" height="24.1" fill="#fff" stroke="#000" stroke-width="0.8"/><rect x="1499" y="979.8" width="2.3" height="24.1" fill="#fff" stroke="#000" stroke-width="0.8"/><rect x="1484.5" y="951.3" width="2.3" height="15.6" fill="#fff" stroke="#000" stroke-width="0.8"/><rect x="1499" y="951.3" width="2.3" height="15.6" fill="#fff" stroke="#000" stroke-width="0.8"/><rect x="1671.2" y="895.6" width="10.4" height="157.4" fill="#000"/><rect x="1672.2" y="904" width="8.4" height="24" fill="url(#hatch)"/><rect x="1672.2" y="1030" width="8.4" height="22" fill="url(#hatch)"/><rect x="1668.9" y="979.8" width="2.3" height="24.1" fill="#fff" stroke="#000" stroke-width="0.8"/><rect x="1681.6" y="979.8" width="2.3" height="24.1" fill="#fff" stroke="#000" stroke-width="0.8"/><rect x="1668.9" y="951.3" width="2.3" height="15.6" fill="#fff" stroke="#000" stroke-width="0.8"/><rect x="1681.6" y="951.3" width="2.3" height="15.6" fill="#fff" stroke="#000" stroke-width="0.8"/><rect x="221.1" y="744.5" width="46.2" height="27.6" fill="#0f7f89"/><text x="244.2" y="764.7" class="lb">208</text><rect x="335.6" y="744.5" width="46.2" height="27.6" fill="#0b5aa8"/><text x="358.7" y="764.7" class="lb">209</text><rect x="427" y="744.5" width="46.2" height="27.6" fill="#0b5aa8"/><text x="450.1" y="764.7" class="lb">210</text><rect x="519.7" y="744.5" width="46.2" height="27.6" fill="#0b5aa8"/><text x="542.8" y="764.7" class="lb">211</text><rect x="627.2" y="744.5" width="46.2" height="27.6" fill="#f3a56b"/><text x="650.3" y="764.7" class="lb">212</text><rect x="728" y="744.5" width="46.2" height="27.6" fill="#0b5aa8"/><text x="751.1" y="764.7" class="lb">213</text><rect x="823.2" y="744.5" width="46.2" height="27.6" fill="#0b5aa8"/><text x="846.3" y="764.7" class="lb">214</text><rect x="911.7" y="744.5" width="46.2" height="27.6" fill="#0b5aa8"/><text x="934.8" y="764.7" class="lb">215</text><rect x="1018" y="744.5" width="46.2" height="27.6" fill="#f3a56b"/><text x="1041.1" y="764.7" class="lb">216</text><rect x="1125.6" y="744.5" width="46.2" height="27.6" fill="#0b5aa8"/><text x="1148.7" y="764.7" class="lb">217</text><rect x="1213.6" y="744.5" width="46.2" height="27.6" fill="#0b5aa8"/><text x="1236.7" y="764.7" class="lb">218</text><rect x="1310" y="744.5" width="46.2" height="27.6" fill="#0b5aa8"/><text x="1333.1" y="764.7" class="lb">219</text><rect x="1409.7" y="744.5" width="46.2" height="27.6" fill="#c8379a"/><text x="1432.8" y="764.7" class="lb">220</text><rect x="1518.8" y="744.5" width="46.2" height="27.6" fill="#0b5aa8"/><text x="1541.9" y="764.7" class="lb">221</text><rect x="1605.5" y="744.5" width="46.2" height="27.6" fill="#0b5aa8"/><text x="1628.6" y="764.7" class="lb">222</text><rect x="1701.1" y="744.5" width="46.2" height="27.6" fill="#0b5aa8"/><text x="1724.2" y="764.7" class="lb">223</text><rect x="1802.3" y="744.5" width="46.2" height="27.6" fill="#fcc800"/><text x="1825.4" y="764.7" class="lb">224</text><rect x="221.5" y="982" width="46.2" height="27.6" fill="#0f7f89"/><text x="244.6" y="1002.2" class="lb">207</text><rect x="336" y="982" width="46.2" height="27.6" fill="#0b5aa8"/><text x="359.1" y="1002.2" class="lb">206</text><rect x="427.2" y="982" width="46.2" height="27.6" fill="#0b5aa8"/><text x="450.3" y="1002.2" class="lb">205</text><rect x="519.5" y="982" width="46.2" height="27.6" fill="#0b5aa8"/><text x="542.6" y="1002.2" class="lb">204</text><rect x="612.8" y="982" width="46.2" height="27.6" fill="#0b5aa8"/><text x="635.9" y="1002.2" class="lb">203</text><rect x="703.2" y="982" width="46.2" height="27.6" fill="#0b5aa8"/><text x="726.3" y="1002.2" class="lb">202</text><rect x="796" y="982" width="46.2" height="27.6" fill="#0b5aa8"/><text x="819.1" y="1002.2" class="lb">201</text><rect x="1125.5" y="982" width="46.2" height="27.6" fill="#0b5aa8"/><text x="1148.6" y="1002.2" class="lb">232</text><rect x="1214.8" y="982" width="46.2" height="27.6" fill="#0b5aa8"/><text x="1237.9" y="1002.2" class="lb">231</text><rect x="1310.5" y="982" width="46.2" height="27.6" fill="#0b5aa8"/><text x="1333.6" y="1002.2" class="lb">230</text><rect x="1409.7" y="982" width="46.2" height="27.6" fill="#c8379a"/><text x="1432.8" y="1002.2" class="lb">229</text><rect x="1518.8" y="982" width="46.2" height="27.6" fill="#0b5aa8"/><text x="1541.9" y="1002.2" class="lb">228</text><rect x="1605.5" y="982" width="46.2" height="27.6" fill="#0b5aa8"/><text x="1628.6" y="1002.2" class="lb">227</text><rect x="1701.2" y="982" width="46.2" height="27.6" fill="#0b5aa8"/><text x="1724.3" y="1002.2" class="lb">226</text><rect x="1802.1" y="982" width="46.2" height="27.6" fill="#fcc800"/><text x="1825.2" y="1002.2" class="lb">225</text>
</svg>
</body></html>
